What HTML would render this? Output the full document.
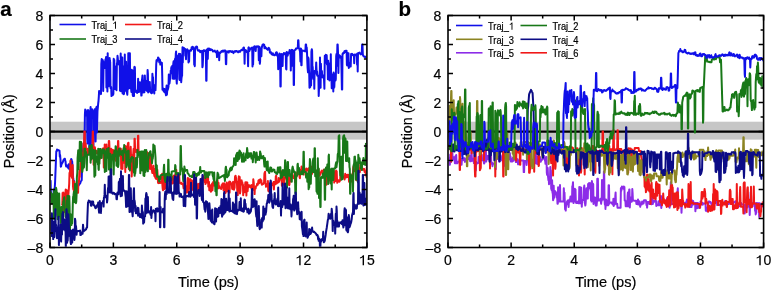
<!DOCTYPE html>
<html><head><meta charset="utf-8"><style>
html,body{margin:0;padding:0;background:#fff;width:771px;height:290px;overflow:hidden}
svg{display:block;filter:blur(0.35px)}
text{font-family:"Liberation Sans",sans-serif;fill:#000;stroke:#000;stroke-width:0.2px}
.tl{font-size:14px}
.at{font-size:14.3px}
.at2{font-size:14.6px}
.pl{font-size:20.5px;font-weight:bold}
.lg{font-size:10px}
</style></head><body>
<svg width="771" height="290" viewBox="0 0 771 290">
<clipPath id="ca"><rect x="50.75" y="16.25" width="315.4" height="230.5"/></clipPath>
<rect x="50" y="121.7" width="316.9" height="17.9" fill="#c6c6c6"/>
<line x1="50" y1="131.6" x2="366.9" y2="131.6" stroke="#000" stroke-width="2.4"/>
<path clip-path="url(#ca)" d="M50.0 196.8L50.3 196.3L50.6 180.8L51.0 197.4L51.3 196.9L51.6 196.4L51.9 195.9L52.2 195.4L52.5 194.9L52.9 194.5L53.2 194.0L53.5 193.5L53.8 189.6L54.1 190.4L54.4 189.9L54.8 187.0L55.1 181.7L55.4 174.0L55.7 166.4L56.0 158.8L56.3 151.2L56.7 151.4L57.0 149.6L57.3 149.7L57.6 149.8L57.9 150.0L58.2 150.1L58.6 150.3L58.9 150.4L59.2 150.6L59.5 150.7L59.8 156.8L60.1 155.0L60.5 159.8L60.8 166.7L61.1 166.3L61.4 164.6L61.7 164.1L62.0 163.3L62.4 162.9L62.7 162.2L63.0 161.7L63.3 160.6L63.6 159.8L63.9 159.4L64.3 159.0L64.6 158.8L64.9 158.7L65.2 160.7L65.5 161.2L65.8 164.5L66.2 166.6L66.5 165.0L66.8 165.6L67.1 166.1L67.4 166.6L67.7 167.1L68.1 167.7L68.4 168.2L68.7 164.3L69.0 164.8L69.3 168.9L69.6 169.5L70.0 165.9L70.3 164.7L70.6 162.5L70.9 160.3L71.2 159.0L71.5 159.4L71.9 161.3L72.2 161.7L72.5 167.0L72.8 172.2L73.1 177.4L73.5 179.7L73.8 180.6L74.1 181.5L74.4 183.9L74.7 184.8L75.0 185.7L75.4 186.5L75.7 186.1L76.0 185.7L76.3 185.2L76.6 184.8L76.9 187.7L77.3 187.3L77.6 186.8L77.9 186.4L78.2 186.0L78.5 185.5L78.8 185.1L79.2 184.6L79.5 184.2L79.8 183.3L80.1 183.3L80.4 182.9L80.7 181.5L81.1 181.0L81.4 180.6L81.7 180.2L82.0 170.2L82.3 160.9L82.6 159.7L83.0 151.4L83.3 147.5L83.6 143.2L83.9 149.4L84.2 145.9L84.5 143.6L84.9 114.5L85.2 109.6L85.5 109.7L85.8 110.8L86.1 111.4L86.4 115.4L86.8 113.3L87.1 113.7L87.4 143.6L87.7 115.5L88.0 110.0L88.3 112.0L88.7 114.2L89.0 111.3L89.3 153.6L89.6 151.4L89.9 149.3L90.2 113.4L90.6 107.0L90.9 145.2L91.2 111.3L91.5 109.8L91.8 112.8L92.1 109.2L92.5 110.3L92.8 111.8L93.1 112.3L93.4 148.9L93.7 111.5L94.0 113.6L94.4 112.8L94.7 109.3L95.0 111.5L95.3 112.5L95.6 141.4L96.0 109.0L96.3 107.7L96.6 106.8L96.9 132.5L97.2 121.3L97.5 110.8L97.9 106.8L98.2 103.3L98.5 101.0L98.8 96.9L99.1 91.1L99.4 91.8L99.8 91.4L100.1 92.5L100.4 92.4L100.7 93.2L101.0 94.1L101.3 64.2L101.7 59.0L102.0 60.6L102.3 60.4L102.6 59.9L102.9 60.6L103.2 90.9L103.6 62.1L103.9 64.0L104.2 63.9L104.5 67.9L104.8 62.9L105.1 61.8L105.5 59.2L105.8 59.8L106.1 56.9L106.4 87.6L106.7 61.2L107.0 60.8L107.4 91.4L107.7 53.2L108.0 86.1L108.3 60.0L108.6 86.3L108.9 85.0L109.3 85.2L109.6 58.0L109.9 61.0L110.2 62.2L110.5 88.0L110.8 86.7L111.2 87.2L111.5 96.1L111.8 94.7L112.1 95.0L112.4 94.3L112.7 95.2L113.1 94.7L113.4 93.7L113.7 58.8L114.0 62.6L114.3 60.1L114.6 88.7L115.0 89.1L115.3 89.0L115.6 69.1L115.9 66.8L116.2 66.3L116.5 90.3L116.9 63.3L117.2 63.3L117.5 55.8L117.8 58.2L118.1 62.2L118.5 64.4L118.8 64.2L119.1 62.4L119.4 64.7L119.7 60.9L120.0 90.8L120.4 89.7L120.7 53.4L121.0 91.2L121.3 77.1L121.6 91.3L121.9 57.6L122.3 57.6L122.6 93.4L122.9 93.0L123.2 92.9L123.5 66.7L123.8 94.2L124.2 92.8L124.5 89.2L124.8 54.6L125.1 88.1L125.4 89.6L125.7 90.8L126.1 61.7L126.4 74.9L126.7 72.2L127.0 93.0L127.3 94.7L127.6 88.6L128.0 89.0L128.3 53.2L128.6 53.2L128.9 59.3L129.2 88.2L129.5 53.2L129.9 53.2L130.2 86.8L130.5 86.1L130.8 87.3L131.1 88.9L131.4 91.9L131.8 69.7L132.1 91.0L132.4 79.0L132.7 94.8L133.0 96.0L133.3 70.6L133.7 70.6L134.0 95.9L134.3 67.1L134.6 66.9L134.9 67.6L135.2 90.7L135.6 90.8L135.9 92.0L136.2 90.7L136.5 90.9L136.8 91.1L137.1 92.9L137.5 92.2L137.8 91.4L138.1 78.7L138.4 89.2L138.7 90.6L139.0 92.0L139.4 90.9L139.7 82.2L140.0 82.2L140.3 86.2L140.6 91.1L141.0 90.4L141.3 95.6L141.6 95.6L141.9 80.4L142.2 78.3L142.5 75.4L142.9 92.6L143.2 91.8L143.5 80.6L143.8 91.0L144.1 91.7L144.4 92.3L144.8 75.4L145.1 80.9L145.4 83.7L145.7 89.4L146.0 80.8L146.3 90.2L146.7 90.3L147.0 90.9L147.3 91.1L147.6 69.9L147.9 74.1L148.2 92.5L148.6 91.9L148.9 91.7L149.2 90.7L149.5 87.1L149.8 82.1L150.1 90.8L150.5 91.2L150.8 92.2L151.1 93.0L151.4 93.2L151.7 92.3L152.0 93.0L152.4 73.7L152.7 79.3L153.0 77.2L153.3 90.0L153.6 91.3L153.9 91.5L154.3 93.5L154.6 85.2L154.9 89.0L155.2 87.7L155.5 90.1L155.8 82.1L156.2 64.7L156.5 60.2L156.8 61.7L157.1 60.2L157.4 59.8L157.7 59.6L158.1 57.4L158.4 58.1L158.7 58.2L159.0 60.3L159.3 62.3L159.6 61.9L160.0 59.8L160.3 64.6L160.6 63.9L160.9 62.3L161.2 64.4L161.5 63.6L161.9 62.8L162.2 74.5L162.5 89.7L162.8 89.1L163.1 88.5L163.5 90.6L163.8 91.4L164.1 90.1L164.4 89.0L164.7 92.3L165.0 91.1L165.4 91.0L165.7 93.4L166.0 95.3L166.3 88.9L166.6 85.5L166.9 94.7L167.3 89.8L167.6 90.1L167.9 89.1L168.2 88.1L168.5 86.5L168.8 74.5L169.2 83.9L169.5 83.3L169.8 80.8L170.1 77.9L170.4 78.9L170.7 70.8L171.1 69.4L171.4 67.0L171.7 73.2L172.0 69.9L172.3 65.7L172.6 65.9L173.0 78.8L173.3 63.4L173.6 61.4L173.9 61.2L174.2 76.0L174.5 78.8L174.9 59.9L175.2 58.4L175.5 62.6L175.8 53.6L176.1 51.4L176.4 78.6L176.8 83.6L177.1 72.9L177.4 56.9L177.7 56.8L178.0 56.0L178.3 55.2L178.7 65.8L179.0 53.7L179.3 79.0L179.6 80.0L179.9 66.9L180.2 53.9L180.6 57.4L180.9 75.6L181.2 82.2L181.5 78.1L181.8 76.3L182.1 75.8L182.5 47.2L182.8 62.4L183.1 48.5L183.4 48.3L183.7 47.8L184.0 48.0L184.4 48.6L184.7 48.7L185.0 48.7L185.3 55.8L185.6 51.7L186.0 59.3L186.3 49.9L186.6 49.6L186.9 49.6L187.2 49.3L187.5 50.9L187.9 50.1L188.2 50.8L188.5 62.5L188.8 59.2L189.1 61.5L189.4 50.7L189.8 50.9L190.1 50.5L190.4 50.1L190.7 50.6L191.0 50.7L191.3 49.8L191.7 47.2L192.0 47.6L192.3 47.2L192.6 46.8L192.9 46.9L193.2 49.0L193.6 48.6L193.9 48.7L194.2 64.8L194.5 62.5L194.8 66.2L195.1 48.0L195.5 47.2L195.8 46.8L196.1 46.8L196.4 46.5L196.7 47.9L197.0 46.8L197.4 49.0L197.7 50.1L198.0 50.3L198.3 50.8L198.6 50.6L198.9 50.7L199.3 50.3L199.6 50.8L199.9 51.0L200.2 52.2L200.5 50.9L200.8 51.2L201.2 51.3L201.5 51.6L201.8 51.5L202.1 50.8L202.4 67.3L202.7 65.8L203.1 57.0L203.4 51.3L203.7 50.3L204.0 50.9L204.3 51.0L204.6 50.4L205.0 50.9L205.3 50.6L205.6 50.7L205.9 50.5L206.2 80.8L206.5 80.8L206.9 49.6L207.2 49.8L207.5 58.0L207.8 58.9L208.1 48.4L208.4 49.2L208.8 50.3L209.1 49.8L209.4 48.6L209.7 49.4L210.0 49.0L210.4 50.1L210.7 49.9L211.0 49.4L211.3 49.6L211.6 49.8L211.9 49.8L212.3 50.2L212.6 50.4L212.9 51.4L213.2 51.1L213.5 51.0L213.8 51.4L214.2 51.2L214.5 51.0L214.8 50.6L215.1 51.2L215.4 51.7L215.7 52.2L216.1 52.3L216.4 52.8L216.7 52.1L217.0 57.1L217.3 50.7L217.6 51.9L218.0 52.3L218.3 52.3L218.6 52.9L218.9 52.7L219.2 60.2L219.5 52.8L219.9 52.5L220.2 53.1L220.5 52.2L220.8 52.2L221.1 51.6L221.4 51.3L221.8 51.6L222.1 51.1L222.4 50.7L222.7 51.5L223.0 51.8L223.3 50.6L223.7 50.8L224.0 51.1L224.3 50.6L224.6 50.5L224.9 50.4L225.2 50.6L225.6 53.7L225.9 64.1L226.2 64.2L226.5 53.4L226.8 51.6L227.1 51.3L227.5 51.8L227.8 51.7L228.1 52.1L228.4 51.8L228.7 52.5L229.0 50.9L229.4 51.4L229.7 51.5L230.0 51.5L230.3 51.1L230.6 51.5L230.9 51.5L231.3 51.9L231.6 51.4L231.9 51.7L232.2 51.9L232.5 51.2L232.9 51.6L233.2 52.3L233.5 53.1L233.8 51.9L234.1 51.9L234.4 51.4L234.8 51.2L235.1 51.8L235.4 51.6L235.7 51.1L236.0 51.2L236.3 50.9L236.7 50.9L237.0 51.6L237.3 51.7L237.6 51.6L237.9 51.6L238.2 52.3L238.6 52.1L238.9 51.2L239.2 51.1L239.5 51.2L239.8 51.4L240.1 51.7L240.5 50.7L240.8 50.7L241.1 50.3L241.4 49.7L241.7 49.8L242.0 50.1L242.4 50.2L242.7 49.7L243.0 49.1L243.3 48.0L243.6 47.5L243.9 47.5L244.3 50.4L244.6 63.7L244.9 50.7L245.2 51.0L245.5 51.0L245.8 50.1L246.2 50.6L246.5 51.5L246.8 52.1L247.1 51.9L247.4 51.8L247.7 51.8L248.1 66.3L248.4 48.0L248.7 47.3L249.0 47.9L249.3 51.0L249.6 50.3L250.0 49.4L250.3 49.0L250.6 48.7L250.9 48.2L251.2 48.1L251.5 48.0L251.9 47.6L252.2 47.6L252.5 66.5L252.8 63.5L253.1 64.5L253.4 51.9L253.8 47.6L254.1 46.7L254.4 46.3L254.7 46.4L255.0 46.4L255.4 46.6L255.7 51.0L256.0 46.9L256.3 47.2L256.6 46.8L256.9 46.3L257.3 46.7L257.6 46.8L257.9 46.3L258.2 46.4L258.5 46.6L258.8 60.2L259.2 46.7L259.5 47.5L259.8 63.8L260.1 61.8L260.4 48.6L260.7 49.0L261.1 48.9L261.4 56.2L261.7 46.7L262.0 47.2L262.3 45.5L262.6 44.7L263.0 44.6L263.3 44.2L263.6 44.8L263.9 44.6L264.2 44.8L264.5 48.3L264.9 46.6L265.2 46.8L265.5 47.6L265.8 48.1L266.1 48.1L266.4 48.7L266.8 49.0L267.1 48.8L267.4 49.1L267.7 49.8L268.0 49.4L268.3 48.5L268.7 47.8L269.0 48.2L269.3 48.8L269.6 49.1L269.9 52.6L270.2 52.2L270.6 52.0L270.9 52.2L271.2 53.4L271.5 54.1L271.8 54.2L272.1 53.8L272.5 54.8L272.8 53.2L273.1 54.0L273.4 54.1L273.7 54.5L274.0 55.2L274.4 55.2L274.7 55.3L275.0 55.0L275.3 54.9L275.6 54.8L275.9 52.8L276.3 52.2L276.6 52.2L276.9 52.6L277.2 55.7L277.5 55.7L277.9 55.1L278.2 69.2L278.5 55.4L278.8 66.2L279.1 55.0L279.4 53.4L279.8 54.3L280.1 54.0L280.4 86.5L280.7 86.5L281.0 55.7L281.3 63.0L281.7 54.1L282.0 54.3L282.3 54.3L282.6 66.1L282.9 53.9L283.2 54.0L283.6 54.5L283.9 53.0L284.2 53.2L284.5 53.3L284.8 54.3L285.1 53.8L285.5 53.3L285.8 54.6L286.1 69.0L286.4 69.4L286.7 52.1L287.0 55.6L287.4 55.7L287.7 55.6L288.0 52.4L288.3 52.6L288.6 53.5L288.9 53.2L289.3 53.3L289.6 50.0L289.9 50.6L290.2 51.3L290.5 51.2L290.8 70.4L291.2 50.6L291.5 50.3L291.8 49.9L292.1 50.3L292.4 65.7L292.7 50.2L293.1 51.9L293.4 51.1L293.7 85.1L294.0 85.1L294.3 50.6L294.6 50.3L295.0 50.0L295.3 49.8L295.6 49.8L295.9 48.6L296.2 48.4L296.5 48.4L296.9 48.5L297.2 48.4L297.5 47.8L297.8 48.0L298.1 40.2L298.4 40.2L298.8 48.2L299.1 48.6L299.4 48.7L299.7 50.7L300.0 50.8L300.4 61.4L300.7 48.4L301.0 48.7L301.3 65.2L301.6 65.2L301.9 50.0L302.3 50.5L302.6 50.6L302.9 50.7L303.2 50.8L303.5 50.9L303.8 50.8L304.2 50.9L304.5 50.7L304.8 51.2L305.1 51.1L305.4 51.4L305.7 44.5L306.1 44.5L306.4 49.5L306.7 47.4L307.0 52.4L307.3 61.1L307.6 68.0L308.0 72.3L308.3 57.6L308.6 59.0L308.9 69.3L309.2 73.0L309.5 87.7L309.9 85.1L310.2 87.2L310.5 85.5L310.8 83.9L311.1 85.3L311.4 51.6L311.8 49.2L312.1 50.7L312.4 66.1L312.7 66.8L313.0 75.7L313.3 78.8L313.7 71.8L314.0 72.1L314.3 88.7L314.6 71.1L314.9 71.6L315.2 72.9L315.6 70.8L315.9 70.0L316.2 62.4L316.5 69.0L316.8 74.6L317.1 71.5L317.5 75.8L317.8 75.6L318.1 75.9L318.4 75.7L318.7 96.0L319.0 88.4L319.4 82.8L319.7 80.8L320.0 57.4L320.3 87.6L320.6 87.7L320.9 63.7L321.3 77.0L321.6 77.2L321.9 71.0L322.2 77.1L322.5 77.2L322.9 75.6L323.2 77.6L323.5 76.3L323.8 75.2L324.1 81.4L324.4 88.8L324.8 55.8L325.1 60.6L325.4 59.6L325.7 54.8L326.0 62.8L326.3 61.9L326.7 55.2L327.0 64.5L327.3 62.8L327.6 64.0L327.9 79.3L328.2 60.8L328.6 79.1L328.9 63.3L329.2 67.5L329.5 80.4L329.8 79.7L330.1 77.6L330.5 78.7L330.8 54.3L331.1 77.2L331.4 75.7L331.7 88.2L332.0 74.2L332.4 75.8L332.7 75.0L333.0 76.4L333.3 91.5L333.6 72.4L333.9 77.6L334.3 87.4L334.6 79.8L334.9 74.4L335.2 74.0L335.5 80.6L335.8 79.1L336.2 56.1L336.5 53.9L336.8 65.7L337.1 56.8L337.4 44.5L337.7 44.5L338.1 54.8L338.4 73.0L338.7 55.1L339.0 55.1L339.3 55.3L339.6 55.4L340.0 55.9L340.3 57.6L340.6 57.7L340.9 57.2L341.2 56.8L341.5 68.8L341.9 89.5L342.2 89.5L342.5 54.1L342.8 53.4L343.1 53.7L343.4 53.2L343.8 52.6L344.1 53.0L344.4 51.3L344.7 51.1L345.0 51.8L345.4 51.9L345.7 50.7L346.0 50.8L346.3 51.0L346.6 50.9L346.9 65.1L347.3 65.5L347.6 64.4L347.9 53.0L348.2 65.7L348.5 53.3L348.8 68.0L349.2 66.6L349.5 66.9L349.8 65.5L350.1 65.5L350.4 62.8L350.7 66.4L351.1 54.0L351.4 54.2L351.7 54.4L352.0 53.8L352.3 54.1L352.6 54.9L353.0 55.2L353.3 55.4L353.6 55.3L353.9 54.8L354.2 63.3L354.5 54.6L354.9 54.5L355.2 54.5L355.5 54.7L355.8 54.9L356.1 55.3L356.4 54.6L356.8 54.0L357.1 64.7L357.4 53.4L357.7 71.6L358.0 53.3L358.3 53.0L358.7 53.2L359.0 52.7L359.3 52.7L359.6 52.5L359.9 53.5L360.2 53.5L360.6 54.2L360.9 54.4L361.2 54.3L361.5 53.8L361.8 53.5L362.1 44.5L362.5 44.5L362.8 54.1L363.1 55.5L363.4 55.9L363.7 56.4L364.0 56.5L364.4 56.5L364.7 56.8L365.0 57.2L365.3 56.7L365.6 56.7L365.9 57.4L366.3 57.0L366.6 56.7L366.9 56.7" fill="none" stroke="#1010e8" stroke-width="2.0" stroke-linejoin="round"/>
<path clip-path="url(#ca)" d="M61.6 204.0L61.9 204.3L62.3 204.6L62.6 192.9L62.9 214.1L63.2 192.5L63.5 193.0L63.8 212.3L64.2 211.0L64.5 212.1L64.8 212.1L65.1 195.7L65.4 193.4L65.7 189.6L66.1 192.1L66.4 190.9L66.7 190.2L67.0 211.2L67.3 196.1L67.6 205.5L68.0 191.9L68.3 195.7L68.6 191.6L68.9 188.1L69.2 183.6L69.5 173.0L69.9 172.1L70.2 169.5L70.5 160.5L70.8 174.6L71.1 174.3L71.4 176.2L71.8 177.0L72.1 177.9L72.4 167.9L72.7 165.1L73.0 186.1L73.3 189.4L73.7 189.5L74.0 192.7L74.3 181.7L74.6 195.7L74.9 194.3L75.2 194.7L75.6 196.7L75.9 187.3L76.2 186.9L76.5 186.1L76.8 191.1L77.1 192.7L77.5 188.4L77.8 190.1L78.1 192.8L78.4 181.1L78.7 181.7L79.0 182.3L79.4 171.4L79.7 177.0L80.0 170.5L80.3 168.2L80.6 164.6L81.0 160.0L81.3 164.1L81.6 165.7L81.9 152.5L82.2 159.3L82.5 158.7L82.9 158.3L83.2 157.7L83.5 143.6L83.8 143.4L84.1 143.0L84.4 131.5L84.8 131.5L85.1 156.6L85.4 143.4L85.7 143.6L86.0 149.0L86.3 149.1L86.7 149.2L87.0 149.2L87.3 148.9L87.6 154.8L87.9 148.7L88.2 152.4L88.6 152.0L88.9 153.1L89.2 153.4L89.5 152.6L89.8 153.7L90.1 152.1L90.5 152.9L90.8 153.3L91.1 153.2L91.4 152.8L91.7 149.8L92.0 151.6L92.4 151.7L92.7 131.5L93.0 131.5L93.3 147.8L93.6 164.8L93.9 156.8L94.3 157.5L94.6 165.0L94.9 147.2L95.2 151.6L95.5 153.1L95.8 152.7L96.2 153.0L96.5 151.6L96.8 150.8L97.1 153.2L97.4 152.3L97.7 152.5L98.1 153.0L98.4 153.3L98.7 153.4L99.0 156.5L99.3 156.3L99.6 154.6L100.0 153.8L100.3 158.4L100.6 157.6L100.9 154.7L101.2 151.8L101.5 152.2L101.9 151.4L102.2 149.7L102.5 149.5L102.8 148.7L103.1 148.3L103.5 148.9L103.8 167.6L104.1 163.3L104.4 161.2L104.7 144.4L105.0 157.3L105.4 158.6L105.7 161.8L106.0 158.3L106.3 144.4L106.6 155.1L106.9 151.3L107.3 153.0L107.6 153.3L107.9 157.3L108.2 147.5L108.5 148.5L108.8 140.9L109.2 140.9L109.5 148.3L109.8 165.9L110.1 150.2L110.4 149.7L110.7 150.0L111.1 148.8L111.4 149.4L111.7 152.0L112.0 153.6L112.3 156.5L112.6 151.1L113.0 149.9L113.3 152.2L113.6 152.2L113.9 151.7L114.2 152.4L114.5 155.7L114.9 152.6L115.2 150.2L115.5 150.0L115.8 160.7L116.1 153.9L116.4 157.8L116.8 157.3L117.1 158.9L117.4 150.7L117.7 153.4L118.0 140.9L118.3 140.9L118.7 154.4L119.0 152.4L119.3 149.0L119.6 155.7L119.9 154.9L120.2 151.2L120.6 148.6L120.9 148.8L121.2 168.8L121.5 166.4L121.8 166.6L122.1 168.1L122.5 168.9L122.8 152.1L123.1 152.0L123.4 152.7L123.7 151.8L124.0 162.8L124.4 160.6L124.7 146.9L125.0 146.4L125.3 172.0L125.6 146.1L126.0 146.6L126.3 165.6L126.6 162.9L126.9 149.0L127.2 148.4L127.5 148.6L127.9 143.5L128.2 142.8L128.5 142.8L128.8 169.1L129.1 153.1L129.4 165.8L129.8 153.9L130.1 153.0L130.4 153.6L130.7 146.8L131.0 155.5L131.3 156.0L131.7 176.4L132.0 171.3L132.3 167.8L132.6 155.3L132.9 154.8L133.2 154.4L133.6 148.9L133.9 148.8L134.2 167.2L134.5 138.8L134.8 138.8L135.1 150.2L135.5 150.6L135.8 151.9L136.1 149.8L136.4 150.3L136.7 150.9L137.0 152.0L137.4 153.0L137.7 152.1L138.0 135.8L138.3 135.8L138.6 152.8L138.9 151.5L139.3 151.7L139.6 152.5L139.9 153.0L140.2 152.7L140.5 159.5L140.8 167.3L141.2 170.3L141.5 154.3L141.8 154.9L142.1 156.4L142.4 157.4L142.7 162.5L143.1 162.0L143.4 157.4L143.7 162.9L144.0 155.8L144.3 156.6L144.6 161.8L145.0 155.6L145.3 155.9L145.6 153.3L145.9 152.4L146.2 152.1L146.5 153.0L146.9 152.2L147.2 152.3L147.5 157.0L147.8 153.7L148.1 153.9L148.5 166.7L148.8 153.2L149.1 156.8L149.4 157.0L149.7 167.7L150.0 169.1L150.4 160.3L150.7 153.9L151.0 154.8L151.3 165.8L151.6 167.8L151.9 170.2L152.3 172.9L152.6 169.9L152.9 171.1L153.2 173.0L153.5 165.8L153.8 172.1L154.2 175.0L154.5 176.4L154.8 168.9L155.1 176.5L155.4 177.8L155.7 178.4L156.1 179.0L156.4 172.5L156.7 172.5L157.0 174.6L157.3 169.8L157.6 174.5L158.0 182.3L158.3 183.1L158.6 182.5L158.9 182.2L159.2 182.8L159.5 183.0L159.9 182.4L160.2 182.9L160.5 182.5L160.8 181.9L161.1 182.6L161.4 180.5L161.8 180.8L162.1 173.7L162.4 185.0L162.7 188.6L163.0 190.2L163.3 176.5L163.7 176.0L164.0 183.0L164.3 189.1L164.6 180.3L164.9 180.4L165.2 179.1L165.6 175.7L165.9 184.2L166.2 188.7L166.5 185.4L166.8 183.3L167.1 183.6L167.5 183.6L167.8 176.2L168.1 179.0L168.4 175.3L168.7 175.9L169.0 173.4L169.4 179.3L169.7 178.7L170.0 178.1L170.3 183.3L170.6 181.8L171.0 180.0L171.3 179.7L171.6 176.5L171.9 183.6L172.2 183.6L172.5 182.7L172.9 180.3L173.2 183.0L173.5 176.0L173.8 175.6L174.1 175.6L174.4 175.9L174.8 175.3L175.1 174.8L175.4 175.6L175.7 171.8L176.0 171.1L176.3 169.9L176.7 177.1L177.0 181.8L177.3 181.9L177.6 176.3L177.9 174.8L178.2 177.4L178.6 177.8L178.9 177.8L179.2 174.8L179.5 182.8L179.8 182.4L180.1 183.1L180.5 183.1L180.8 183.2L181.1 183.7L181.4 182.8L181.7 183.9L182.0 183.4L182.4 183.8L182.7 184.2L183.0 184.0L183.3 186.3L183.6 188.3L183.9 188.2L184.3 181.6L184.6 181.6L184.9 186.6L185.2 185.7L185.5 192.9L185.8 191.9L186.2 191.5L186.5 190.8L186.8 185.9L187.1 192.4L187.4 183.6L187.7 178.0L188.1 178.5L188.4 178.3L188.7 192.8L189.0 187.6L189.3 179.4L189.6 188.1L190.0 179.6L190.3 179.1L190.6 180.0L190.9 179.9L191.2 186.0L191.5 180.4L191.9 180.9L192.2 188.7L192.5 188.7L192.8 188.0L193.1 190.1L193.5 187.2L193.8 178.8L194.1 178.8L194.4 176.5L194.7 193.8L195.0 185.0L195.4 184.4L195.7 185.3L196.0 184.9L196.3 183.2L196.6 196.3L196.9 196.3L197.3 186.4L197.6 185.7L197.9 185.3L198.2 184.1L198.5 186.3L198.8 188.9L199.2 184.5L199.5 183.4L199.8 184.0L200.1 184.6L200.4 190.2L200.7 189.8L201.1 185.7L201.4 181.8L201.7 178.6L202.0 187.3L202.3 184.3L202.6 179.4L203.0 179.9L203.3 180.2L203.6 176.3L203.9 178.0L204.2 178.4L204.5 177.9L204.9 182.2L205.2 180.2L205.5 184.1L205.8 183.0L206.1 181.9L206.4 182.6L206.8 174.0L207.1 176.8L207.4 178.5L207.7 177.8L208.0 174.0L208.3 186.5L208.7 183.0L209.0 181.9L209.3 190.3L209.6 189.7L209.9 190.0L210.2 185.2L210.6 190.5L210.9 191.8L211.2 191.3L211.5 189.9L211.8 186.2L212.1 183.6L212.5 190.2L212.8 185.8L213.1 182.4L213.4 181.7L213.7 183.3L214.0 180.3L214.4 185.5L214.7 181.5L215.0 182.7L215.3 182.5L215.6 186.2L215.9 186.2L216.3 185.0L216.6 185.9L216.9 186.3L217.2 181.1L217.5 180.2L217.9 188.4L218.2 182.8L218.5 182.7L218.8 187.9L219.1 186.0L219.4 187.4L219.8 187.5L220.1 187.3L220.4 188.6L220.7 188.2L221.0 187.8L221.3 189.0L221.7 184.9L222.0 185.1L222.3 185.0L222.6 183.6L222.9 184.0L223.2 183.9L223.6 190.4L223.9 187.4L224.2 183.3L224.5 187.9L224.8 187.1L225.1 188.2L225.5 193.0L225.8 184.4L226.1 184.3L226.4 183.6L226.7 182.5L227.0 191.4L227.4 184.3L227.7 183.5L228.0 188.5L228.3 187.7L228.6 191.3L228.9 182.8L229.3 181.6L229.6 192.6L229.9 181.9L230.2 181.8L230.5 182.6L230.8 183.4L231.2 184.3L231.5 183.7L231.8 183.5L232.1 188.4L232.4 189.1L232.7 182.9L233.1 181.9L233.4 188.4L233.7 187.1L234.0 189.7L234.3 188.1L234.6 187.9L235.0 176.9L235.3 176.1L235.6 175.7L235.9 177.6L236.2 178.1L236.5 182.2L236.9 181.5L237.2 190.3L237.5 191.2L237.8 195.1L238.1 186.7L238.4 189.3L238.8 176.3L239.1 178.7L239.4 178.6L239.7 176.9L240.0 193.6L240.4 191.1L240.7 183.7L241.0 181.2L241.3 180.5L241.6 180.4L241.9 182.8L242.3 182.3L242.6 184.8L242.9 184.5L243.2 195.3L243.5 186.2L243.8 186.0L244.2 187.9L244.5 192.2L244.8 186.3L245.1 185.2L245.4 182.3L245.7 183.8L246.1 186.2L246.4 195.6L246.7 182.2L247.0 182.6L247.3 182.5L247.6 191.2L248.0 186.9L248.3 185.6L248.6 185.2L248.9 186.7L249.2 185.3L249.5 185.5L249.9 186.2L250.2 186.8L250.5 187.4L250.8 187.0L251.1 185.4L251.4 185.0L251.8 189.4L252.1 188.6L252.4 190.3L252.7 188.8L253.0 188.6L253.3 179.3L253.7 182.3L254.0 187.7L254.3 187.7L254.6 194.1L254.9 187.5L255.2 187.8L255.6 188.5L255.9 186.6L256.2 186.0L256.5 186.0L256.8 185.6L257.1 183.8L257.5 184.4L257.8 184.6L258.1 183.5L258.4 180.5L258.7 183.4L259.0 180.1L259.4 183.0L259.7 181.1L260.0 181.1L260.3 179.2L260.6 180.0L260.9 180.2L261.3 180.2L261.6 183.8L261.9 184.7L262.2 184.2L262.5 184.3L262.9 184.1L263.2 183.6L263.5 183.9L263.8 182.9L264.1 182.4L264.4 173.7L264.8 172.2L265.1 171.7L265.4 182.4L265.7 183.5L266.0 186.8L266.3 185.4L266.7 186.1L267.0 185.7L267.3 185.2L267.6 185.3L267.9 180.9L268.2 190.2L268.6 191.3L268.9 186.5L269.2 186.7L269.5 185.3L269.8 190.5L270.1 184.0L270.5 190.8L270.8 188.0L271.1 189.8L271.4 183.8L271.7 184.6L272.0 184.2L272.4 183.6L272.7 183.4L273.0 185.2L273.3 185.0L273.6 181.9L273.9 189.5L274.3 181.9L274.6 182.3L274.9 182.8L275.2 183.2L275.5 184.2L275.8 176.4L276.2 175.6L276.5 183.6L276.8 182.8L277.1 182.8L277.4 181.4L277.7 182.7L278.1 182.4L278.4 182.1L278.7 177.9L279.0 181.8L279.3 181.0L279.6 180.0L280.0 179.0L280.3 179.2L280.6 178.3L280.9 178.5L281.2 171.3L281.5 174.0L281.9 185.7L282.2 182.4L282.5 182.5L282.8 184.4L283.1 183.3L283.4 176.8L283.8 183.4L284.1 184.6L284.4 180.4L284.7 178.0L285.0 177.4L285.4 178.5L285.7 175.3L286.0 177.4L286.3 177.1L286.6 168.6L286.9 168.8L287.3 168.3L287.6 169.3L287.9 177.8L288.2 180.5L288.5 179.4L288.8 184.6L289.2 185.1L289.5 184.3L289.8 177.3L290.1 181.6L290.4 177.0L290.7 176.9L291.1 177.1L291.4 175.6L291.7 174.9L292.0 175.9L292.3 175.8L292.6 176.4L293.0 176.6L293.3 178.0L293.6 177.4L293.9 177.4L294.2 177.0L294.5 173.6L294.9 179.4L295.2 182.1L295.5 173.7L295.8 176.8L296.1 176.9L296.4 176.9L296.8 174.6L297.1 172.6L297.4 174.7L297.7 174.1L298.0 173.6L298.3 172.1L298.7 172.3L299.0 170.8L299.3 170.1L299.6 177.2L299.9 178.2L300.2 170.1L300.6 170.6L300.9 170.8L301.2 171.2L301.5 166.5L301.8 168.8L302.1 170.1L302.5 170.0L302.8 169.7L303.1 170.6L303.4 167.4L303.7 174.6L304.0 168.5L304.4 169.3L304.7 169.7L305.0 169.3L305.3 169.7L305.6 171.0L305.9 171.4L306.3 168.4L306.6 170.7L306.9 170.0L307.2 170.1L307.5 170.5L307.9 169.6L308.2 169.0L308.5 168.4L308.8 172.4L309.1 173.5L309.4 169.5L309.8 168.7L310.1 169.3L310.4 166.3L310.7 169.5L311.0 174.1L311.3 169.9L311.7 174.2L312.0 173.6L312.3 166.7L312.6 166.1L312.9 166.6L313.2 168.4L313.6 162.6L313.9 165.7L314.2 168.8L314.5 170.1L314.8 169.9L315.1 169.8L315.5 170.2L315.8 170.7L316.1 170.9L316.4 171.0L316.7 170.8L317.0 171.2L317.4 172.1L317.7 172.8L318.0 173.0L318.3 171.6L318.6 169.3L318.9 175.9L319.3 175.7L319.6 175.6L319.9 174.3L320.2 174.7L320.5 173.6L320.8 172.1L321.2 172.0L321.5 171.0L321.8 170.6L322.1 171.7L322.4 172.1L322.7 173.2L323.1 173.5L323.4 172.5L323.7 170.0L324.0 169.5L324.3 170.6L324.6 171.0L325.0 175.0L325.3 174.4L325.6 171.9L325.9 172.3L326.2 168.4L326.5 184.7L326.9 170.3L327.2 169.9L327.5 169.9L327.8 176.1L328.1 177.5L328.4 176.7L328.8 176.7L329.1 177.0L329.4 176.7L329.7 176.4L330.0 180.4L330.4 181.1L330.7 182.3L331.0 175.0L331.3 176.5L331.6 176.6L331.9 173.8L332.3 173.9L332.6 173.8L332.9 173.3L333.2 175.9L333.5 176.1L333.8 171.0L334.2 182.6L334.5 172.9L334.8 173.5L335.1 172.8L335.4 181.0L335.7 180.3L336.1 170.4L336.4 171.5L336.7 171.4L337.0 179.5L337.3 182.8L337.6 181.9L338.0 181.3L338.3 181.6L338.6 180.3L338.9 180.7L339.2 181.1L339.5 181.6L339.9 180.8L340.2 179.6L340.5 173.8L340.8 174.4L341.1 173.9L341.4 174.8L341.8 175.1L342.1 175.1L342.4 173.5L342.7 177.3L343.0 176.2L343.3 177.2L343.7 177.6L344.0 178.0L344.3 176.5L344.6 179.5L344.9 176.5L345.2 173.8L345.6 175.0L345.9 174.9L346.2 177.4L346.5 175.1L346.8 176.4L347.1 175.6L347.5 177.1L347.8 174.8L348.1 174.7L348.4 175.1L348.7 175.4L349.0 181.3L349.4 182.2L349.7 181.6L350.0 181.2L350.3 180.8L350.6 181.6L350.9 181.4L351.3 181.0L351.6 180.6L351.9 181.5L352.2 179.4L352.5 174.1L352.9 173.1L353.2 168.2L353.5 166.4L353.8 170.6L354.1 170.5L354.4 171.2L354.8 170.6L355.1 170.8L355.4 170.6L355.7 169.5L356.0 165.6L356.3 180.2L356.7 179.6L357.0 170.4L357.3 172.4L357.6 172.9L357.9 173.2L358.2 169.4L358.6 163.1L358.9 168.6L359.2 171.4L359.5 171.8L359.8 172.2L360.1 168.6L360.5 168.5L360.8 168.3L361.1 168.2L361.4 168.6L361.7 166.1L362.0 169.3L362.4 169.5L362.7 169.7L363.0 169.8L363.3 169.5L363.6 168.8L363.9 169.0L364.3 168.9L364.6 172.0L364.9 172.2L365.2 172.2L365.5 171.1L365.8 173.6L366.2 174.1L366.5 176.8L366.8 166.7" fill="none" stroke="#f01818" stroke-width="2.0" stroke-linejoin="round"/>
<path clip-path="url(#ca)" d="M50.0 204.0L50.3 204.1L50.6 198.8L51.0 192.3L51.3 197.8L51.6 203.2L51.9 202.1L52.2 196.3L52.5 194.2L52.9 194.3L53.2 194.3L53.5 194.4L53.8 218.8L54.1 190.9L54.4 218.9L54.8 214.5L55.1 213.1L55.4 215.9L55.7 192.1L56.0 187.7L56.3 188.9L56.7 192.6L57.0 193.3L57.3 192.9L57.6 219.2L57.9 219.3L58.2 219.3L58.6 210.3L58.9 210.7L59.2 193.6L59.5 210.9L59.8 210.9L60.1 216.0L60.5 217.0L60.8 222.9L61.1 221.1L61.4 206.9L61.7 207.0L62.0 221.6L62.4 207.1L62.7 207.2L63.0 205.2L63.3 201.4L63.6 201.5L63.9 199.0L64.3 197.2L64.6 211.3L64.9 211.4L65.2 211.4L65.5 216.8L65.8 217.1L66.2 217.8L66.5 214.4L66.8 200.4L67.1 219.2L67.4 195.8L67.7 215.5L68.1 211.8L68.4 213.5L68.7 196.0L69.0 196.1L69.3 196.2L69.6 206.3L70.0 230.8L70.3 214.1L70.6 214.2L70.9 221.4L71.2 222.0L71.5 225.0L71.9 219.6L72.2 223.1L72.5 217.5L72.8 204.0L73.1 196.9L73.5 195.2L73.8 192.7L74.1 191.4L74.4 199.5L74.7 202.2L75.0 184.1L75.4 187.2L75.7 193.9L76.0 203.2L76.3 201.3L76.6 194.1L76.9 177.1L77.3 172.6L77.6 157.8L77.9 154.7L78.2 150.3L78.5 169.4L78.8 153.4L79.2 161.3L79.5 160.1L79.8 141.8L80.1 141.8L80.4 153.5L80.7 161.2L81.1 141.9L81.4 151.1L81.7 157.7L82.0 170.4L82.3 172.0L82.6 169.6L83.0 168.2L83.3 157.6L83.6 165.8L83.9 167.6L84.2 163.7L84.5 148.8L84.9 148.8L85.2 148.8L85.5 151.6L85.8 154.7L86.1 151.9L86.4 157.3L86.8 170.3L87.1 154.7L87.4 154.7L87.7 154.7L88.0 154.7L88.3 154.7L88.7 154.7L89.0 154.7L89.3 154.7L89.6 145.9L89.9 153.6L90.2 148.9L90.6 162.8L90.9 148.9L91.2 159.8L91.5 145.0L91.8 145.0L92.1 153.3L92.5 158.4L92.8 156.1L93.1 157.3L93.4 153.6L93.7 149.9L94.0 152.9L94.4 176.7L94.7 173.7L95.0 174.7L95.3 175.4L95.6 150.6L96.0 158.7L96.3 158.7L96.6 161.8L96.9 157.0L97.2 158.7L97.5 158.7L97.9 164.4L98.2 148.7L98.5 168.9L98.8 169.9L99.1 155.2L99.4 163.8L99.8 149.0L100.1 150.2L100.4 149.1L100.7 149.1L101.0 154.7L101.3 156.9L101.7 158.0L102.0 153.0L102.3 150.9L102.6 150.9L102.9 149.5L103.2 152.9L103.6 149.5L103.9 149.5L104.2 152.7L104.5 155.7L104.8 172.0L105.1 168.2L105.5 151.2L105.8 151.2L106.1 159.6L106.4 171.1L106.7 148.9L107.0 148.9L107.4 157.7L107.7 149.3L108.0 149.9L108.3 154.6L108.6 148.1L108.9 169.6L109.3 167.7L109.6 153.5L109.9 153.8L110.2 153.8L110.5 173.1L110.8 174.6L111.2 157.8L111.5 157.8L111.8 159.6L112.1 156.8L112.4 154.7L112.7 155.6L113.1 156.3L113.4 167.5L113.7 174.4L114.0 158.8L114.3 151.1L114.6 156.2L115.0 156.2L115.3 156.2L115.6 146.3L115.9 146.4L116.2 151.3L116.5 165.8L116.9 151.3L117.2 151.3L117.5 154.6L117.8 161.6L118.1 167.1L118.5 164.4L118.8 149.7L119.1 148.8L119.4 151.2L119.7 148.6L120.0 154.5L120.4 154.1L120.7 151.6L121.0 151.6L121.3 151.6L121.6 151.9L121.9 155.0L122.3 150.8L122.6 154.4L122.9 151.9L123.2 160.4L123.5 148.2L123.8 152.3L124.2 144.9L124.5 152.5L124.8 150.0L125.1 149.3L125.4 148.7L125.7 152.2L126.1 152.2L126.4 167.2L126.7 165.5L127.0 164.0L127.3 162.8L127.6 151.3L128.0 150.7L128.3 150.7L128.6 150.7L128.9 166.9L129.2 166.9L129.5 167.9L129.9 170.5L130.2 163.1L130.5 159.7L130.8 161.8L131.1 158.1L131.4 158.1L131.8 157.0L132.1 157.2L132.4 158.0L132.7 158.0L133.0 157.7L133.3 157.7L133.7 170.6L134.0 172.5L134.3 169.1L134.6 175.8L134.9 171.9L135.2 173.7L135.6 169.6L135.9 157.9L136.2 157.9L136.5 164.1L136.8 167.4L137.1 163.1L137.5 149.9L137.8 157.1L138.1 152.8L138.4 152.8L138.7 152.8L139.0 152.8L139.4 155.0L139.7 152.2L140.0 152.0L140.3 173.2L140.6 155.0L141.0 151.6L141.3 151.6L141.6 151.6L141.9 168.2L142.2 170.4L142.5 151.6L142.9 151.6L143.2 151.6L143.5 175.5L143.8 175.0L144.1 175.1L144.4 176.1L144.8 150.0L145.1 150.1L145.4 172.1L145.7 171.0L146.0 159.0L146.3 150.1L146.7 158.4L147.0 169.0L147.3 168.7L147.6 169.0L147.9 171.3L148.2 158.3L148.6 158.3L148.9 153.2L149.2 153.2L149.5 153.2L149.8 153.2L150.1 151.4L150.5 151.3L150.8 155.6L151.1 155.3L151.4 155.1L151.7 158.9L152.0 163.2L152.4 158.3L152.7 159.0L153.0 156.5L153.3 144.5L153.6 146.4L153.9 146.2L154.3 146.0L154.6 145.8L154.9 149.7L155.2 153.6L155.5 157.5L155.8 166.4L156.2 169.6L156.5 173.0L156.8 165.4L157.1 176.8L157.4 176.4L157.7 176.7L158.1 176.7L158.4 176.6L158.7 176.6L159.0 180.2L159.3 181.5L159.6 179.5L160.0 179.2L160.3 179.1L160.6 175.3L160.9 175.2L161.2 175.1L161.5 175.0L161.9 175.0L162.2 174.9L162.5 174.9L162.8 174.8L163.1 174.8L163.5 174.7L163.8 167.6L164.1 164.7L164.4 174.6L164.7 179.0L165.0 179.8L165.4 182.0L165.7 182.0L166.0 175.9L166.3 173.8L166.6 173.8L166.9 173.7L167.3 180.9L167.6 180.9L167.9 180.9L168.2 159.8L168.5 159.8L168.8 176.7L169.2 173.5L169.5 175.3L169.8 175.4L170.1 175.4L170.4 175.3L170.7 179.1L171.1 177.8L171.4 179.9L171.7 171.5L172.0 171.5L172.3 171.4L172.6 171.4L173.0 171.3L173.3 171.3L173.6 171.2L173.9 171.2L174.2 171.1L174.5 171.1L174.9 171.1L175.2 165.1L175.5 165.8L175.8 174.1L176.1 174.3L176.4 174.3L176.8 174.2L177.1 173.2L177.4 173.1L177.7 173.1L178.0 173.0L178.3 173.0L178.7 174.6L179.0 174.6L179.3 174.5L179.6 174.5L179.9 174.4L180.2 174.4L180.6 146.0L180.9 146.0L181.2 161.4L181.5 168.3L181.8 168.3L182.1 168.2L182.5 171.4L182.8 170.9L183.1 179.3L183.4 181.3L183.7 175.4L184.0 175.3L184.4 166.5L184.7 169.0L185.0 171.1L185.3 170.2L185.6 170.2L186.0 170.1L186.3 170.1L186.6 170.0L186.9 170.0L187.2 170.0L187.5 172.8L187.9 173.3L188.2 173.7L188.5 174.1L188.8 174.6L189.1 175.0L189.4 175.4L189.8 176.2L190.1 176.2L190.4 176.2L190.7 176.2L191.0 176.2L191.3 176.2L191.7 176.9L192.0 176.9L192.3 175.3L192.6 176.9L192.9 176.9L193.2 172.1L193.6 172.1L193.9 172.1L194.2 172.1L194.5 172.1L194.8 173.8L195.1 173.8L195.5 173.8L195.8 173.8L196.1 175.5L196.4 177.0L196.7 173.9L197.0 175.4L197.4 175.4L197.7 174.4L198.0 174.4L198.3 172.8L198.6 172.8L198.9 174.7L199.3 173.3L199.6 171.5L199.9 170.9L200.2 166.9L200.5 172.6L200.8 172.6L201.2 172.6L201.5 170.9L201.8 170.9L202.1 170.9L202.4 170.9L202.7 170.9L203.1 170.9L203.4 170.9L203.7 170.9L204.0 170.9L204.3 170.9L204.6 174.6L205.0 174.6L205.3 178.2L205.6 177.2L205.9 177.2L206.2 172.3L206.5 172.7L206.9 172.7L207.2 172.7L207.5 172.7L207.8 172.7L208.1 177.2L208.4 172.3L208.8 174.3L209.1 174.3L209.4 174.8L209.7 172.3L210.0 172.2L210.4 172.2L210.7 172.2L211.0 172.2L211.3 172.2L211.6 172.2L211.9 172.2L212.3 172.2L212.6 175.3L212.9 176.2L213.2 176.7L213.5 178.8L213.8 180.1L214.2 172.6L214.5 182.7L214.8 184.0L215.1 182.4L215.4 191.2L215.7 187.5L216.1 187.4L216.4 195.3L216.7 195.3L217.0 180.6L217.3 177.1L217.6 172.8L218.0 175.6L218.3 174.3L218.6 178.3L218.9 178.1L219.2 177.9L219.5 177.7L219.9 177.6L220.2 177.4L220.5 177.2L220.8 177.0L221.1 176.9L221.4 176.5L221.8 176.4L222.1 176.2L222.4 176.0L222.7 175.8L223.0 175.7L223.3 175.5L223.7 175.3L224.0 175.1L224.3 177.6L224.6 176.2L224.9 181.0L225.2 176.7L225.6 168.1L225.9 166.7L226.2 169.9L226.5 169.5L226.8 175.1L227.1 177.2L227.5 176.8L227.8 176.3L228.1 175.9L228.4 175.5L228.7 175.3L229.0 171.9L229.4 170.9L229.7 171.5L230.0 168.8L230.3 168.4L230.6 167.9L230.9 167.5L231.3 170.2L231.6 169.8L231.9 169.4L232.2 167.3L232.5 166.9L232.9 166.5L233.2 166.0L233.5 165.6L233.8 165.2L234.1 158.3L234.4 163.2L234.8 162.2L235.1 161.2L235.4 160.3L235.7 164.9L236.0 155.9L236.3 154.9L236.7 153.9L237.0 153.0L237.3 159.2L237.6 161.0L237.9 158.9L238.2 152.6L238.6 154.6L238.9 159.2L239.2 156.6L239.5 150.6L239.8 151.5L240.1 151.4L240.5 152.5L240.8 153.6L241.1 152.9L241.4 158.3L241.7 154.7L242.0 161.8L242.4 157.0L242.7 156.2L243.0 157.0L243.3 159.1L243.6 153.2L243.9 161.7L244.3 159.8L244.6 158.4L244.9 159.8L245.2 157.5L245.5 160.3L245.8 156.4L246.2 153.2L246.5 153.2L246.8 153.2L247.1 148.1L247.4 150.4L247.7 158.0L248.1 157.2L248.4 153.2L248.7 153.2L249.0 153.2L249.3 156.2L249.6 156.7L250.0 154.8L250.3 153.2L250.6 153.2L250.9 153.2L251.2 153.2L251.5 158.6L251.9 158.2L252.2 157.2L252.5 155.7L252.8 162.2L253.1 158.6L253.4 157.5L253.8 152.1L254.1 153.1L254.4 152.1L254.7 155.3L255.0 156.2L255.4 157.9L255.7 162.4L256.0 157.7L256.3 158.4L256.6 152.6L256.9 155.6L257.3 157.9L257.6 159.9L257.9 156.7L258.2 158.6L258.5 158.6L258.8 158.6L259.2 160.0L259.5 159.0L259.8 156.7L260.1 151.4L260.4 153.0L260.7 153.5L261.1 158.0L261.4 158.2L261.7 156.5L262.0 158.0L262.3 157.0L262.6 156.9L263.0 158.6L263.3 155.9L263.6 158.9L263.9 159.5L264.2 164.4L264.5 166.6L264.9 158.0L265.2 161.0L265.5 161.6L265.8 162.3L266.1 161.9L266.4 167.1L266.8 170.2L267.1 168.4L267.4 169.0L267.7 161.5L268.0 170.4L268.3 171.0L268.7 171.7L269.0 172.3L269.3 173.0L269.6 170.4L269.9 170.7L270.2 167.5L270.6 167.6L270.9 167.6L271.2 167.7L271.5 171.4L271.8 171.3L272.1 171.4L272.5 170.3L272.8 170.4L273.1 169.5L273.4 169.5L273.7 169.6L274.0 169.7L274.4 169.7L274.7 172.2L275.0 172.3L275.3 172.3L275.6 172.4L275.9 172.5L276.3 173.7L276.6 173.8L276.9 173.9L277.2 173.9L277.5 171.4L277.9 167.4L278.2 167.5L278.5 172.2L278.8 172.3L279.1 172.4L279.4 172.4L279.8 167.2L280.1 167.2L280.4 167.3L280.7 178.2L281.0 177.7L281.3 177.4L281.7 177.5L282.0 177.5L282.3 173.9L282.6 172.3L282.9 170.1L283.2 174.1L283.6 175.1L283.9 175.2L284.2 175.3L284.5 175.3L284.8 169.9L285.1 160.2L285.5 162.5L285.8 176.9L286.1 177.0L286.4 173.7L286.7 173.7L287.0 187.6L287.4 173.9L287.7 161.9L288.0 161.9L288.3 174.1L288.6 174.1L288.9 174.2L289.3 175.9L289.6 170.1L289.9 174.4L290.2 174.2L290.5 174.3L290.8 176.9L291.2 176.9L291.5 181.8L291.8 181.8L292.1 169.8L292.4 167.7L292.7 166.6L293.1 169.1L293.4 170.3L293.7 170.3L294.0 172.1L294.3 172.1L294.6 172.1L295.0 172.1L295.3 192.7L295.6 194.3L295.9 194.4L296.2 176.6L296.5 176.6L296.9 175.4L297.2 175.4L297.5 164.5L297.8 163.7L298.1 168.1L298.4 168.1L298.8 168.1L299.1 168.1L299.4 174.2L299.7 174.2L300.0 174.2L300.4 174.2L300.7 174.2L301.0 174.2L301.3 174.2L301.6 171.2L301.9 173.6L302.3 172.5L302.6 174.2L302.9 174.2L303.2 167.6L303.5 151.8L303.8 151.8L304.2 172.0L304.5 172.0L304.8 172.0L305.1 171.9L305.4 171.9L305.7 171.9L306.1 177.6L306.4 173.4L306.7 173.3L307.0 173.3L307.3 181.7L307.6 176.1L308.0 176.1L308.3 176.0L308.6 189.3L308.9 171.3L309.2 187.7L309.5 172.0L309.9 159.0L310.2 161.4L310.5 171.9L310.8 183.7L311.1 171.9L311.4 171.8L311.8 171.8L312.1 169.0L312.4 171.7L312.7 163.0L313.0 159.9L313.3 158.6L313.7 172.3L314.0 172.3L314.3 171.4L314.6 148.2L314.9 148.2L315.2 176.3L315.6 170.5L315.9 170.4L316.2 170.4L316.5 191.1L316.8 192.0L317.1 189.3L317.5 193.8L317.8 158.3L318.1 172.4L318.4 172.3L318.7 168.4L319.0 198.1L319.4 193.1L319.7 195.4L320.0 194.4L320.3 206.9L320.6 206.9L320.9 177.2L321.3 177.1L321.6 177.1L321.9 177.0L322.2 177.9L322.5 177.8L322.9 173.4L323.2 177.8L323.5 177.7L323.8 177.7L324.1 177.7L324.4 169.6L324.8 199.7L325.1 199.7L325.4 172.5L325.7 175.0L326.0 167.6L326.3 175.0L326.7 174.9L327.0 176.4L327.3 164.5L327.6 164.7L327.9 173.5L328.2 184.1L328.6 155.9L328.9 154.6L329.2 169.0L329.5 169.0L329.8 169.0L330.1 169.0L330.5 183.5L330.8 181.8L331.1 179.6L331.4 172.9L331.7 189.5L332.0 168.6L332.4 174.1L332.7 174.1L333.0 174.1L333.3 179.9L333.6 174.0L333.9 168.4L334.3 168.4L334.6 168.3L334.9 168.3L335.2 168.3L335.5 165.7L335.8 163.9L336.2 162.2L336.5 167.2L336.8 164.6L337.1 162.6L337.4 161.6L337.7 154.6L338.1 152.9L338.4 151.1L338.7 136.1L339.0 156.1L339.3 135.2L339.6 156.1L340.0 171.8L340.3 175.5L340.6 171.9L340.9 170.8L341.2 156.8L341.5 179.7L341.9 156.8L342.2 156.8L342.5 179.0L342.8 177.1L343.1 138.6L343.4 136.0L343.8 140.2L344.1 135.2L344.4 138.4L344.7 152.8L345.0 152.8L345.4 138.5L345.7 140.5L346.0 160.9L346.3 146.4L346.6 160.9L346.9 160.9L347.3 141.6L347.6 158.7L347.9 158.7L348.2 158.7L348.5 160.5L348.8 162.2L349.2 158.3L349.5 167.2L349.8 168.9L350.1 193.8L350.4 193.8L350.7 174.2L351.1 175.9L351.4 176.3L351.7 176.0L352.0 177.7L352.3 177.1L352.6 175.4L353.0 191.5L353.3 171.9L353.6 165.1L353.9 164.7L354.2 163.0L354.5 156.7L354.9 156.6L355.2 161.5L355.5 160.5L355.8 179.6L356.1 172.5L356.4 173.7L356.8 175.1L357.1 175.8L357.4 162.2L357.7 181.5L358.0 182.3L358.3 154.8L358.7 158.7L359.0 162.8L359.3 162.9L359.6 158.3L359.9 161.8L360.2 162.0L360.6 162.1L360.9 168.3L361.2 163.2L361.5 162.4L361.8 170.0L362.1 162.7L362.5 163.6L362.8 163.7L363.1 161.3L363.4 158.1L363.7 160.7L364.0 164.3L364.4 164.4L364.7 164.5L365.0 164.6L365.3 164.8L365.6 164.9L365.9 143.8L366.3 163.7L366.6 163.8L366.9 163.9" fill="none" stroke="#187818" stroke-width="2.0" stroke-linejoin="round"/>
<path clip-path="url(#ca)" d="M50.0 227.2L50.3 222.8L50.6 215.7L51.0 229.7L51.3 219.3L51.6 236.0L51.9 213.3L52.2 225.2L52.5 228.2L52.9 228.1L53.2 239.1L53.5 231.9L53.8 221.6L54.1 236.2L54.4 237.1L54.8 229.3L55.1 231.0L55.4 209.2L55.7 229.2L56.0 224.6L56.3 226.2L56.7 227.8L57.0 238.2L57.3 232.8L57.6 227.5L57.9 236.1L58.2 236.0L58.6 216.8L58.9 245.1L59.2 236.4L59.5 229.7L59.8 236.7L60.1 228.9L60.5 236.9L60.8 224.6L61.1 241.6L61.4 232.0L61.7 230.2L62.0 234.5L62.4 213.8L62.7 213.0L63.0 212.1L63.3 222.4L63.6 229.6L63.9 225.6L64.3 219.4L64.6 223.0L64.9 223.8L65.2 230.9L65.5 226.1L65.8 247.5L66.2 226.4L66.5 209.3L66.8 211.8L67.1 242.7L67.4 224.5L67.7 240.7L68.1 231.5L68.4 214.3L68.7 219.5L69.0 227.9L69.3 233.5L69.6 235.9L70.0 229.9L70.3 236.8L70.6 242.1L70.9 244.1L71.2 234.4L71.5 237.9L71.9 230.5L72.2 242.6L72.5 231.0L72.8 233.6L73.1 229.6L73.5 234.8L73.8 232.3L74.1 234.3L74.4 240.0L74.7 237.0L75.0 218.7L75.4 221.0L75.7 231.0L76.0 226.1L76.3 229.5L76.6 234.7L76.9 230.6L77.3 231.0L77.6 231.3L77.9 231.2L78.2 231.1L78.5 231.0L78.8 230.9L79.2 230.9L79.5 230.8L79.8 230.7L80.1 230.6L80.4 235.1L80.7 235.1L81.1 234.5L81.4 234.4L81.7 232.5L82.0 232.3L82.3 232.0L82.6 233.8L83.0 224.7L83.3 227.9L83.6 231.3L83.9 231.1L84.2 230.8L84.5 230.5L84.9 230.3L85.2 230.0L85.5 229.8L85.8 229.5L86.1 229.2L86.4 228.1L86.8 227.8L87.1 227.2L87.4 217.2L87.7 209.8L88.0 202.4L88.3 202.4L88.7 200.6L89.0 202.0L89.3 202.1L89.6 201.3L89.9 201.3L90.2 201.4L90.6 201.5L90.9 205.6L91.2 205.7L91.5 205.8L91.8 201.4L92.1 201.5L92.5 201.5L92.8 201.6L93.1 201.6L93.4 203.9L93.7 205.2L94.0 205.1L94.4 205.3L94.7 206.2L95.0 207.0L95.3 208.0L95.6 208.2L96.0 207.8L96.3 207.4L96.6 207.2L96.9 205.5L97.2 205.0L97.5 205.0L97.9 204.9L98.2 202.4L98.5 204.5L98.8 210.0L99.1 212.7L99.4 206.7L99.8 201.1L100.1 207.9L100.4 203.8L100.7 209.5L101.0 212.9L101.3 203.6L101.7 203.1L102.0 202.9L102.3 202.6L102.6 202.6L102.9 201.9L103.2 200.7L103.6 206.6L103.9 198.0L104.2 196.7L104.5 194.9L104.8 184.8L105.1 197.3L105.5 197.3L105.8 196.9L106.1 197.2L106.4 196.8L106.7 195.7L107.0 202.5L107.4 199.7L107.7 193.0L108.0 188.0L108.3 192.3L108.6 176.4L108.9 178.8L109.3 192.3L109.6 179.9L109.9 176.1L110.2 192.4L110.5 192.2L110.8 169.2L111.2 169.2L111.5 192.5L111.8 192.2L112.1 193.0L112.4 193.5L112.7 193.7L113.1 193.1L113.4 192.8L113.7 192.8L114.0 193.0L114.3 193.3L114.6 194.2L115.0 194.0L115.3 194.0L115.6 194.1L115.9 194.1L116.2 194.2L116.5 199.1L116.9 199.3L117.2 194.5L117.5 192.5L117.8 193.8L118.1 193.7L118.5 194.2L118.8 182.0L119.1 183.1L119.4 181.3L119.7 182.4L120.0 178.7L120.4 190.3L120.7 196.3L121.0 171.2L121.3 194.7L121.6 193.9L121.9 195.8L122.3 187.4L122.6 182.7L122.9 175.9L123.2 190.6L123.5 190.8L123.8 190.4L124.2 190.5L124.5 190.9L124.8 190.7L125.1 192.1L125.4 194.8L125.7 197.2L126.1 207.0L126.4 194.3L126.7 191.2L127.0 204.3L127.3 206.4L127.6 206.3L128.0 206.0L128.3 205.5L128.6 199.9L128.9 175.0L129.2 175.0L129.5 212.1L129.9 204.6L130.2 188.3L130.5 191.5L130.8 188.3L131.1 203.0L131.4 211.8L131.8 200.8L132.1 201.1L132.4 213.6L132.7 216.3L133.0 208.8L133.3 205.8L133.7 190.6L134.0 188.2L134.3 203.7L134.6 200.5L134.9 203.0L135.2 211.2L135.6 205.9L135.9 213.3L136.2 212.8L136.5 213.3L136.8 212.1L137.1 212.5L137.5 212.6L137.8 207.7L138.1 215.7L138.4 208.0L138.7 212.8L139.0 213.4L139.4 213.9L139.7 213.7L140.0 217.1L140.3 216.9L140.6 216.6L141.0 216.6L141.3 217.2L141.6 217.6L141.9 205.6L142.2 210.7L142.5 211.2L142.9 212.6L143.2 223.6L143.5 217.4L143.8 216.6L144.1 222.4L144.4 216.7L144.8 216.5L145.1 216.4L145.4 198.4L145.7 213.8L146.0 195.2L146.3 193.1L146.7 194.5L147.0 212.7L147.3 212.5L147.6 211.8L147.9 197.1L148.2 211.6L148.6 211.0L148.9 212.6L149.2 211.2L149.5 211.5L149.8 211.7L150.1 212.3L150.5 214.6L150.8 214.8L151.1 207.0L151.4 218.0L151.7 214.1L152.0 213.2L152.4 212.7L152.7 211.5L153.0 211.3L153.3 210.3L153.6 210.6L153.9 210.6L154.3 211.1L154.6 211.3L154.9 213.0L155.2 212.8L155.5 221.2L155.8 209.0L156.2 208.8L156.5 208.6L156.8 208.5L157.1 208.7L157.4 208.4L157.7 211.6L158.1 209.0L158.4 211.2L158.7 211.0L159.0 211.0L159.3 210.9L159.6 191.9L160.0 227.2L160.3 227.2L160.6 207.1L160.9 211.7L161.2 212.3L161.5 212.3L161.9 212.0L162.2 211.8L162.5 211.6L162.8 212.4L163.1 208.7L163.5 209.1L163.8 210.9L164.1 227.2L164.4 227.2L164.7 199.9L165.0 193.8L165.4 191.5L165.7 199.3L166.0 192.3L166.3 192.2L166.6 194.2L166.9 182.5L167.3 179.1L167.6 177.0L167.9 191.7L168.2 191.8L168.5 192.6L168.8 191.2L169.2 191.4L169.5 191.9L169.8 192.6L170.1 177.0L170.4 192.6L170.7 178.0L171.1 193.0L171.4 192.7L171.7 193.0L172.0 193.0L172.3 195.8L172.6 198.8L173.0 192.5L173.3 200.0L173.6 191.9L173.9 191.9L174.2 193.8L174.5 178.8L174.9 176.3L175.2 179.2L175.5 176.5L175.8 181.6L176.1 193.9L176.4 193.7L176.8 193.7L177.1 193.8L177.4 179.6L177.7 176.6L178.0 193.1L178.3 174.2L178.7 190.6L179.0 193.1L179.3 192.7L179.6 196.6L179.9 194.0L180.2 194.9L180.6 194.6L180.9 194.0L181.2 195.8L181.5 197.1L181.8 196.7L182.1 196.6L182.5 196.9L182.8 197.1L183.1 196.8L183.4 196.5L183.7 206.0L184.0 198.5L184.4 197.0L184.7 175.0L185.0 175.0L185.3 206.2L185.6 195.4L186.0 195.6L186.3 195.7L186.6 196.1L186.9 196.4L187.2 196.1L187.5 195.8L187.9 196.0L188.2 195.9L188.5 195.9L188.8 196.4L189.1 191.9L189.4 196.1L189.8 196.3L190.1 196.2L190.4 196.7L190.7 195.0L191.0 182.7L191.3 194.9L191.7 194.9L192.0 195.4L192.3 194.8L192.6 194.7L192.9 194.6L193.2 194.4L193.6 194.3L193.9 197.0L194.2 174.5L194.5 194.4L194.8 194.5L195.1 204.7L195.5 194.5L195.8 193.6L196.1 177.8L196.4 191.8L196.7 218.5L197.0 218.5L197.4 192.3L197.7 192.6L198.0 193.0L198.3 191.8L198.6 190.1L198.9 192.2L199.3 192.5L199.6 196.0L199.9 190.4L200.2 190.8L200.5 179.1L200.8 181.4L201.2 191.8L201.5 192.1L201.8 199.0L202.1 200.3L202.4 175.0L202.7 175.0L203.1 202.0L203.4 202.2L203.7 202.3L204.0 202.8L204.3 206.2L204.6 209.5L205.0 209.3L205.3 211.7L205.6 208.8L205.9 201.3L206.2 201.4L206.5 201.6L206.9 201.8L207.2 202.4L207.5 204.4L207.8 208.9L208.1 213.7L208.4 218.9L208.8 218.2L209.1 218.7L209.4 203.2L209.7 207.8L210.0 216.9L210.4 210.5L210.7 220.6L211.0 220.6L211.3 221.3L211.6 221.7L211.9 222.4L212.3 209.6L212.6 221.8L212.9 221.7L213.2 222.1L213.5 223.5L213.8 223.7L214.2 223.9L214.5 224.1L214.8 221.4L215.1 208.3L215.4 219.6L215.7 218.6L216.1 221.6L216.4 209.5L216.7 208.9L217.0 216.7L217.3 216.9L217.6 216.6L218.0 216.3L218.3 216.5L218.6 212.7L218.9 207.7L219.2 212.5L219.5 212.7L219.9 212.9L220.2 212.4L220.5 205.9L220.8 212.3L221.1 211.5L221.4 199.0L221.8 214.5L222.1 216.7L222.4 214.4L222.7 213.5L223.0 199.5L223.3 214.5L223.7 214.1L224.0 193.5L224.3 192.0L224.6 212.9L224.9 212.6L225.2 212.4L225.6 211.4L225.9 200.3L226.2 198.8L226.5 202.2L226.8 209.9L227.1 207.3L227.5 210.1L227.8 209.1L228.1 207.7L228.4 207.4L228.7 190.7L229.0 204.9L229.4 211.5L229.7 198.4L230.0 208.8L230.3 210.9L230.6 211.1L230.9 210.9L231.3 211.1L231.6 211.0L231.9 210.7L232.2 211.3L232.5 211.6L232.9 202.5L233.2 211.9L233.5 204.0L233.8 212.3L234.1 204.2L234.4 213.2L234.8 213.0L235.1 212.8L235.4 213.3L235.7 213.6L236.0 192.4L236.3 192.4L236.7 213.8L237.0 214.1L237.3 210.2L237.6 209.9L237.9 210.2L238.2 210.1L238.6 210.4L238.9 209.8L239.2 209.7L239.5 202.1L239.8 204.9L240.1 209.0L240.5 210.1L240.8 198.2L241.1 210.5L241.4 210.3L241.7 209.7L242.0 210.9L242.4 210.3L242.7 208.5L243.0 211.5L243.3 211.5L243.6 211.7L243.9 211.3L244.3 200.6L244.6 199.6L244.9 200.1L245.2 208.8L245.5 203.7L245.8 207.4L246.2 208.0L246.5 209.7L246.8 209.7L247.1 209.3L247.4 212.3L247.7 209.4L248.1 209.3L248.4 208.7L248.7 212.5L249.0 213.7L249.3 211.0L249.6 210.3L250.0 212.9L250.3 211.6L250.6 211.9L250.9 211.2L251.2 208.2L251.5 207.8L251.9 189.7L252.2 189.0L252.5 206.9L252.8 206.3L253.1 206.8L253.4 206.4L253.8 203.9L254.1 199.5L254.4 204.9L254.7 199.3L255.0 201.4L255.4 207.4L255.7 210.0L256.0 214.1L256.3 216.6L256.6 201.2L256.9 219.7L257.3 225.9L257.6 220.3L257.9 220.1L258.2 220.4L258.5 220.1L258.8 206.1L259.2 219.9L259.5 228.0L259.8 229.2L260.1 227.1L260.4 228.1L260.7 225.3L261.1 227.3L261.4 219.6L261.7 227.6L262.0 218.7L262.3 217.9L262.6 221.5L263.0 219.7L263.3 206.5L263.6 219.6L263.9 218.6L264.2 211.7L264.5 211.4L264.9 208.8L265.2 214.5L265.5 214.6L265.8 212.8L266.1 212.0L266.4 207.4L266.8 203.4L267.1 203.5L267.4 200.9L267.7 199.7L268.0 200.3L268.3 194.9L268.7 201.1L269.0 202.1L269.3 202.6L269.6 201.2L269.9 183.2L270.2 183.9L270.6 180.4L270.9 181.4L271.2 199.5L271.5 194.1L271.8 201.7L272.1 202.0L272.5 206.8L272.8 206.8L273.1 208.0L273.4 203.0L273.7 200.6L274.0 201.3L274.4 197.9L274.7 193.1L275.0 201.6L275.3 203.8L275.6 204.0L275.9 204.5L276.3 200.8L276.6 204.1L276.9 204.1L277.2 199.4L277.5 198.6L277.9 206.0L278.2 187.5L278.5 206.2L278.8 206.0L279.1 206.1L279.4 205.6L279.8 205.8L280.1 205.7L280.4 204.1L280.7 200.9L281.0 215.6L281.3 204.6L281.7 204.6L282.0 206.5L282.3 206.9L282.6 183.6L282.9 201.6L283.2 201.0L283.6 203.5L283.9 204.5L284.2 201.7L284.5 204.2L284.8 185.4L285.1 183.5L285.5 208.2L285.8 206.6L286.1 206.0L286.4 187.2L286.7 206.8L287.0 207.5L287.4 208.0L287.7 197.8L288.0 199.2L288.3 208.4L288.6 208.0L288.9 208.0L289.3 188.2L289.6 207.8L289.9 208.0L290.2 209.2L290.5 206.7L290.8 204.5L291.2 208.7L291.5 216.4L291.8 209.1L292.1 208.8L292.4 208.5L292.7 209.4L293.1 198.9L293.4 198.6L293.7 195.7L294.0 206.8L294.3 210.6L294.6 208.5L295.0 208.7L295.3 207.9L295.6 192.5L295.9 193.9L296.2 208.3L296.5 203.3L296.9 210.7L297.2 214.2L297.5 211.6L297.8 211.8L298.1 202.2L298.4 208.7L298.8 213.4L299.1 213.8L299.4 212.1L299.7 219.2L300.0 213.0L300.4 214.1L300.7 216.1L301.0 218.1L301.3 220.0L301.6 211.7L301.9 226.4L302.3 228.9L302.6 231.2L302.9 234.1L303.2 232.7L303.5 236.1L303.8 221.7L304.2 219.9L304.5 219.6L304.8 235.8L305.1 229.8L305.4 236.1L305.7 236.4L306.1 236.1L306.4 235.7L306.7 222.4L307.0 235.7L307.3 234.9L307.6 237.8L308.0 236.4L308.3 234.4L308.6 235.1L308.9 235.2L309.2 229.0L309.5 233.5L309.9 233.2L310.2 233.9L310.5 233.9L310.8 229.5L311.1 233.1L311.4 231.4L311.8 231.3L312.1 227.6L312.4 231.2L312.7 231.6L313.0 231.5L313.3 231.2L313.7 231.9L314.0 231.5L314.3 232.0L314.6 232.5L314.9 232.5L315.2 232.8L315.6 233.2L315.9 233.7L316.2 233.9L316.5 234.9L316.8 235.2L317.1 234.8L317.5 235.1L317.8 235.7L318.1 239.1L318.4 237.1L318.7 240.8L319.0 239.3L319.4 238.9L319.7 239.3L320.0 249.8L320.3 248.7L320.6 240.9L320.9 242.0L321.3 240.7L321.6 239.5L321.9 239.1L322.2 239.5L322.5 240.0L322.9 239.9L323.2 231.8L323.5 240.7L323.8 242.3L324.1 241.9L324.4 241.6L324.8 240.7L325.1 238.3L325.4 236.6L325.7 234.7L326.0 232.2L326.3 230.4L326.7 228.0L327.0 225.9L327.3 223.8L327.6 221.6L327.9 219.7L328.2 219.4L328.6 213.8L328.9 218.5L329.2 217.8L329.5 217.5L329.8 216.3L330.1 217.9L330.5 218.6L330.8 214.1L331.1 215.4L331.4 217.1L331.7 208.8L332.0 211.9L332.4 218.0L332.7 231.1L333.0 220.6L333.3 220.8L333.6 223.5L333.9 223.9L334.3 224.4L334.6 225.2L334.9 222.4L335.2 233.6L335.5 222.4L335.8 213.7L336.2 222.7L336.5 206.5L336.8 211.2L337.1 226.6L337.4 221.0L337.7 226.6L338.1 226.5L338.4 225.8L338.7 225.6L339.0 226.5L339.3 222.5L339.6 222.6L340.0 223.3L340.3 222.7L340.6 222.3L340.9 222.3L341.2 222.1L341.5 222.2L341.9 224.1L342.2 224.2L342.5 220.3L342.8 222.6L343.1 225.5L343.4 227.5L343.8 223.8L344.1 224.9L344.4 210.8L344.7 208.2L345.0 224.5L345.4 225.3L345.7 209.5L346.0 210.4L346.3 229.7L346.6 230.6L346.9 230.9L347.3 217.4L347.6 231.7L347.9 232.3L348.2 230.9L348.5 224.6L348.8 215.1L349.2 218.3L349.5 227.3L349.8 226.4L350.1 225.6L350.4 224.2L350.7 223.6L351.1 222.5L351.4 220.9L351.7 219.1L352.0 215.8L352.3 214.5L352.6 213.3L353.0 212.0L353.3 194.7L353.6 193.1L353.9 214.0L354.2 206.7L354.5 205.9L354.9 204.9L355.2 208.5L355.5 208.4L355.8 208.3L356.1 208.7L356.4 208.4L356.8 208.3L357.1 204.8L357.4 204.4L357.7 203.9L358.0 203.6L358.3 170.7L358.7 170.7L359.0 203.7L359.3 203.6L359.6 192.5L359.9 203.3L360.2 203.0L360.6 203.1L360.9 202.6L361.2 194.4L361.5 203.8L361.8 203.6L362.1 203.3L362.5 196.7L362.8 175.0L363.1 175.0L363.4 205.6L363.7 204.7L364.0 204.9L364.4 183.0L364.7 205.1L365.0 204.6L365.3 204.0L365.6 199.0L365.9 199.2L366.3 204.9L366.6 198.2L366.9 198.5" fill="none" stroke="#0c0c86" stroke-width="2.0" stroke-linejoin="round"/>

<path d="M50,247.50h5M366.9,247.50h-5M50,233.00h3M366.9,233.00h-3M50,218.50h5M366.9,218.50h-5M50,204.00h3M366.9,204.00h-3M50,189.50h5M366.9,189.50h-5M50,175.00h3M366.9,175.00h-3M50,160.50h5M366.9,160.50h-5M50,146.00h3M366.9,146.00h-3M50,131.50h5M366.9,131.50h-5M50,117.00h3M366.9,117.00h-3M50,102.50h5M366.9,102.50h-5M50,88.00h3M366.9,88.00h-3M50,73.50h5M366.9,73.50h-5M50,59.00h3M366.9,59.00h-3M50,44.50h5M366.9,44.50h-5M50,30.00h3M366.9,30.00h-3M50,15.50h5M366.9,15.50h-5M50.00,247.5v-5M50.00,15.5v5M81.69,247.5v-3M81.69,15.5v3M113.38,247.5v-5M113.38,15.5v5M145.07,247.5v-3M145.07,15.5v3M176.76,247.5v-5M176.76,15.5v5M208.45,247.5v-3M208.45,15.5v3M240.14,247.5v-5M240.14,15.5v5M271.83,247.5v-3M271.83,15.5v3M303.52,247.5v-5M303.52,15.5v5M335.21,247.5v-3M335.21,15.5v3M366.90,247.5v-5M366.90,15.5v5" stroke="#000" stroke-width="1.5" fill="none"/>
<rect x="50" y="15.5" width="316.9" height="232.0" fill="none" stroke="#000" stroke-width="1.6"/>
<text x="43.20" y="252.50" class="tl" text-anchor="end">–8</text>
<text x="43.20" y="223.50" class="tl" text-anchor="end">–6</text>
<text x="43.20" y="194.50" class="tl" text-anchor="end">–4</text>
<text x="43.20" y="165.50" class="tl" text-anchor="end">–2</text>
<text x="43.20" y="136.50" class="tl" text-anchor="end">0</text>
<text x="43.20" y="107.50" class="tl" text-anchor="end">2</text>
<text x="43.20" y="78.50" class="tl" text-anchor="end">4</text>
<text x="43.20" y="49.50" class="tl" text-anchor="end">6</text>
<text x="43.20" y="20.50" class="tl" text-anchor="end">8</text>
<text x="50.00" y="265.20" class="tl" text-anchor="middle">0</text>
<text x="113.38" y="265.20" class="tl" text-anchor="middle">3</text>
<text x="176.76" y="265.20" class="tl" text-anchor="middle">6</text>
<text x="240.14" y="265.20" class="tl" text-anchor="middle">9</text>
<path d="M299.24,265.20L300.64,265.20L300.64,255.18L299.59,255.18Q298.54,256.80 296.58,257.50L296.58,258.62Q298.26,258.20 299.24,257.29Z" fill="#000"/><text x="303.52" y="265.20" class="tl">2</text>
<path d="M362.62,265.20L364.02,265.20L364.02,255.18L362.97,255.18Q361.92,256.80 359.96,257.50L359.96,258.62Q361.64,258.20 362.62,257.29Z" fill="#000"/><text x="366.90" y="265.20" class="tl">5</text>
<text x="208.45" y="286.8" class="at2" text-anchor="middle">Time (ps)</text>
<text transform="translate(14.200000000000003,131.2) rotate(-90)" class="at" text-anchor="middle">Position (Å)</text>
<text x="0.2" y="15.7" class="pl">a</text>
<line x1="59.5" y1="24.5" x2="86.0" y2="24.5" stroke="#1010e8" stroke-width="1.6"/>
<g transform="translate(91.5,28.7) scale(0.93,1)"><text class="lg">Traj_</text><path d="M25.28,0.00L26.28,0.00L26.28,-7.16L25.53,-7.16Q24.78,-6.00 23.38,-5.50L23.38,-4.70Q24.58,-5.00 25.28,-5.65Z" fill="#000"/></g>
<line x1="125" y1="24.5" x2="151.5" y2="24.5" stroke="#f01818" stroke-width="1.6"/>
<text transform="translate(157.0,28.7) scale(0.93,1)" class="lg">Traj_2</text>
<line x1="59.5" y1="39.0" x2="86.0" y2="39.0" stroke="#187818" stroke-width="1.6"/>
<text transform="translate(91.5,43.2) scale(0.93,1)" class="lg">Traj_3</text>
<line x1="125" y1="39.0" x2="151.5" y2="39.0" stroke="#0c0c86" stroke-width="1.6"/>
<text transform="translate(157.0,43.2) scale(0.93,1)" class="lg">Traj_4</text>
<clipPath id="cb"><rect x="448.75" y="16.25" width="314.1" height="230.5"/></clipPath>
<rect x="448" y="121.7" width="315.6" height="17.9" fill="#c6c6c6"/>
<line x1="448" y1="131.6" x2="763.6" y2="131.6" stroke="#000" stroke-width="2.4"/>
<path clip-path="url(#cb)" d="M448.0 159.1L448.3 159.1L448.6 158.5L448.9 162.3L449.3 162.3L449.6 164.8L449.9 164.8L450.2 154.8L450.5 154.3L450.8 162.3L451.2 153.6L451.5 153.6L451.8 150.4L452.1 149.2L452.4 153.6L452.7 159.9L453.0 157.2L453.4 157.2L453.7 157.2L454.0 157.2L454.3 157.2L454.6 159.6L454.9 163.2L455.3 163.2L455.6 155.9L455.9 160.4L456.2 155.1L456.5 163.2L456.8 163.2L457.2 163.2L457.5 163.2L457.8 161.8L458.1 161.8L458.4 161.8L458.7 161.8L459.0 161.8L459.4 161.8L459.7 159.0L460.0 159.0L460.3 159.0L460.6 159.0L460.9 159.0L461.3 159.0L461.6 164.8L461.9 159.0L462.2 159.0L462.5 159.0L462.8 159.0L463.1 160.2L463.5 158.2L463.8 158.2L464.1 158.2L464.4 158.2L464.7 158.2L465.0 161.9L465.4 159.3L465.7 159.3L466.0 159.3L466.3 159.3L466.6 159.3L466.9 159.3L467.3 150.3L467.6 159.3L467.9 159.3L468.2 159.3L468.5 159.3L468.8 155.7L469.1 155.7L469.5 155.7L469.8 156.0L470.1 161.3L470.4 161.3L470.7 161.3L471.0 161.3L471.4 151.0L471.7 155.2L472.0 160.7L472.3 160.7L472.6 158.7L472.9 158.7L473.2 158.7L473.6 158.7L473.9 163.1L474.2 158.3L474.5 154.7L474.8 158.3L475.1 158.4L475.5 165.2L475.8 170.5L476.1 161.8L476.4 164.7L476.7 163.0L477.0 163.0L477.4 163.0L477.7 163.0L478.0 163.0L478.3 163.0L478.6 156.9L478.9 156.9L479.2 156.9L479.6 160.1L479.9 160.1L480.2 160.1L480.5 160.1L480.8 157.7L481.1 156.7L481.5 154.7L481.8 154.7L482.1 160.1L482.4 160.1L482.7 160.1L483.0 160.1L483.3 161.0L483.7 161.0L484.0 163.4L484.3 163.4L484.6 161.0L484.9 161.6L485.2 161.6L485.6 161.6L485.9 151.7L486.2 161.6L486.5 155.7L486.8 155.7L487.1 159.4L487.4 156.2L487.8 158.9L488.1 155.7L488.4 155.7L488.7 155.7L489.0 159.3L489.3 159.3L489.7 161.6L490.0 160.4L490.3 163.7L490.6 163.7L490.9 150.3L491.2 163.7L491.6 163.7L491.9 163.7L492.2 162.6L492.5 166.2L492.8 163.7L493.1 163.7L493.4 163.7L493.8 163.7L494.1 163.7L494.4 163.7L494.7 163.7L495.0 153.9L495.3 165.4L495.7 169.2L496.0 158.8L496.3 158.8L496.6 158.8L496.9 158.8L497.2 150.4L497.5 158.8L497.9 158.8L498.2 158.8L498.5 158.8L498.8 159.2L499.1 161.5L499.4 156.3L499.8 159.4L500.1 159.0L500.4 155.2L500.7 155.2L501.0 157.1L501.3 157.1L501.7 157.6L502.0 160.3L502.3 158.6L502.6 160.6L502.9 158.0L503.2 159.0L503.5 160.6L503.9 162.6L504.2 165.8L504.5 160.6L504.8 160.6L505.1 160.4L505.4 160.4L505.8 166.7L506.1 159.6L506.4 159.6L506.7 160.3L507.0 159.1L507.3 159.1L507.6 159.1L508.0 159.1L508.3 159.1L508.6 159.1L508.9 155.6L509.2 151.9L509.5 155.0L509.9 153.2L510.2 159.9L510.5 156.4L510.8 161.5L511.1 161.5L511.4 161.5L511.8 161.5L512.1 161.5L512.4 161.5L512.7 157.9L513.0 157.9L513.3 158.0L513.6 160.7L514.0 157.2L514.3 157.9L514.6 157.9L514.9 157.9L515.2 157.9L515.5 157.9L515.9 162.1L516.2 158.1L516.5 162.1L516.8 162.1L517.1 162.1L517.4 159.2L517.7 159.2L518.1 164.3L518.4 164.3L518.7 161.8L519.0 161.8L519.3 160.6L519.6 160.6L520.0 160.6L520.3 160.6L520.6 160.6L520.9 160.6L521.2 160.6L521.5 160.6L521.9 160.6L522.2 160.6L522.5 160.6L522.8 160.6L523.1 160.6L523.4 160.6L523.7 172.1L524.1 172.1L524.4 161.1L524.7 161.1L525.0 161.1L525.3 161.1L525.6 161.1L526.0 161.1L526.3 161.1L526.6 165.0L526.9 161.9L527.2 154.2L527.5 160.2L527.8 160.2L528.2 160.2L528.5 160.2L528.8 160.2L529.1 160.2L529.4 160.2L529.7 160.2L530.1 160.2L530.4 158.7L530.7 157.1L531.0 159.8L531.3 159.8L531.6 159.8L531.9 159.8L532.3 159.8L532.6 159.8L532.9 162.2L533.2 162.2L533.5 162.2L533.8 162.2L534.2 162.2L534.5 162.2L534.8 159.9L535.1 159.9L535.4 163.2L535.7 150.8L536.1 158.5L536.4 159.5L536.7 159.5L537.0 163.7L537.3 164.1L537.6 164.1L537.9 156.3L538.3 156.3L538.6 156.3L538.9 156.4L539.2 156.4L539.5 156.4L539.8 157.2L540.2 157.2L540.5 161.7L540.8 161.7L541.1 160.2L541.4 160.2L541.7 160.2L542.0 159.2L542.4 159.2L542.7 159.2L543.0 155.9L543.3 155.9L543.6 155.9L543.9 157.9L544.3 156.1L544.6 157.1L544.9 160.2L545.2 161.2L545.5 163.8L545.8 163.7L546.2 158.1L546.5 157.0L546.8 172.6L547.1 174.8L547.4 168.9L547.7 168.0L548.0 176.2L548.4 180.2L548.7 177.2L549.0 184.2L549.3 181.0L549.6 183.1L549.9 182.8L550.3 167.0L550.6 171.6L550.9 170.4L551.2 188.4L551.5 189.5L551.8 190.6L552.1 180.2L552.5 192.7L552.8 193.7L553.1 200.2L553.4 199.3L553.7 185.8L554.0 198.0L554.4 192.9L554.7 191.3L555.0 191.1L555.3 192.5L555.6 192.8L555.9 192.2L556.3 194.9L556.6 197.5L556.9 197.5L557.2 197.5L557.5 203.7L557.8 203.7L558.1 187.3L558.5 187.6L558.8 201.4L559.1 201.4L559.4 196.8L559.7 201.4L560.0 185.0L560.4 201.4L560.7 201.4L561.0 201.4L561.3 201.4L561.6 201.4L561.9 201.4L562.2 201.4L562.6 201.4L562.9 201.4L563.2 201.4L563.5 201.4L563.8 188.3L564.1 194.0L564.5 192.6L564.8 201.4L565.1 209.2L565.4 206.8L565.7 210.6L566.0 205.7L566.4 204.4L566.7 204.4L567.0 201.7L567.3 201.7L567.6 200.5L567.9 200.5L568.2 200.5L568.6 207.0L568.9 202.1L569.2 202.1L569.5 199.5L569.8 199.5L570.1 199.5L570.5 196.4L570.8 200.6L571.1 201.6L571.4 201.4L571.7 201.4L572.0 201.4L572.3 186.2L572.7 185.6L573.0 182.2L573.3 197.9L573.6 203.1L573.9 201.6L574.2 198.8L574.6 201.0L574.9 188.8L575.2 190.0L575.5 189.5L575.8 201.0L576.1 202.9L576.4 202.9L576.8 202.9L577.1 202.9L577.4 202.9L577.7 201.6L578.0 201.6L578.3 203.2L578.7 203.2L579.0 203.2L579.3 187.1L579.6 203.2L579.9 199.5L580.2 203.2L580.6 187.3L580.9 188.8L581.2 187.6L581.5 200.6L581.8 206.7L582.1 200.6L582.4 199.9L582.8 199.9L583.1 199.9L583.4 199.9L583.7 199.9L584.0 187.9L584.3 185.5L584.7 202.8L585.0 203.3L585.3 205.5L585.6 203.9L585.9 198.5L586.2 194.5L586.5 188.3L586.9 198.5L587.2 198.5L587.5 198.5L587.8 198.5L588.1 183.9L588.4 189.9L588.8 186.4L589.1 183.1L589.4 186.2L589.7 188.1L590.0 187.2L590.3 183.2L590.7 183.3L591.0 200.5L591.3 197.9L591.6 201.6L591.9 181.1L592.2 183.4L592.5 185.1L592.9 183.7L593.2 184.2L593.5 203.9L593.8 197.1L594.1 202.6L594.4 197.6L594.8 197.6L595.1 197.6L595.4 197.7L595.7 205.4L596.0 205.4L596.3 202.5L596.6 205.4L597.0 201.1L597.3 178.7L597.6 180.7L597.9 178.7L598.2 200.5L598.5 200.5L598.9 200.5L599.2 200.5L599.5 200.5L599.8 200.5L600.1 200.5L600.4 198.7L600.8 198.7L601.1 203.8L601.4 201.0L601.7 201.0L602.0 180.1L602.3 182.3L602.6 189.1L603.0 195.1L603.3 199.4L603.6 199.4L603.9 171.5L604.2 171.9L604.5 199.4L604.9 204.8L605.2 199.4L605.5 208.9L605.8 199.4L606.1 199.4L606.4 200.5L606.7 205.2L607.1 205.2L607.4 205.2L607.7 205.2L608.0 205.2L608.3 205.2L608.6 185.2L609.0 185.2L609.3 203.8L609.6 202.4L609.9 202.4L610.2 202.5L610.5 202.5L610.8 202.5L611.2 202.5L611.5 202.5L611.8 202.5L612.1 203.9L612.4 203.9L612.7 203.9L613.1 204.7L613.4 198.8L613.7 206.0L614.0 204.4L614.3 204.4L614.6 204.4L615.0 203.7L615.3 196.3L615.6 192.5L615.9 203.7L616.2 203.7L616.5 203.8L616.8 203.8L617.2 203.8L617.5 207.8L617.8 207.8L618.1 207.8L618.4 207.8L618.7 207.8L619.1 207.8L619.4 207.8L619.7 207.8L620.0 207.8L620.3 207.8L620.6 207.8L620.9 188.1L621.3 191.0L621.6 188.5L621.9 186.6L622.2 188.2L622.5 187.3L622.8 187.8L623.2 188.0L623.5 188.8L623.8 186.5L624.1 188.5L624.4 187.1L624.7 200.5L625.1 200.5L625.4 200.5L625.7 206.3L626.0 206.3L626.3 206.3L626.6 206.3L626.9 206.3L627.3 206.3L627.6 196.2L627.9 192.6L628.2 206.3L628.5 203.2L628.8 200.1L629.2 189.5L629.5 189.5L629.8 207.5L630.1 201.8L630.4 201.8L630.7 201.8L631.0 201.8L631.4 197.3L631.7 201.8L632.0 200.6L632.3 189.0L632.6 193.1L632.9 200.6L633.3 200.6L633.6 200.6L633.9 200.6L634.2 200.7L634.5 200.7L634.8 200.7L635.2 200.7L635.5 200.7L635.8 200.7L636.1 200.7L636.4 204.0L636.7 203.6L637.0 203.6L637.4 203.6L637.7 204.2L638.0 199.6L638.3 203.6L638.6 204.5L638.9 201.0L639.3 201.6L639.6 201.6L639.9 202.7L640.2 206.8L640.5 204.4L640.8 204.4L641.1 204.4L641.5 204.4L641.8 204.4L642.1 201.5L642.4 203.6L642.7 203.6L643.0 203.6L643.4 203.6L643.7 202.8L644.0 200.3L644.3 200.3L644.6 200.3L644.9 200.3L645.2 200.3L645.6 200.3L645.9 200.3L646.2 202.4L646.5 205.2L646.8 202.4L647.1 207.6L647.5 202.0L647.8 202.0L648.1 202.0L648.4 202.0L648.7 202.0L649.0 202.0L649.4 204.1L649.7 201.4L650.0 202.5L650.3 204.0L650.6 200.5L650.9 204.1L651.2 200.0L651.6 204.3L651.9 198.1L652.2 198.1L652.5 202.3L652.8 204.1L653.1 202.3L653.5 202.3L653.8 202.3L654.1 200.8L654.4 200.8L654.7 200.8L655.0 200.8L655.3 200.8L655.7 200.8L656.0 200.8L656.3 206.0L656.6 205.2L656.9 205.2L657.2 205.2L657.6 205.2L657.9 205.2L658.2 205.2L658.5 201.2L658.8 205.2L659.1 205.2L659.5 205.2L659.8 205.2L660.1 205.2L660.4 203.0L660.7 203.0L661.0 195.9L661.3 208.0L661.7 203.1L662.0 203.1L662.3 202.0L662.6 202.0L662.9 202.0L663.2 202.0L663.6 202.0L663.9 201.8L664.2 201.8L664.5 200.9L664.8 200.9L665.1 200.9L665.4 200.9L665.8 200.9L666.1 200.9L666.4 200.9L666.7 200.6L667.0 198.3L667.3 198.7L667.7 200.4L668.0 202.9L668.3 202.9L668.6 202.9L668.9 202.9L669.2 202.9L669.6 207.7L669.9 204.4L670.2 204.9L670.5 204.1L670.8 182.2L671.1 182.2L671.4 204.0L671.8 204.0L672.1 204.0L672.4 204.0L672.7 204.0L673.0 204.0L673.3 204.0L673.7 204.0L674.0 204.0L674.3 204.0L674.6 204.3L674.9 198.4L675.2 204.3L675.5 204.3L675.9 204.3L676.2 204.3L676.5 204.3L676.8 204.3L677.1 193.1L677.4 192.8L677.8 188.3L678.1 204.3L678.4 204.3L678.7 204.3L679.0 204.3L679.3 205.1L679.7 205.1L680.0 204.0L680.3 204.0L680.6 206.3L680.9 205.0L681.2 202.3L681.5 212.8L681.9 202.3L682.2 203.1L682.5 203.1L682.8 203.1L683.1 203.1L683.4 203.1L683.8 203.2L684.1 203.2L684.4 203.2L684.7 203.2L685.0 202.7L685.3 202.7L685.6 202.7L686.0 202.7L686.3 202.7L686.6 201.1L686.9 199.6L687.2 201.9L687.5 201.9L687.9 201.9L688.2 199.9L688.5 203.1L688.8 203.1L689.1 203.1L689.4 207.0L689.7 207.0L690.1 207.0L690.4 207.0L690.7 207.0L691.0 207.0L691.3 207.0L691.6 207.0L692.0 200.4L692.3 200.4L692.6 204.7L692.9 204.7L693.2 201.1L693.5 202.9L693.9 202.9L694.2 202.9L694.5 202.9L694.8 202.9L695.1 202.9L695.4 211.3L695.7 202.9L696.1 206.1L696.4 203.0L696.7 205.3L697.0 208.2L697.3 203.0L697.6 203.0L698.0 203.0L698.3 207.7L698.6 207.7L698.9 207.7L699.2 207.7L699.5 207.7L699.8 207.7L700.2 207.4L700.5 201.6L700.8 201.6L701.1 202.7L701.4 202.7L701.7 202.7L702.1 202.7L702.4 202.7L702.7 204.7L703.0 203.4L703.3 203.4L703.6 203.4L704.0 203.4L704.3 203.4L704.6 203.4L704.9 203.4L705.2 203.4L705.5 203.4L705.8 210.8L706.2 209.7L706.5 208.9L706.8 209.7L707.1 207.6L707.4 211.3L707.7 209.2L708.1 210.8L708.4 204.3L708.7 201.6L709.0 201.6L709.3 201.6L709.6 201.6L709.9 202.1L710.3 202.1L710.6 202.1L710.9 202.9L711.2 203.2L711.5 204.6L711.8 204.6L712.2 204.6L712.5 204.6L712.8 204.6L713.1 201.0L713.4 202.9L713.7 202.9L714.1 202.9L714.4 202.9L714.7 202.9L715.0 201.7L715.3 201.7L715.6 201.7L715.9 201.7L716.3 201.7L716.6 201.7L716.9 201.7L717.2 205.1L717.5 205.1L717.8 205.1L718.2 205.1L718.5 205.1L718.8 205.1L719.1 205.1L719.4 205.1L719.7 205.1L720.0 205.1L720.4 205.1L720.7 205.1L721.0 205.1L721.3 205.1L721.6 204.4L721.9 204.4L722.3 204.1L722.6 204.1L722.9 204.1L723.2 203.3L723.5 203.3L723.8 203.3L724.1 203.3L724.5 203.3L724.8 203.3L725.1 201.1L725.4 201.1L725.7 204.3L726.0 204.4L726.4 204.4L726.7 202.9L727.0 202.9L727.3 202.9L727.6 202.9L727.9 203.0L728.3 204.0L728.6 204.0L728.9 204.0L729.2 203.6L729.5 203.6L729.8 203.6L730.1 203.6L730.5 203.6L730.8 203.4L731.1 203.6L731.4 203.6L731.7 203.6L732.0 203.6L732.4 203.6L732.7 203.6L733.0 203.7L733.3 202.2L733.6 202.2L733.9 202.2L734.2 202.2L734.6 202.2L734.9 202.2L735.2 201.2L735.5 201.2L735.8 201.9L736.1 207.0L736.5 201.9L736.8 201.9L737.1 201.9L737.4 206.3L737.7 206.3L738.0 206.3L738.4 206.3L738.7 206.3L739.0 206.3L739.3 206.3L739.6 206.3L739.9 206.3L740.2 206.3L740.6 203.1L740.9 203.1L741.2 203.1L741.5 204.5L741.8 204.5L742.1 204.5L742.5 204.5L742.8 204.5L743.1 204.5L743.4 204.5L743.7 205.1L744.0 205.1L744.3 205.1L744.7 213.4L745.0 210.7L745.3 206.5L745.6 204.8L745.9 204.8L746.2 203.8L746.6 203.8L746.9 207.4L747.2 207.4L747.5 202.5L747.8 206.5L748.1 206.5L748.5 206.5L748.8 206.5L749.1 204.7L749.4 204.7L749.7 214.9L750.0 207.3L750.3 207.2L750.7 192.2L751.0 193.1L751.3 204.7L751.6 204.7L751.9 204.7L752.2 204.7L752.6 206.3L752.9 203.1L753.2 203.1L753.5 203.1L753.8 203.1L754.1 203.1L754.4 203.1L754.8 203.1L755.1 210.9L755.4 208.7L755.7 214.4L756.0 212.3L756.3 212.8L756.7 203.1L757.0 203.1L757.3 203.1L757.6 203.2L757.9 203.2L758.2 203.2L758.6 203.2L758.9 203.2L759.2 217.0L759.5 203.2L759.8 203.2L760.1 205.4L760.4 205.4L760.8 205.4L761.1 205.4L761.4 205.4L761.7 205.4L762.0 205.4L762.3 203.9L762.7 203.9L763.0 206.7L763.3 206.7L763.6 206.7" fill="none" stroke="#8c2ce8" stroke-width="2.0" stroke-linejoin="round"/>
<path clip-path="url(#cb)" d="M448.0 148.9L448.3 148.9L448.6 148.9L448.9 148.9L449.3 148.9L449.6 148.9L449.9 148.9L450.2 146.8L450.5 149.6L450.8 149.6L451.2 161.6L451.5 149.6L451.8 149.6L452.1 150.1L452.4 150.5L452.7 150.5L453.0 150.5L453.4 150.5L453.7 149.0L454.0 149.0L454.3 149.0L454.6 149.0L454.9 149.0L455.3 149.0L455.6 149.0L455.9 149.0L456.2 149.1L456.5 149.8L456.8 149.8L457.2 149.8L457.5 149.8L457.8 147.6L458.1 149.2L458.4 149.2L458.7 149.2L459.0 149.2L459.4 149.2L459.7 169.9L460.0 169.9L460.3 147.3L460.6 147.3L460.9 147.3L461.3 147.3L461.6 149.6L461.9 149.6L462.2 149.6L462.5 149.6L462.8 149.1L463.1 153.0L463.5 153.0L463.8 153.0L464.1 153.1L464.4 153.1L464.7 153.1L465.0 153.1L465.4 153.1L465.7 153.1L466.0 148.2L466.3 148.2L466.6 148.2L466.9 148.2L467.3 147.7L467.6 147.7L467.9 147.7L468.2 148.1L468.5 148.1L468.8 150.1L469.1 150.1L469.5 150.1L469.8 146.3L470.1 146.3L470.4 146.3L470.7 149.6L471.0 148.0L471.4 148.0L471.7 153.3L472.0 150.9L472.3 149.2L472.6 149.2L472.9 149.2L473.2 144.5L473.6 144.5L473.9 144.5L474.2 148.4L474.5 149.6L474.8 168.3L475.1 176.4L475.5 176.4L475.8 151.7L476.1 151.7L476.4 151.7L476.7 151.7L477.0 148.4L477.4 148.4L477.7 148.4L478.0 151.1L478.3 151.1L478.6 151.1L478.9 149.0L479.2 149.0L479.6 149.0L479.9 170.3L480.2 168.9L480.5 169.0L480.8 167.3L481.1 149.0L481.5 149.1L481.8 148.3L482.1 148.3L482.4 147.7L482.7 147.3L483.0 147.3L483.3 147.3L483.7 147.3L484.0 160.2L484.3 150.0L484.6 150.0L484.9 142.5L485.2 142.5L485.6 150.5L485.9 150.5L486.2 150.5L486.5 146.9L486.8 146.9L487.1 149.6L487.4 149.6L487.8 149.6L488.1 149.6L488.4 148.2L488.7 148.2L489.0 148.2L489.3 147.2L489.7 147.2L490.0 168.4L490.3 149.4L490.6 149.4L490.9 150.1L491.2 150.1L491.6 150.1L491.9 150.1L492.2 150.1L492.5 150.1L492.8 148.2L493.1 148.2L493.4 149.9L493.8 147.9L494.1 147.9L494.4 148.1L494.7 148.1L495.0 148.1L495.3 176.4L495.7 148.1L496.0 148.1L496.3 148.1L496.6 148.1L496.9 148.9L497.2 149.5L497.5 150.2L497.9 150.2L498.2 150.2L498.5 149.4L498.8 149.4L499.1 149.4L499.4 149.4L499.8 149.4L500.1 150.9L500.4 150.9L500.7 150.0L501.0 149.4L501.3 149.4L501.7 149.4L502.0 147.5L502.3 147.5L502.6 147.5L502.9 147.5L503.2 176.4L503.5 176.4L503.9 150.4L504.2 150.5L504.5 150.5L504.8 150.5L505.1 148.2L505.4 148.2L505.8 159.5L506.1 148.2L506.4 149.8L506.7 149.8L507.0 149.8L507.3 149.8L507.6 149.9L508.0 148.8L508.3 148.8L508.6 148.8L508.9 148.8L509.2 148.8L509.5 148.8L509.9 148.8L510.2 148.8L510.5 148.8L510.8 150.1L511.1 150.1L511.4 150.1L511.8 150.1L512.1 150.1L512.4 150.1L512.7 150.1L513.0 150.1L513.3 150.1L513.6 150.1L514.0 150.1L514.3 150.1L514.6 150.1L514.9 150.1L515.2 150.1L515.5 158.8L515.9 159.8L516.2 160.8L516.5 150.2L516.8 150.2L517.1 150.2L517.4 150.3L517.7 152.2L518.1 152.2L518.4 152.6L518.7 150.2L519.0 150.2L519.3 150.2L519.6 150.2L520.0 164.8L520.3 164.8L520.6 148.0L520.9 148.1L521.2 150.8L521.5 150.8L521.9 150.8L522.2 150.8L522.5 150.8L522.8 150.8L523.1 150.8L523.4 149.4L523.7 149.4L524.1 149.4L524.4 149.4L524.7 149.4L525.0 149.8L525.3 149.8L525.6 149.8L526.0 149.8L526.3 149.8L526.6 149.8L526.9 149.8L527.2 149.5L527.5 145.6L527.8 145.6L528.2 145.6L528.5 145.6L528.8 145.6L529.1 172.8L529.4 169.1L529.7 172.7L530.1 168.0L530.4 169.1L530.7 148.1L531.0 148.1L531.3 148.1L531.6 149.1L531.9 149.1L532.3 149.1L532.6 149.1L532.9 149.1L533.2 149.1L533.5 149.1L533.8 149.1L534.2 171.8L534.5 149.1L534.8 149.1L535.1 149.7L535.4 152.8L535.7 152.8L536.1 152.8L536.4 152.8L536.7 152.8L537.0 150.5L537.3 150.5L537.6 150.5L537.9 150.0L538.3 150.0L538.6 166.1L538.9 165.8L539.2 150.0L539.5 150.0L539.8 150.0L540.2 150.0L540.5 150.0L540.8 150.0L541.1 150.0L541.4 150.0L541.7 150.0L542.0 150.0L542.4 150.0L542.7 149.6L543.0 150.8L543.3 150.8L543.6 150.8L543.9 150.8L544.3 150.9L544.6 147.0L544.9 147.0L545.2 147.1L545.5 147.1L545.8 147.1L546.2 147.1L546.5 147.1L546.8 152.2L547.1 149.0L547.4 149.0L547.7 149.0L548.0 149.0L548.4 149.0L548.7 149.0L549.0 149.0L549.3 149.0L549.6 149.0L549.9 149.0L550.3 149.0L550.6 149.0L550.9 158.9L551.2 163.1L551.5 149.6L551.8 149.6L552.1 149.6L552.5 149.6L552.8 169.6L553.1 175.6L553.4 149.6L553.7 151.6L554.0 151.6L554.4 151.6L554.7 151.6L555.0 151.6L555.3 168.8L555.6 166.2L555.9 148.5L556.3 148.5L556.6 148.6L556.9 148.6L557.2 150.2L557.5 150.2L557.8 150.2L558.1 150.2L558.5 147.7L558.8 147.7L559.1 148.2L559.4 149.9L559.7 149.9L560.0 149.9L560.4 149.9L560.7 149.9L561.0 149.9L561.3 149.9L561.6 149.9L561.9 149.9L562.2 149.9L562.6 149.9L562.9 149.9L563.2 149.9L563.5 149.9L563.8 149.9L564.1 149.9L564.5 149.9L564.8 149.9L565.1 147.6L565.4 147.6L565.7 147.6L566.0 147.6L566.4 165.0L566.7 164.9L567.0 169.3L567.3 147.6L567.6 147.6L567.9 147.6L568.2 151.5L568.6 147.7L568.9 147.7L569.2 147.7L569.5 147.7L569.8 147.3L570.1 147.3L570.5 147.3L570.8 147.3L571.1 147.3L571.4 147.3L571.7 147.3L572.0 147.3L572.3 150.5L572.7 150.5L573.0 148.0L573.3 151.4L573.6 151.4L573.9 151.4L574.2 151.4L574.6 151.4L574.9 150.0L575.2 150.0L575.5 150.0L575.8 150.0L576.1 150.3L576.4 150.3L576.8 148.3L577.1 148.3L577.4 148.3L577.7 150.8L578.0 150.8L578.3 150.8L578.7 150.8L579.0 175.6L579.3 150.8L579.6 150.9L579.9 150.9L580.2 172.2L580.6 172.3L580.9 172.7L581.2 171.3L581.5 147.9L581.8 147.9L582.1 151.2L582.4 150.8L582.8 150.3L583.1 150.0L583.4 150.0L583.7 150.0L584.0 150.0L584.3 150.0L584.7 174.4L585.0 150.0L585.3 151.6L585.6 151.6L585.9 151.6L586.2 151.6L586.5 151.6L586.9 151.6L587.2 151.6L587.5 151.6L587.8 151.6L588.1 151.6L588.4 151.6L588.8 147.6L589.1 146.8L589.4 146.8L589.7 148.8L590.0 148.8L590.3 148.8L590.7 148.8L591.0 150.7L591.3 150.7L591.6 148.4L591.9 148.4L592.2 148.4L592.5 146.1L592.9 146.1L593.2 146.1L593.5 147.8L593.8 147.8L594.1 147.8L594.4 170.8L594.8 169.3L595.1 169.1L595.4 172.7L595.7 149.6L596.0 149.6L596.3 151.0L596.6 151.0L597.0 151.0L597.3 151.0L597.6 151.0L597.9 151.0L598.2 151.0L598.5 151.0L598.9 151.1L599.2 165.8L599.5 151.1L599.8 151.1L600.1 151.1L600.4 151.1L600.8 151.1L601.1 151.1L601.4 152.6L601.7 150.0L602.0 150.0L602.3 151.4L602.6 131.5L603.0 131.5L603.3 151.4L603.6 151.4L603.9 147.6L604.2 153.8L604.5 153.8L604.9 153.9L605.2 151.4L605.5 151.4L605.8 151.4L606.1 151.4L606.4 151.4L606.7 151.4L607.1 151.4L607.4 151.4L607.7 151.4L608.0 165.5L608.3 151.4L608.6 146.1L609.0 146.1L609.3 146.1L609.6 169.8L609.9 170.7L610.2 149.3L610.5 149.3L610.8 149.3L611.2 149.3L611.5 149.3L611.8 149.3L612.1 149.3L612.4 174.2L612.7 149.3L613.1 150.3L613.4 130.3L613.7 130.3L614.0 150.3L614.3 150.3L614.6 150.3L615.0 150.3L615.3 150.3L615.6 150.3L615.9 150.3L616.2 149.0L616.5 149.0L616.8 149.0L617.2 149.0L617.5 130.3L617.8 130.3L618.1 149.0L618.4 149.0L618.7 149.0L619.1 149.0L619.4 165.9L619.7 149.0L620.0 149.0L620.3 149.0L620.6 149.0L620.9 149.0L621.3 149.0L621.6 151.4L621.9 151.5L622.2 152.0L622.5 152.0L622.8 152.0L623.2 152.0L623.5 150.4L623.8 153.3L624.1 153.3L624.4 153.3L624.7 152.5L625.1 152.5L625.4 152.5L625.7 153.9L626.0 153.9L626.3 153.9L626.6 153.9L626.9 153.9L627.3 153.9L627.6 149.2L627.9 172.2L628.2 172.5L628.5 148.3L628.8 148.3L629.2 148.4L629.5 148.4L629.8 148.4L630.1 148.4L630.4 148.4L630.7 148.4L631.0 162.9L631.4 160.7L631.7 165.4L632.0 149.6L632.3 152.8L632.6 152.8L632.9 152.8L633.3 152.8L633.6 152.8L633.9 150.3L634.2 150.3L634.5 150.3L634.8 148.0L635.2 148.0L635.5 148.0L635.8 148.0L636.1 148.0L636.4 148.0L636.7 148.0L637.0 148.0L637.4 148.0L637.7 148.0L638.0 148.0L638.3 148.0L638.6 148.0L638.9 150.9L639.3 150.9L639.6 150.9L639.9 150.9L640.2 150.9L640.5 150.9L640.8 153.4L641.1 155.9L641.5 158.4L641.8 160.9L642.1 164.2L642.4 166.7L642.7 169.3L643.0 171.8L643.4 172.2L643.7 159.4L644.0 163.3L644.3 165.3L644.6 186.6L644.9 178.1L645.2 187.8L645.6 183.8L645.9 192.2L646.2 191.4L646.5 181.6L646.8 182.4L647.1 174.5L647.5 176.6L647.8 174.7L648.1 189.2L648.4 190.1L648.7 179.4L649.0 183.8L649.4 191.4L649.7 189.8L650.0 190.7L650.3 189.2L650.6 204.1L650.9 186.2L651.2 184.4L651.6 182.8L651.9 194.3L652.2 194.5L652.5 196.0L652.8 197.4L653.1 189.6L653.5 198.6L653.8 197.1L654.1 197.4L654.4 193.9L654.7 198.5L655.0 198.7L655.3 198.9L655.7 199.2L656.0 183.8L656.3 181.9L656.6 184.5L656.9 195.7L657.2 195.7L657.6 183.8L657.9 184.2L658.2 185.1L658.5 193.0L658.8 193.0L659.1 193.1L659.5 184.7L659.8 197.9L660.1 201.9L660.4 202.0L660.7 201.8L661.0 201.9L661.3 202.0L661.7 204.1L662.0 205.2L662.3 200.1L662.6 200.2L662.9 200.3L663.2 193.5L663.6 201.0L663.9 198.9L664.2 203.3L664.5 203.4L664.8 203.5L665.1 203.6L665.4 202.6L665.8 200.3L666.1 205.4L666.4 204.3L666.7 206.9L667.0 205.6L667.3 203.5L667.7 197.0L668.0 197.0L668.3 206.5L668.6 197.9L668.9 200.3L669.2 190.3L669.6 199.3L669.9 201.1L670.2 201.2L670.5 205.4L670.8 187.4L671.1 185.0L671.4 188.8L671.8 190.6L672.1 185.1L672.4 191.0L672.7 187.4L673.0 200.4L673.3 204.5L673.7 200.5L674.0 207.5L674.3 200.7L674.6 193.4L674.9 200.9L675.2 207.0L675.5 203.5L675.9 201.2L676.2 194.7L676.5 192.4L676.8 193.3L677.1 201.7L677.4 209.9L677.8 192.3L678.1 195.9L678.4 208.5L678.7 206.9L679.0 203.3L679.3 203.3L679.7 203.3L680.0 200.0L680.3 200.0L680.6 200.0L680.9 205.9L681.2 205.9L681.5 205.9L681.9 205.9L682.2 189.5L682.5 195.0L682.8 200.7L683.1 200.7L683.4 204.2L683.8 204.2L684.1 204.2L684.4 204.2L684.7 204.2L685.0 205.9L685.3 207.6L685.6 203.9L686.0 204.3L686.3 204.3L686.6 204.3L686.9 204.3L687.2 204.3L687.5 206.8L687.9 206.8L688.2 206.8L688.5 184.0L688.8 187.8L689.1 206.8L689.4 205.6L689.7 205.6L690.1 204.7L690.4 193.9L690.7 182.1L691.0 201.0L691.3 203.3L691.6 202.4L692.0 202.4L692.3 202.4L692.6 202.4L692.9 202.4L693.2 203.7L693.5 203.7L693.9 203.7L694.2 203.7L694.5 203.7L694.8 203.8L695.1 203.8L695.4 203.8L695.7 203.8L696.1 203.8L696.4 203.8L696.7 203.8L697.0 203.8L697.3 203.8L697.6 203.9L698.0 203.9L698.3 203.9L698.6 203.9L698.9 203.9L699.2 203.9L699.5 204.0L699.8 207.8L700.2 204.1L700.5 204.1L700.8 204.1L701.1 204.7L701.4 198.6L701.7 192.1L702.1 192.9L702.4 198.6L702.7 191.9L703.0 195.4L703.3 192.4L703.6 196.6L704.0 193.8L704.3 192.0L704.6 188.9L704.9 191.5L705.2 193.1L705.5 203.8L705.8 198.8L706.2 198.8L706.5 201.7L706.8 202.5L707.1 202.5L707.4 202.6L707.7 202.6L708.1 211.7L708.4 206.2L708.7 209.3L709.0 207.7L709.3 206.0L709.6 210.0L709.9 210.6L710.3 206.2L710.6 211.0L710.9 209.5L711.2 208.4L711.5 207.5L711.8 205.5L712.2 210.5L712.5 209.4L712.8 209.4L713.1 193.9L713.4 209.4L713.7 184.0L714.1 209.4L714.4 209.5L714.7 203.7L715.0 203.7L715.3 189.5L715.6 200.0L715.9 200.0L716.3 200.0L716.6 195.4L716.9 191.0L717.2 192.7L717.5 192.0L717.8 202.6L718.2 205.1L718.5 200.9L718.8 200.9L719.1 200.9L719.4 200.9L719.7 200.9L720.0 200.9L720.4 201.0L720.7 201.0L721.0 214.0L721.3 213.1L721.6 201.0L721.9 203.0L722.3 199.8L722.6 205.6L722.9 202.4L723.2 202.4L723.5 202.4L723.8 202.4L724.1 202.4L724.5 202.5L724.8 204.5L725.1 204.5L725.4 204.5L725.7 204.6L726.0 201.1L726.4 201.1L726.7 207.0L727.0 207.0L727.3 201.8L727.6 201.8L727.9 202.1L728.3 202.1L728.6 202.1L728.9 202.1L729.2 202.1L729.5 201.7L729.8 190.5L730.1 189.7L730.5 191.0L730.8 204.1L731.1 204.1L731.4 204.1L731.7 199.6L732.0 199.1L732.4 202.0L732.7 198.9L733.0 209.2L733.3 209.2L733.6 209.2L733.9 209.3L734.2 205.5L734.6 205.5L734.9 205.5L735.2 206.8L735.5 204.3L735.8 208.2L736.1 208.3L736.5 207.5L736.8 184.0L737.1 205.6L737.4 205.6L737.7 208.0L738.0 207.5L738.4 203.8L738.7 203.8L739.0 203.9L739.3 202.2L739.6 203.9L739.9 193.1L740.2 187.0L740.6 203.9L740.9 206.6L741.2 206.6L741.5 206.7L741.8 206.7L742.1 206.7L742.5 206.7L742.8 206.7L743.1 206.7L743.4 213.5L743.7 183.3L744.0 182.5L744.3 187.5L744.7 182.4L745.0 202.6L745.3 202.6L745.6 202.6L745.9 202.6L746.2 202.6L746.6 212.2L746.9 202.6L747.2 190.0L747.5 187.5L747.8 187.4L748.1 199.8L748.5 202.9L748.8 204.3L749.1 202.9L749.4 199.8L749.7 203.3L750.0 202.7L750.3 207.2L750.7 207.2L751.0 186.8L751.3 207.2L751.6 207.2L751.9 207.2L752.2 204.1L752.6 204.1L752.9 204.1L753.2 203.6L753.5 203.6L753.8 186.4L754.1 203.6L754.4 203.6L754.8 203.6L755.1 203.6L755.4 203.6L755.7 203.7L756.0 203.7L756.3 203.7L756.7 208.5L757.0 208.5L757.3 208.5L757.6 208.5L757.9 204.2L758.2 204.0L758.6 204.0L758.9 204.1L759.2 211.9L759.5 211.9L759.8 211.9L760.1 211.9L760.4 216.3L760.8 211.9L761.1 211.9L761.4 205.0L761.7 205.1L762.0 206.2L762.3 204.0L762.7 202.3L763.0 202.4L763.3 205.1L763.6 205.1" fill="none" stroke="#f01818" stroke-width="2.0" stroke-linejoin="round"/>
<path clip-path="url(#cb)" d="M448.0 125.3L448.3 118.7L448.6 105.6L448.9 105.7L449.3 105.8L449.6 122.0L449.9 118.5L450.2 106.1L450.5 106.2L450.8 106.3L451.2 90.9L451.5 90.9L451.8 113.7L452.1 113.7L452.4 116.1L452.7 120.5L453.0 113.8L453.4 113.8L453.7 100.2L454.0 114.6L454.3 114.6L454.6 114.6L454.9 114.6L455.3 114.6L455.6 114.6L455.9 113.8L456.2 112.1L456.5 107.6L456.8 108.8L457.2 112.1L457.5 110.4L457.8 106.8L458.1 106.9L458.4 107.0L458.7 107.1L459.0 111.6L459.4 111.7L459.7 111.7L460.0 97.0L460.3 100.7L460.6 111.9L460.9 111.9L461.3 111.5L461.6 111.6L461.9 111.6L462.2 109.5L462.5 103.7L462.8 114.4L463.1 118.3L463.5 122.3L463.8 121.6L464.1 124.0L464.4 126.5L464.7 141.0L465.0 139.1L465.4 148.5L465.7 132.5L466.0 134.9L466.3 137.3L466.6 143.5L466.9 166.3L467.3 166.3L467.6 142.9L467.9 143.0L468.2 143.0L468.5 156.3L468.8 144.7L469.1 132.7L469.5 135.9L469.8 145.5L470.1 144.1L470.4 144.1L470.7 132.3L471.0 148.3L471.4 148.3L471.7 148.3L472.0 144.9L472.3 144.9L472.6 144.9L472.9 144.9L473.2 150.7L473.6 150.3L473.9 153.0L474.2 146.4L474.5 146.4L474.8 147.1L475.1 147.1L475.5 147.1L475.8 144.3L476.1 144.3L476.4 141.6L476.7 146.8L477.0 101.0L477.4 101.0L477.7 146.3L478.0 139.8L478.3 146.3L478.6 144.9L478.9 144.9L479.2 150.2L479.6 150.2L479.9 145.5L480.2 154.5L480.5 145.5L480.8 145.6L481.1 145.6L481.5 146.4L481.8 137.8L482.1 142.2L482.4 146.4L482.7 146.4L483.0 147.9L483.3 147.9L483.7 147.9L484.0 147.9L484.3 147.9L484.6 147.9L484.9 147.9L485.2 148.2L485.6 147.9L485.9 148.7L486.2 148.7L486.5 148.7L486.8 140.7L487.1 140.9L487.4 144.5L487.8 138.2L488.1 142.3L488.4 149.8L488.7 149.8L489.0 149.8L489.3 142.5L489.7 149.9L490.0 149.7L490.3 149.7L490.6 149.7L490.9 149.7L491.2 144.6L491.6 149.4L491.9 145.8L492.2 145.8L492.5 145.8L492.8 148.2L493.1 146.9L493.4 149.6L493.8 145.8L494.1 145.8L494.4 145.8L494.7 145.8L495.0 167.2L495.3 145.9L495.7 145.9L496.0 145.9L496.3 146.0L496.6 146.0L496.9 149.4L497.2 158.8L497.5 145.9L497.9 146.8L498.2 148.5L498.5 148.5L498.8 137.8L499.1 142.9L499.4 141.3L499.8 139.0L500.1 148.5L500.4 148.5L500.7 148.6L501.0 148.6L501.3 149.5L501.7 149.5L502.0 148.9L502.3 148.9L502.6 146.4L502.9 147.9L503.2 144.3L503.5 144.3L503.9 144.4L504.2 144.4L504.5 144.4L504.8 144.4L505.1 144.4L505.4 144.4L505.8 175.0L506.1 175.0L506.4 144.4L506.7 144.4L507.0 146.8L507.3 133.6L507.6 146.8L508.0 169.2L508.3 169.2L508.6 146.8L508.9 152.2L509.2 146.8L509.5 148.7L509.9 148.7L510.2 148.7L510.5 148.7L510.8 148.7L511.1 148.7L511.4 147.4L511.8 145.9L512.1 150.0L512.4 144.4L512.7 153.7L513.0 153.7L513.3 146.4L513.6 157.3L514.0 158.9L514.3 146.3L514.6 145.8L514.9 147.4L515.2 148.4L515.5 142.6L515.9 147.9L516.2 147.6L516.5 147.6L516.8 147.6L517.1 147.6L517.4 147.6L517.7 147.5L518.1 147.5L518.4 147.6L518.7 147.6L519.0 147.6L519.3 147.6L519.6 147.6L520.0 147.6L520.3 147.6L520.6 142.2L520.9 142.2L521.2 144.9L521.5 144.9L521.9 144.9L522.2 144.9L522.5 145.0L522.8 148.5L523.1 154.7L523.4 142.0L523.7 142.0L524.1 142.0L524.4 142.0L524.7 142.0L525.0 142.0L525.3 142.0L525.6 142.0L526.0 142.0L526.3 142.0L526.6 142.0L526.9 159.4L527.2 142.0L527.5 142.1L527.8 142.1L528.2 142.1L528.5 146.9L528.8 142.9L529.1 143.0L529.4 143.0L529.7 143.0L530.1 143.0L530.4 143.0L530.7 143.0L531.0 143.0L531.3 162.2L531.6 165.9L531.9 161.6L532.3 168.2L532.6 161.9L532.9 164.3L533.2 167.0L533.5 151.0L533.8 148.2L534.2 144.4L534.5 144.4L534.8 149.6L535.1 149.6L535.4 149.6L535.7 149.6L536.1 149.6L536.4 147.8L536.7 147.8L537.0 142.4L537.3 142.4L537.6 147.0L537.9 148.5L538.3 148.5L538.6 144.3L538.9 144.3L539.2 144.3L539.5 144.3L539.8 144.3L540.2 149.2L540.5 149.2L540.8 145.6L541.1 150.3L541.4 150.3L541.7 150.3L542.0 153.9L542.4 157.3L542.7 148.8L543.0 148.8L543.3 152.5L543.6 148.2L543.9 151.3L544.3 150.8L544.6 148.4L544.9 148.4L545.2 148.4L545.5 148.4L545.8 148.5L546.2 148.5L546.5 148.5L546.8 148.6L547.1 140.6L547.4 141.0L547.7 142.1L548.0 150.2L548.4 150.2L548.7 163.9L549.0 159.0L549.3 150.3L549.6 150.3L549.9 150.3L550.3 150.4L550.6 150.4L550.9 150.4L551.2 153.9L551.5 152.0L551.8 152.0L552.1 150.5L552.5 149.5L552.8 149.6L553.1 150.2L553.4 150.2L553.7 140.6L554.0 140.7L554.4 147.9L554.7 147.9L555.0 147.7L555.3 147.8L555.6 146.7L555.9 148.7L556.3 151.0L556.6 150.9L556.9 149.4L557.2 149.4L557.5 149.4L557.8 146.1L558.1 146.1L558.5 146.1L558.8 146.1L559.1 146.2L559.4 146.2L559.7 146.2L560.0 146.3L560.4 146.3L560.7 146.3L561.0 150.4L561.3 152.9L561.6 152.9L561.9 153.0L562.2 153.0L562.6 153.0L562.9 153.1L563.2 153.1L563.5 165.4L563.8 141.9L564.1 142.0L564.5 143.2L564.8 151.6L565.1 149.5L565.4 146.2L565.7 153.3L566.0 153.3L566.4 153.4L566.7 150.1L567.0 155.2L567.3 156.8L567.6 147.2L567.9 147.2L568.2 147.2L568.6 149.1L568.9 148.3L569.2 148.4L569.5 168.3L569.8 166.6L570.1 150.3L570.5 155.0L570.8 155.0L571.1 149.6L571.4 149.6L571.7 149.7L572.0 149.7L572.3 149.7L572.7 150.8L573.0 150.0L573.3 150.0L573.6 150.1L573.9 150.1L574.2 152.0L574.6 152.0L574.9 152.0L575.2 152.1L575.5 152.1L575.8 152.1L576.1 152.2L576.4 165.4L576.8 152.2L577.1 152.2L577.4 166.1L577.7 152.3L578.0 152.3L578.3 152.4L578.7 152.4L579.0 157.5L579.3 157.7L579.6 156.3L579.9 158.0L580.2 149.7L580.6 149.7L580.9 150.1L581.2 150.1L581.5 151.2L581.8 151.2L582.1 151.3L582.4 149.4L582.8 149.4L583.1 149.5L583.4 149.5L583.7 148.7L584.0 149.6L584.3 143.3L584.7 149.3L585.0 149.7L585.3 158.2L585.6 154.5L585.9 158.0L586.2 149.8L586.5 149.9L586.9 149.9L587.2 149.9L587.5 150.0L587.8 167.2L588.1 163.8L588.4 158.3L588.8 161.4L589.1 149.3L589.4 149.4L589.7 150.7L590.0 150.7L590.3 150.8L590.7 170.5L591.0 150.8L591.3 150.2L591.6 150.2L591.9 150.3L592.2 150.3L592.5 150.3L592.9 150.4L593.2 150.4L593.5 150.4L593.8 153.6L594.1 167.2L594.4 163.6L594.8 153.7L595.1 153.7L595.4 153.8L595.7 153.8L596.0 153.8L596.3 153.8L596.6 153.4L597.0 153.4L597.3 153.6L597.6 154.7L597.9 154.6L598.2 153.3L598.5 153.9L598.9 161.3L599.2 153.6L599.5 153.7L599.8 153.7L600.1 153.7L600.4 153.7L600.8 153.8L601.1 153.8L601.4 155.8L601.7 155.8L602.0 155.8L602.3 154.4L602.6 154.5L603.0 154.5L603.3 154.5L603.6 154.5L603.9 154.6L604.2 167.8L604.5 172.7L604.9 170.1L605.2 168.9L605.5 154.7L605.8 154.7L606.1 154.8L606.4 153.4L606.7 163.0L607.1 163.5L607.4 153.5L607.7 155.2L608.0 148.3L608.3 151.6L608.6 155.3L609.0 174.5L609.3 174.7L609.6 160.0L609.9 153.6L610.2 153.3L610.5 172.5L610.8 170.0L611.2 155.7L611.5 163.5L611.8 152.5L612.1 152.5L612.4 161.0L612.7 152.6L613.1 152.7L613.4 152.7L613.7 152.7L614.0 158.6L614.3 152.8L614.6 152.9L615.0 152.9L615.3 158.7L615.6 158.7L615.9 158.7L616.2 158.8L616.5 155.0L616.8 155.1L617.2 156.5L617.5 156.5L617.8 168.1L618.1 158.4L618.4 158.4L618.7 158.5L619.1 173.9L619.4 158.5L619.7 156.1L620.0 156.1L620.3 158.0L620.6 169.5L620.9 165.8L621.3 163.8L621.6 154.5L621.9 162.9L622.2 167.8L622.5 169.6L622.8 170.4L623.2 154.7L623.5 155.7L623.8 154.8L624.1 167.7L624.4 166.4L624.7 166.8L625.1 166.3L625.4 164.8L625.7 162.4L626.0 168.2L626.3 158.5L626.6 158.5L626.9 156.5L627.3 174.3L627.6 171.8L627.9 174.4L628.2 156.7L628.5 153.2L628.8 154.4L629.2 155.6L629.5 153.8L629.8 160.7L630.1 162.1L630.4 169.9L630.7 162.5L631.0 164.2L631.4 157.0L631.7 157.0L632.0 169.2L632.3 170.6L632.6 166.7L632.9 171.6L633.3 158.7L633.6 151.9L633.9 151.9L634.2 164.7L634.5 164.3L634.8 163.4L635.2 164.0L635.5 153.8L635.8 153.9L636.1 153.9L636.4 151.7L636.7 154.0L637.0 154.0L637.4 154.1L637.7 153.8L638.0 171.1L638.3 154.2L638.6 159.7L638.9 154.3L639.3 170.4L639.6 174.6L639.9 160.2L640.2 160.2L640.5 175.2L640.8 174.4L641.1 160.3L641.5 161.7L641.8 160.8L642.1 163.4L642.4 166.4L642.7 168.1L643.0 169.9L643.4 173.2L643.7 174.9L644.0 174.9L644.3 177.5L644.6 177.5L644.9 177.5L645.2 177.5L645.6 177.5L645.9 180.6L646.2 177.6L646.5 177.5L646.8 177.5L647.1 177.5L647.5 177.5L647.8 177.0L648.1 177.0L648.4 177.0L648.7 177.0L649.0 177.0L649.4 174.4L649.7 174.4L650.0 174.4L650.3 179.1L650.6 174.5L650.9 180.9L651.2 181.2L651.6 175.6L651.9 175.6L652.2 175.6L652.5 178.5L652.8 178.5L653.1 178.5L653.5 178.5L653.8 178.5L654.1 173.5L654.4 173.5L654.7 173.5L655.0 173.5L655.3 173.5L655.7 173.5L656.0 173.5L656.3 173.5L656.6 176.2L656.9 176.2L657.2 176.2L657.6 176.2L657.9 176.2L658.2 176.2L658.5 176.2L658.8 176.2L659.1 180.4L659.5 181.0L659.8 177.1L660.1 178.3L660.4 180.8L660.7 176.9L661.0 174.9L661.3 170.2L661.7 177.7L662.0 177.7L662.3 177.7L662.6 177.7L662.9 175.0L663.2 175.0L663.6 175.0L663.9 174.6L664.2 174.6L664.5 173.8L664.8 175.1L665.1 175.1L665.4 175.1L665.8 175.1L666.1 173.9L666.4 173.1L666.7 184.4L667.0 173.1L667.3 170.4L667.7 169.8L668.0 175.2L668.3 171.3L668.6 171.3L668.9 178.6L669.2 178.6L669.6 178.6L669.9 178.6L670.2 172.8L670.5 176.5L670.8 176.5L671.1 176.5L671.4 183.5L671.8 174.4L672.1 174.4L672.4 170.6L672.7 170.6L673.0 170.6L673.3 170.6L673.7 170.6L674.0 170.6L674.3 170.6L674.6 170.6L674.9 180.0L675.2 180.0L675.5 182.2L675.9 182.0L676.2 173.4L676.5 175.0L676.8 169.8L677.1 167.8L677.4 158.3L677.8 156.3L678.1 154.2L678.4 156.4L678.7 153.5L679.0 157.3L679.3 161.9L679.7 155.7L680.0 155.7L680.3 155.7L680.6 153.4L680.9 155.6L681.2 156.2L681.5 156.9L681.9 156.9L682.2 156.9L682.5 152.5L682.8 156.9L683.1 154.4L683.4 154.4L683.8 154.4L684.1 154.4L684.4 154.4L684.7 154.4L685.0 153.3L685.3 156.6L685.6 156.6L686.0 156.6L686.3 155.4L686.6 151.1L686.9 157.6L687.2 158.8L687.5 152.3L687.9 152.3L688.2 152.3L688.5 147.7L688.8 152.3L689.1 152.3L689.4 152.3L689.7 152.3L690.1 158.3L690.4 158.3L690.7 158.3L691.0 158.3L691.3 158.3L691.6 158.3L692.0 152.4L692.3 156.5L692.6 156.5L692.9 151.8L693.2 151.8L693.5 151.8L693.9 159.5L694.2 159.3L694.5 157.6L694.8 157.6L695.1 153.2L695.4 154.8L695.7 158.5L696.1 156.7L696.4 156.3L696.7 156.3L697.0 156.3L697.3 156.3L697.6 156.3L698.0 156.3L698.3 156.3L698.6 156.3L698.9 156.3L699.2 156.3L699.5 153.5L699.8 149.8L700.2 149.8L700.5 149.8L700.8 149.8L701.1 149.8L701.4 149.8L701.7 149.8L702.1 149.8L702.4 149.8L702.7 153.8L703.0 151.9L703.3 149.8L703.6 156.2L704.0 156.2L704.3 156.2L704.6 151.4L704.9 155.0L705.2 157.6L705.5 160.1L705.8 155.7L706.2 156.1L706.5 156.1L706.8 156.1L707.1 156.1L707.4 151.0L707.7 153.6L708.1 147.6L708.4 152.3L708.7 152.3L709.0 154.9L709.3 154.9L709.6 154.9L709.9 154.9L710.3 157.6L710.6 159.8L710.9 157.6L711.2 157.6L711.5 157.6L711.8 157.6L712.2 153.7L712.5 153.7L712.8 153.7L713.1 152.9L713.4 154.4L713.7 153.2L714.1 153.2L714.4 155.2L714.7 155.2L715.0 155.2L715.3 155.2L715.6 152.1L715.9 152.3L716.3 150.2L716.6 151.8L716.9 152.3L717.2 152.3L717.5 152.3L717.8 153.9L718.2 153.9L718.5 150.4L718.8 150.4L719.1 150.4L719.4 150.4L719.7 150.4L720.0 150.4L720.4 150.4L720.7 150.4L721.0 150.4L721.3 157.1L721.6 152.3L721.9 150.6L722.3 152.3L722.6 152.3L722.9 152.3L723.2 158.4L723.5 158.4L723.8 158.4L724.1 158.4L724.5 158.4L724.8 158.4L725.1 158.3L725.4 158.3L725.7 158.3L726.0 158.3L726.4 155.4L726.7 155.4L727.0 155.4L727.3 155.4L727.6 155.3L727.9 155.3L728.3 154.6L728.6 159.7L728.9 155.3L729.2 154.3L729.5 158.5L729.8 155.7L730.1 155.7L730.5 155.7L730.8 155.7L731.1 155.7L731.4 155.7L731.7 155.7L732.0 155.7L732.4 155.7L732.7 155.7L733.0 155.7L733.3 155.5L733.6 155.5L733.9 152.1L734.2 153.0L734.6 153.0L734.9 151.3L735.2 149.6L735.5 161.8L735.8 160.9L736.1 162.4L736.5 162.3L736.8 160.4L737.1 157.6L737.4 157.6L737.7 157.6L738.0 157.6L738.4 157.6L738.7 158.4L739.0 148.3L739.3 155.0L739.6 160.7L739.9 158.4L740.2 158.4L740.6 158.4L740.9 158.4L741.2 158.4L741.5 158.4L741.8 158.4L742.1 157.3L742.5 157.3L742.8 157.3L743.1 150.6L743.4 137.3L743.7 137.3L744.0 157.3L744.3 157.3L744.7 161.2L745.0 161.2L745.3 161.2L745.6 161.2L745.9 161.2L746.2 161.2L746.6 161.2L746.9 151.2L747.2 151.2L747.5 154.9L747.8 153.5L748.1 153.5L748.5 161.2L748.8 164.2L749.1 153.5L749.4 152.9L749.7 152.7L750.0 155.9L750.3 166.4L750.7 149.2L751.0 151.4L751.3 149.9L751.6 149.9L751.9 154.4L752.2 154.4L752.6 154.4L752.9 154.4L753.2 156.4L753.5 156.4L753.8 156.4L754.1 156.4L754.4 156.4L754.8 149.8L755.1 149.8L755.4 149.8L755.7 149.8L756.0 159.6L756.3 167.8L756.7 149.8L757.0 149.9L757.3 149.9L757.6 149.9L757.9 149.9L758.2 149.9L758.6 156.9L758.9 156.9L759.2 156.9L759.5 153.3L759.8 153.3L760.1 153.3L760.4 153.3L760.8 153.3L761.1 153.3L761.4 155.2L761.7 155.2L762.0 155.2L762.3 151.5L762.7 155.2L763.0 155.2L763.3 155.0L763.6 153.9" fill="none" stroke="#8c8422" stroke-width="2.0" stroke-linejoin="round"/>
<path clip-path="url(#cb)" d="M448.0 148.9L448.3 148.7L448.6 148.6L448.9 148.6L449.3 148.6L449.6 148.6L449.9 148.6L450.2 148.6L450.5 144.2L450.8 148.0L451.2 148.0L451.5 148.0L451.8 150.9L452.1 150.9L452.4 150.9L452.7 150.9L453.0 144.5L453.4 144.5L453.7 144.5L454.0 151.5L454.3 151.5L454.6 151.5L454.9 147.9L455.3 147.9L455.6 147.9L455.9 147.9L456.2 147.9L456.5 147.9L456.8 150.3L457.2 150.3L457.5 150.3L457.8 150.3L458.1 150.3L458.4 150.3L458.7 151.1L459.0 151.1L459.4 151.1L459.7 151.1L460.0 151.1L460.3 151.1L460.6 151.1L460.9 151.1L461.3 151.1L461.6 151.1L461.9 145.1L462.2 149.2L462.5 144.5L462.8 144.0L463.1 145.5L463.5 153.9L463.8 153.9L464.1 153.9L464.4 153.9L464.7 145.7L465.0 151.5L465.4 151.5L465.7 151.5L466.0 152.8L466.3 154.7L466.6 150.5L466.9 149.0L467.3 147.0L467.6 153.3L467.9 153.3L468.2 153.3L468.5 147.6L468.8 147.6L469.1 149.1L469.5 148.8L469.8 148.6L470.1 144.9L470.4 148.2L470.7 146.0L471.0 144.2L471.4 148.1L471.7 145.9L472.0 148.1L472.3 148.8L472.6 148.8L472.9 148.8L473.2 148.8L473.6 146.8L473.9 150.5L474.2 150.5L474.5 150.5L474.8 156.2L475.1 150.5L475.5 150.5L475.8 150.5L476.1 145.8L476.4 144.4L476.7 141.8L477.0 150.3L477.4 150.3L477.7 150.3L478.0 150.3L478.3 150.3L478.6 149.1L478.9 149.1L479.2 147.7L479.6 148.0L479.9 149.1L480.2 149.0L480.5 146.4L480.8 147.2L481.1 149.1L481.5 149.1L481.8 149.1L482.1 149.1L482.4 149.1L482.7 146.4L483.0 151.3L483.3 149.0L483.7 147.2L484.0 147.2L484.3 147.2L484.6 147.2L484.9 149.7L485.2 146.9L485.6 145.1L485.9 141.7L486.2 140.4L486.5 150.0L486.8 150.0L487.1 139.5L487.4 141.4L487.8 142.0L488.1 144.4L488.4 150.0L488.7 150.0L489.0 150.0L489.3 152.7L489.7 161.7L490.0 152.7L490.3 148.8L490.6 149.4L490.9 155.2L491.2 148.0L491.6 147.6L491.9 147.6L492.2 151.2L492.5 151.2L492.8 140.1L493.1 151.2L493.4 151.2L493.8 151.2L494.1 151.2L494.4 160.2L494.7 154.6L495.0 145.9L495.3 147.8L495.7 147.8L496.0 147.8L496.3 147.7L496.6 147.7L496.9 147.7L497.2 147.7L497.5 149.9L497.9 148.2L498.2 151.0L498.5 145.8L498.8 147.5L499.1 147.5L499.4 160.7L499.8 161.4L500.1 147.5L500.4 151.6L500.7 151.6L501.0 151.6L501.3 151.6L501.7 151.6L502.0 147.0L502.3 147.0L502.6 147.0L502.9 147.0L503.2 145.1L503.5 145.1L503.9 145.1L504.2 145.1L504.5 145.1L504.8 145.1L505.1 152.3L505.4 146.5L505.8 146.5L506.1 146.5L506.4 149.4L506.7 151.2L507.0 146.2L507.3 146.2L507.6 152.1L508.0 152.1L508.3 152.1L508.6 152.1L508.9 146.0L509.2 146.0L509.5 146.0L509.9 149.5L510.2 149.5L510.5 149.5L510.8 149.5L511.1 149.5L511.4 149.5L511.8 149.5L512.1 149.5L512.4 146.9L512.7 146.9L513.0 146.9L513.3 146.9L513.6 146.9L514.0 146.9L514.3 146.9L514.6 146.9L514.9 146.9L515.2 146.9L515.5 146.9L515.9 146.9L516.2 148.9L516.5 146.4L516.8 144.5L517.1 146.9L517.4 149.4L517.7 149.4L518.1 150.2L518.4 148.0L518.7 148.0L519.0 146.4L519.3 146.4L519.6 146.4L520.0 149.2L520.3 149.2L520.6 149.2L520.9 150.9L521.2 150.9L521.5 150.7L521.9 150.7L522.2 150.7L522.5 148.8L522.8 148.8L523.1 147.0L523.4 147.0L523.7 151.5L524.1 151.5L524.4 151.5L524.7 152.1L525.0 152.6L525.3 151.5L525.6 151.1L526.0 152.6L526.3 149.5L526.6 149.3L526.9 148.6L527.2 135.6L527.5 122.5L527.8 109.5L528.2 106.2L528.5 102.2L528.8 98.2L529.1 94.3L529.4 93.5L529.7 92.8L530.1 92.1L530.4 91.3L530.7 90.6L531.0 89.9L531.3 90.8L531.6 90.7L531.9 91.6L532.3 92.4L532.6 93.3L532.9 98.6L533.2 104.0L533.5 109.3L533.8 122.3L534.2 135.4L534.5 148.4L534.8 148.4L535.1 149.1L535.4 148.5L535.7 148.0L536.1 147.7L536.4 147.5L536.7 149.7L537.0 148.6L537.3 153.9L537.6 153.9L537.9 153.9L538.3 153.9L538.6 153.9L538.9 154.6L539.2 147.7L539.5 149.6L539.8 149.6L540.2 149.2L540.5 149.2L540.8 149.2L541.1 149.2L541.4 149.2L541.7 149.2L542.0 149.2L542.4 151.9L542.7 155.4L543.0 157.6L543.3 146.7L543.6 146.7L543.9 146.7L544.3 147.6L544.6 147.6L544.9 147.6L545.2 147.6L545.5 149.9L545.8 149.9L546.2 149.9L546.5 149.9L546.8 149.9L547.1 149.9L547.4 149.9L547.7 146.9L548.0 146.9L548.4 146.9L548.7 140.6L549.0 146.9L549.3 146.9L549.6 146.9L549.9 146.9L550.3 146.9L550.6 146.9L550.9 153.6L551.2 153.6L551.5 153.6L551.8 144.3L552.1 146.4L552.5 146.5L552.8 152.0L553.1 149.7L553.4 149.7L553.7 150.4L554.0 154.0L554.4 149.8L554.7 151.1L555.0 149.5L555.3 151.3L555.6 151.3L555.9 155.5L556.3 159.8L556.6 150.7L556.9 150.7L557.2 154.9L557.5 161.4L557.8 154.9L558.1 154.9L558.5 154.9L558.8 149.8L559.1 149.8L559.4 149.8L559.7 152.6L560.0 152.6L560.4 150.6L560.7 152.7L561.0 152.7L561.3 152.7L561.6 152.7L561.9 153.6L562.2 153.2L562.6 153.2L562.9 150.9L563.2 150.9L563.5 150.9L563.8 151.0L564.1 157.9L564.5 151.0L564.8 169.3L565.1 168.7L565.4 168.4L565.7 167.7L566.0 171.4L566.4 164.6L566.7 166.8L567.0 167.1L567.3 166.3L567.6 165.5L567.9 170.3L568.2 171.6L568.6 165.8L568.9 169.6L569.2 151.3L569.5 150.5L569.8 150.5L570.1 150.5L570.5 152.3L570.8 152.3L571.1 152.3L571.4 152.3L571.7 152.3L572.0 152.3L572.3 152.3L572.7 152.3L573.0 152.3L573.3 152.3L573.6 152.3L573.9 150.1L574.2 151.1L574.6 151.8L574.9 151.8L575.2 151.8L575.5 151.8L575.8 151.3L576.1 152.5L576.4 171.6L576.8 169.1L577.1 173.8L577.4 172.9L577.7 165.8L578.0 172.1L578.3 173.1L578.7 172.8L579.0 170.2L579.3 171.6L579.6 167.5L579.9 168.9L580.2 169.6L580.6 152.3L580.9 152.3L581.2 158.9L581.5 157.2L581.8 152.3L582.1 152.7L582.4 152.7L582.8 152.7L583.1 152.7L583.4 152.7L583.7 164.9L584.0 163.9L584.3 168.2L584.7 153.9L585.0 153.9L585.3 153.9L585.6 154.0L585.9 165.7L586.2 164.9L586.5 167.7L586.9 164.7L587.2 150.9L587.5 150.9L587.8 150.9L588.1 151.7L588.4 151.7L588.8 151.7L589.1 151.7L589.4 151.7L589.7 151.7L590.0 151.2L590.3 153.3L590.7 153.3L591.0 151.2L591.3 151.2L591.6 151.2L591.9 150.5L592.2 150.5L592.5 161.6L592.9 150.5L593.2 175.0L593.5 175.0L593.8 152.9L594.1 152.9L594.4 152.9L594.8 153.8L595.1 153.8L595.4 150.2L595.7 150.2L596.0 150.2L596.3 152.3L596.6 151.4L597.0 151.4L597.3 161.1L597.6 151.9L597.9 151.9L598.2 151.7L598.5 151.7L598.9 151.7L599.2 151.7L599.5 173.0L599.8 150.6L600.1 150.6L600.4 152.1L600.8 152.1L601.1 150.7L601.4 150.7L601.7 150.7L602.0 150.7L602.3 151.6L602.6 152.3L603.0 152.3L603.3 152.3L603.6 153.1L603.9 153.1L604.2 153.1L604.5 153.1L604.9 153.1L605.2 153.1L605.5 152.5L605.8 152.5L606.1 152.5L606.4 152.1L606.7 152.1L607.1 161.1L607.4 164.4L607.7 163.0L608.0 152.1L608.3 152.2L608.6 152.8L609.0 152.6L609.3 152.6L609.6 152.6L609.9 152.2L610.2 152.2L610.5 152.2L610.8 152.2L611.2 152.3L611.5 164.9L611.8 165.9L612.1 164.8L612.4 160.9L612.7 160.0L613.1 152.7L613.4 152.7L613.7 152.7L614.0 153.4L614.3 153.4L614.6 153.4L615.0 153.4L615.3 153.4L615.6 153.4L615.9 153.0L616.2 153.0L616.5 153.0L616.8 153.0L617.2 153.0L617.5 153.0L617.8 150.6L618.1 153.4L618.4 169.7L618.7 175.2L619.1 150.9L619.4 150.9L619.7 150.9L620.0 151.7L620.3 151.7L620.6 151.7L620.9 153.0L621.3 153.0L621.6 153.0L621.9 153.0L622.2 151.7L622.5 151.7L622.8 151.7L623.2 151.0L623.5 151.0L623.8 151.0L624.1 151.0L624.4 151.1L624.7 150.0L625.1 160.5L625.4 159.6L625.7 163.7L626.0 127.2L626.3 127.2L626.6 153.0L626.9 153.0L627.3 153.0L627.6 150.1L627.9 152.2L628.2 152.8L628.5 152.8L628.8 152.8L629.2 152.8L629.5 153.2L629.8 151.0L630.1 151.6L630.4 151.0L630.7 151.0L631.0 152.2L631.4 152.2L631.7 152.2L632.0 152.2L632.3 151.0L632.6 151.0L632.9 152.6L633.3 150.9L633.6 150.9L633.9 153.6L634.2 152.8L634.5 152.8L634.8 152.8L635.2 151.9L635.5 151.9L635.8 151.9L636.1 151.9L636.4 151.9L636.7 151.9L637.0 151.9L637.4 163.8L637.7 153.9L638.0 153.9L638.3 154.0L638.6 154.0L638.9 154.0L639.3 154.0L639.6 154.0L639.9 154.0L640.2 154.3L640.5 154.3L640.8 154.2L641.1 154.2L641.5 154.2L641.8 151.5L642.1 152.0L642.4 151.9L642.7 151.9L643.0 151.9L643.4 151.9L643.7 175.0L644.0 175.0L644.3 151.5L644.6 153.7L644.9 153.7L645.2 153.7L645.6 165.4L645.9 163.9L646.2 164.6L646.5 167.4L646.8 172.1L647.1 172.1L647.5 150.8L647.8 150.9L648.1 150.9L648.4 150.9L648.7 151.2L649.0 153.3L649.4 153.3L649.7 153.3L650.0 164.1L650.3 167.3L650.6 162.4L650.9 162.1L651.2 151.5L651.6 152.3L651.9 152.3L652.2 152.3L652.5 152.3L652.8 152.3L653.1 152.3L653.5 170.4L653.8 154.4L654.1 154.4L654.4 152.3L654.7 152.3L655.0 171.1L655.3 158.8L655.7 157.1L656.0 154.5L656.3 154.5L656.6 163.8L656.9 168.5L657.2 154.5L657.6 158.2L657.9 154.5L658.2 154.5L658.5 154.5L658.8 154.5L659.1 154.5L659.5 154.5L659.8 169.5L660.1 154.5L660.4 154.5L660.7 154.5L661.0 151.7L661.3 151.7L661.7 172.9L662.0 171.2L662.3 172.2L662.6 171.7L662.9 172.5L663.2 175.1L663.6 170.0L663.9 174.4L664.2 172.7L664.5 172.2L664.8 175.0L665.1 169.0L665.4 171.5L665.8 152.2L666.1 158.6L666.4 158.9L666.7 152.2L667.0 153.6L667.3 153.6L667.7 153.6L668.0 168.0L668.3 170.9L668.6 169.5L668.9 173.5L669.2 152.9L669.6 152.9L669.9 152.9L670.2 153.0L670.5 169.7L670.8 163.5L671.1 165.0L671.4 165.5L671.8 161.8L672.1 172.6L672.4 166.5L672.7 168.7L673.0 168.1L673.3 153.2L673.7 153.2L674.0 153.2L674.3 153.2L674.6 153.2L674.9 152.7L675.2 152.7L675.5 152.7L675.9 152.7L676.2 152.7L676.5 152.7L676.8 152.7L677.1 152.8L677.4 153.1L677.8 153.1L678.1 151.2L678.4 152.3L678.7 152.3L679.0 152.3L679.3 152.3L679.7 152.3L680.0 153.5L680.3 153.5L680.6 153.0L680.9 161.6L681.2 166.3L681.5 162.2L681.9 167.8L682.2 172.1L682.5 171.2L682.8 175.4L683.1 173.1L683.4 174.4L683.8 176.8L684.1 166.3L684.4 171.6L684.7 167.6L685.0 173.9L685.3 170.3L685.6 151.4L686.0 151.4L686.3 154.0L686.6 154.0L686.9 172.2L687.2 174.9L687.5 171.1L687.9 133.8L688.2 133.8L688.5 154.0L688.8 150.8L689.1 150.8L689.4 153.1L689.7 153.1L690.1 153.1L690.4 153.1L690.7 155.9L691.0 159.4L691.3 155.5L691.6 153.1L692.0 153.1L692.3 151.4L692.6 153.0L692.9 152.4L693.2 152.4L693.5 152.4L693.9 152.4L694.2 152.4L694.5 152.2L694.8 152.2L695.1 152.2L695.4 152.2L695.7 152.2L696.1 152.2L696.4 152.2L696.7 152.2L697.0 152.2L697.3 152.2L697.6 152.2L698.0 152.2L698.3 152.3L698.6 154.5L698.9 154.5L699.2 154.5L699.5 152.1L699.8 170.8L700.2 175.0L700.5 171.5L700.8 169.7L701.1 173.9L701.4 172.4L701.7 171.4L702.1 169.1L702.4 152.1L702.7 155.9L703.0 155.9L703.3 155.9L703.6 155.9L704.0 155.9L704.3 155.9L704.6 153.9L704.9 153.2L705.2 153.2L705.5 153.2L705.8 153.2L706.2 153.2L706.5 153.2L706.8 153.2L707.1 153.2L707.4 152.5L707.7 152.5L708.1 152.2L708.4 152.2L708.7 152.2L709.0 152.2L709.3 152.2L709.6 152.2L709.9 152.3L710.3 152.3L710.6 152.3L710.9 154.3L711.2 154.3L711.5 154.3L711.8 154.3L712.2 154.3L712.5 154.3L712.8 151.1L713.1 151.1L713.4 156.6L713.7 157.5L714.1 159.4L714.4 161.4L714.7 159.9L715.0 152.5L715.3 152.5L715.6 171.6L715.9 172.0L716.3 172.0L716.6 152.8L716.9 165.1L717.2 169.6L717.5 169.5L717.8 168.6L718.2 152.8L718.5 152.8L718.8 152.8L719.1 173.8L719.4 182.2L719.7 182.2L720.0 153.1L720.4 172.6L720.7 180.1L721.0 161.6L721.3 161.6L721.6 155.8L721.9 156.1L722.3 152.5L722.6 152.5L722.9 152.5L723.2 152.5L723.5 152.5L723.8 152.5L724.1 173.0L724.5 172.0L724.8 168.2L725.1 172.5L725.4 170.2L725.7 168.8L726.0 152.7L726.4 166.1L726.7 158.0L727.0 160.8L727.3 158.7L727.6 153.7L727.9 153.7L728.3 153.8L728.6 153.8L728.9 153.8L729.2 154.4L729.5 154.4L729.8 153.8L730.1 153.8L730.5 154.4L730.8 154.4L731.1 154.4L731.4 154.4L731.7 152.2L732.0 152.2L732.4 152.2L732.7 152.2L733.0 152.2L733.3 152.2L733.6 152.2L733.9 152.8L734.2 152.6L734.6 152.6L734.9 153.9L735.2 152.3L735.5 153.4L735.8 172.9L736.1 169.3L736.5 172.1L736.8 167.6L737.1 167.9L737.4 168.6L737.7 167.8L738.0 172.5L738.4 165.7L738.7 167.8L739.0 172.2L739.3 167.5L739.6 171.0L739.9 152.5L740.2 152.5L740.6 151.7L740.9 151.7L741.2 161.7L741.5 169.1L741.8 168.2L742.1 169.1L742.5 153.2L742.8 153.2L743.1 152.7L743.4 152.7L743.7 171.3L744.0 177.9L744.3 169.4L744.7 152.7L745.0 152.7L745.3 154.9L745.6 154.9L745.9 151.0L746.2 151.0L746.6 151.0L746.9 151.0L747.2 151.1L747.5 151.1L747.8 151.7L748.1 151.7L748.5 151.8L748.8 151.8L749.1 161.7L749.4 163.2L749.7 153.6L750.0 152.7L750.3 170.4L750.7 169.4L751.0 152.7L751.3 152.7L751.6 152.7L751.9 152.7L752.2 175.2L752.6 174.2L752.9 152.9L753.2 152.0L753.5 152.4L753.8 152.4L754.1 152.4L754.4 154.6L754.8 154.6L755.1 154.6L755.4 154.6L755.7 154.6L756.0 154.6L756.3 155.2L756.7 155.2L757.0 155.2L757.3 155.2L757.6 155.6L757.9 152.4L758.2 152.4L758.6 152.4L758.9 152.4L759.2 152.2L759.5 152.2L759.8 152.2L760.1 176.0L760.4 174.7L760.8 175.9L761.1 176.5L761.4 178.8L761.7 174.9L762.0 175.1L762.3 175.6L762.7 173.8L763.0 175.9L763.3 152.6L763.6 152.6" fill="none" stroke="#0c0c86" stroke-width="2.0" stroke-linejoin="round"/>
<path clip-path="url(#cb)" d="M448.0 147.4L448.3 149.5L448.6 149.5L448.9 144.6L449.3 144.6L449.6 144.6L449.9 145.0L450.2 145.0L450.5 145.0L450.8 149.4L451.2 149.4L451.5 151.3L451.8 109.3L452.1 113.7L452.4 118.4L452.7 113.1L453.0 117.5L453.4 114.5L453.7 113.2L454.0 114.3L454.3 112.8L454.6 114.1L454.9 149.7L455.3 145.8L455.6 145.8L455.9 147.0L456.2 147.0L456.5 147.0L456.8 147.0L457.2 148.6L457.5 148.6L457.8 104.1L458.1 105.4L458.4 101.2L458.7 147.0L459.0 147.0L459.4 115.8L459.7 111.9L460.0 112.7L460.3 113.1L460.6 146.9L460.9 146.9L461.3 146.9L461.6 108.3L461.9 110.7L462.2 106.6L462.5 148.4L462.8 148.4L463.1 114.2L463.5 117.6L463.8 117.0L464.1 114.9L464.4 114.1L464.7 114.5L465.0 89.5L465.4 89.5L465.7 149.5L466.0 147.4L466.3 147.4L466.6 147.4L466.9 147.4L467.3 147.4L467.6 145.6L467.9 145.0L468.2 145.0L468.5 145.0L468.8 108.0L469.1 105.9L469.5 105.8L469.8 103.1L470.1 145.0L470.4 145.0L470.7 145.0L471.0 148.0L471.4 148.0L471.7 148.0L472.0 148.0L472.3 148.0L472.6 148.0L472.9 148.0L473.2 148.0L473.6 148.0L473.9 148.0L474.2 148.0L474.5 146.1L474.8 146.1L475.1 146.1L475.5 146.1L475.8 146.7L476.1 146.7L476.4 146.7L476.7 116.6L477.0 115.7L477.4 112.9L477.7 113.6L478.0 116.1L478.3 142.6L478.6 142.6L478.9 142.6L479.2 145.9L479.6 145.9L479.9 145.9L480.2 115.6L480.5 115.0L480.8 143.6L481.1 143.6L481.5 143.6L481.8 101.0L482.1 101.0L482.4 143.6L482.7 143.6L483.0 143.6L483.3 143.6L483.7 143.6L484.0 148.0L484.3 148.0L484.6 148.0L484.9 148.7L485.2 148.7L485.6 148.7L485.9 148.7L486.2 148.7L486.5 148.7L486.8 148.7L487.1 148.7L487.4 148.7L487.8 146.0L488.1 146.0L488.4 146.0L488.7 109.0L489.0 108.4L489.3 112.6L489.7 110.9L490.0 110.4L490.3 111.9L490.6 106.3L490.9 148.4L491.2 148.4L491.6 148.3L491.9 147.6L492.2 147.6L492.5 102.5L492.8 102.5L493.1 147.6L493.4 147.7L493.8 147.7L494.1 147.7L494.4 147.7L494.7 147.7L495.0 147.7L495.3 110.7L495.7 112.2L496.0 114.6L496.3 146.3L496.6 146.3L496.9 144.3L497.2 147.6L497.5 147.6L497.9 110.2L498.2 112.5L498.5 110.7L498.8 114.7L499.1 113.1L499.4 112.9L499.8 112.8L500.1 115.6L500.4 110.0L500.7 111.6L501.0 117.5L501.3 146.5L501.7 146.5L502.0 146.5L502.3 146.5L502.6 146.5L502.9 146.5L503.2 144.3L503.5 144.3L503.9 144.3L504.2 144.3L504.5 146.3L504.8 146.3L505.1 108.0L505.4 104.6L505.8 102.9L506.1 106.3L506.4 150.9L506.7 150.9L507.0 150.9L507.3 150.9L507.6 147.9L508.0 149.4L508.3 149.4L508.6 149.4L508.9 149.4L509.2 149.4L509.5 149.4L509.9 142.5L510.2 142.5L510.5 142.5L510.8 142.5L511.1 149.5L511.4 149.5L511.8 149.5L512.1 149.5L512.4 143.7L512.7 143.7L513.0 143.7L513.3 143.7L513.6 146.8L514.0 146.8L514.3 145.7L514.6 146.3L514.9 105.1L515.2 106.1L515.5 105.2L515.9 109.9L516.2 105.8L516.5 105.8L516.8 108.8L517.1 107.7L517.4 102.0L517.7 105.5L518.1 104.5L518.4 105.4L518.7 105.1L519.0 104.1L519.3 106.5L519.6 102.2L520.0 104.1L520.3 103.9L520.6 104.6L520.9 105.0L521.2 104.6L521.5 104.2L521.9 105.5L522.2 106.6L522.5 104.8L522.8 101.6L523.1 108.4L523.4 107.0L523.7 101.6L524.1 104.1L524.4 105.6L524.7 101.9L525.0 107.0L525.3 107.0L525.6 108.1L526.0 104.9L526.3 103.4L526.6 104.8L526.9 104.0L527.2 103.5L527.5 153.8L527.8 153.8L528.2 153.8L528.5 153.8L528.8 153.8L529.1 147.7L529.4 147.7L529.7 147.5L530.1 147.5L530.4 147.5L530.7 147.5L531.0 113.0L531.3 109.1L531.6 104.8L531.9 110.6L532.3 108.7L532.6 109.8L532.9 108.1L533.2 109.0L533.5 107.4L533.8 108.7L534.2 107.1L534.5 109.7L534.8 107.3L535.1 106.5L535.4 105.2L535.7 110.7L536.1 149.2L536.4 150.7L536.7 150.7L537.0 150.7L537.3 143.2L537.6 147.7L537.9 147.7L538.3 141.5L538.6 141.5L538.9 141.5L539.2 141.5L539.5 141.5L539.8 141.5L540.2 109.5L540.5 117.3L540.8 111.7L541.1 110.3L541.4 106.1L541.7 112.7L542.0 108.2L542.4 108.9L542.7 107.1L543.0 111.9L543.3 111.7L543.6 109.5L543.9 112.4L544.3 110.7L544.6 109.4L544.9 112.7L545.2 113.2L545.5 114.6L545.8 110.9L546.2 111.7L546.5 108.2L546.8 110.9L547.1 106.5L547.4 107.6L547.7 147.5L548.0 147.5L548.4 147.5L548.7 147.5L549.0 146.7L549.3 146.6L549.6 148.6L549.9 148.6L550.3 148.6L550.6 148.6L550.9 148.6L551.2 148.6L551.5 146.2L551.8 146.2L552.1 146.2L552.5 146.9L552.8 146.9L553.1 146.9L553.4 146.9L553.7 146.9L554.0 146.9L554.4 142.9L554.7 142.9L555.0 142.9L555.3 148.6L555.6 148.6L555.9 148.6L556.3 148.6L556.6 148.6L556.9 148.0L557.2 112.8L557.5 112.6L557.8 112.0L558.1 111.2L558.5 113.4L558.8 111.7L559.1 145.4L559.4 145.4L559.7 145.4L560.0 145.4L560.4 145.4L560.7 145.4L561.0 145.6L561.3 145.6L561.6 145.0L561.9 145.0L562.2 145.0L562.6 145.0L562.9 146.9L563.2 146.9L563.5 146.9L563.8 146.9L564.1 146.9L564.5 146.9L564.8 146.9L565.1 146.9L565.4 146.9L565.7 146.9L566.0 146.9L566.4 146.9L566.7 146.9L567.0 146.9L567.3 148.7L567.6 148.7L567.9 149.6L568.2 149.6L568.6 149.6L568.9 149.6L569.2 149.6L569.5 148.9L569.8 146.3L570.1 146.3L570.5 149.9L570.8 146.7L571.1 111.5L571.4 111.1L571.7 114.6L572.0 115.8L572.3 109.1L572.7 115.4L573.0 111.8L573.3 111.4L573.6 113.2L573.9 109.9L574.2 112.0L574.6 113.1L574.9 108.9L575.2 100.6L575.5 151.5L575.8 151.5L576.1 151.5L576.4 149.9L576.8 149.9L577.1 149.9L577.4 149.9L577.7 149.9L578.0 149.9L578.3 149.9L578.7 149.9L579.0 149.9L579.3 150.7L579.6 148.6L579.9 148.7L580.2 148.7L580.6 148.7L580.9 105.2L581.2 105.2L581.5 104.0L581.8 102.9L582.1 105.6L582.4 111.5L582.8 109.1L583.1 113.6L583.4 110.4L583.7 113.9L584.0 113.4L584.3 114.1L584.7 112.8L585.0 108.9L585.3 147.4L585.6 148.9L585.9 147.3L586.2 151.3L586.5 151.3L586.9 151.3L587.2 143.6L587.5 143.6L587.8 148.6L588.1 148.6L588.4 149.3L588.8 145.3L589.1 145.3L589.4 149.6L589.7 149.6L590.0 149.6L590.3 149.6L590.7 149.6L591.0 149.6L591.3 149.6L591.6 146.8L591.9 104.1L592.2 105.7L592.5 105.4L592.9 102.4L593.2 98.2L593.5 104.6L593.8 103.9L594.1 105.5L594.4 150.2L594.8 150.2L595.1 150.2L595.4 148.0L595.7 147.6L596.0 147.6L596.3 147.6L596.6 146.7L597.0 146.7L597.3 114.6L597.6 111.7L597.9 113.2L598.2 118.7L598.5 114.4L598.9 147.3L599.2 147.3L599.5 147.3L599.8 147.3L600.1 145.8L600.4 145.8L600.8 145.8L601.1 145.8L601.4 145.8L601.7 145.8L602.0 145.8L602.3 146.7L602.6 146.7L603.0 146.7L603.3 146.7L603.6 146.7L603.9 146.7L604.2 146.7L604.5 145.1L604.9 148.2L605.2 150.7L605.5 146.5L605.8 146.3L606.1 142.0L606.4 141.9L606.7 141.7L607.1 138.9L607.4 150.3L607.7 151.4L608.0 149.4L608.3 147.9L608.6 146.5L609.0 142.9L609.3 143.4L609.6 140.0L609.9 136.9L610.2 138.8L610.5 135.6L610.8 132.9L611.2 132.2L611.5 135.2L611.8 134.9L612.1 138.4L612.4 134.7L612.7 135.3L613.1 131.7L613.4 133.4L613.7 114.5L614.0 114.1L614.3 113.8L614.6 100.3L615.0 101.0L615.3 114.3L615.6 114.5L615.9 114.4L616.2 113.9L616.5 113.6L616.8 113.6L617.2 113.6L617.5 113.9L617.8 113.5L618.1 113.5L618.4 113.7L618.7 113.9L619.1 113.9L619.4 112.6L619.7 113.8L620.0 113.4L620.3 113.4L620.6 112.5L620.9 112.0L621.3 111.5L621.6 112.4L621.9 112.6L622.2 112.9L622.5 113.3L622.8 113.3L623.2 113.4L623.5 113.4L623.8 113.2L624.1 113.3L624.4 113.4L624.7 113.3L625.1 114.5L625.4 114.0L625.7 114.5L626.0 114.9L626.3 114.1L626.6 113.9L626.9 113.5L627.3 114.9L627.6 115.0L627.9 112.6L628.2 112.8L628.5 113.0L628.8 113.0L629.2 112.9L629.5 115.1L629.8 113.7L630.1 113.7L630.4 113.6L630.7 113.5L631.0 112.7L631.4 113.0L631.7 112.9L632.0 112.9L632.3 113.2L632.6 113.4L632.9 113.6L633.3 114.0L633.6 114.2L633.9 114.8L634.2 101.0L634.5 102.6L634.8 95.7L635.2 114.6L635.5 114.7L635.8 114.6L636.1 114.7L636.4 114.4L636.7 113.6L637.0 113.4L637.4 113.5L637.7 113.7L638.0 113.6L638.3 114.1L638.6 112.7L638.9 106.0L639.3 107.4L639.6 109.3L639.9 103.9L640.2 106.3L640.5 114.6L640.8 115.6L641.1 115.9L641.5 115.5L641.8 115.4L642.1 113.6L642.4 114.4L642.7 114.3L643.0 114.2L643.4 114.6L643.7 115.0L644.0 114.6L644.3 114.3L644.6 113.3L644.9 112.9L645.2 113.4L645.6 113.0L645.9 113.0L646.2 113.5L646.5 113.0L646.8 113.0L647.1 113.2L647.5 113.0L647.8 113.5L648.1 113.9L648.4 113.8L648.7 113.8L649.0 113.4L649.4 114.0L649.7 114.3L650.0 113.8L650.3 113.8L650.6 113.3L650.9 113.3L651.2 113.1L651.6 113.0L651.9 112.6L652.2 112.4L652.5 112.0L652.8 111.5L653.1 112.3L653.5 112.9L653.8 112.7L654.1 113.0L654.4 112.7L654.7 111.4L655.0 111.4L655.3 111.7L655.7 111.8L656.0 112.4L656.3 111.9L656.6 112.9L656.9 113.3L657.2 113.6L657.6 113.6L657.9 113.8L658.2 114.1L658.5 114.0L658.8 114.7L659.1 114.6L659.5 114.6L659.8 114.8L660.1 114.6L660.4 114.3L660.7 113.9L661.0 113.7L661.3 113.4L661.7 113.5L662.0 113.7L662.3 113.5L662.6 113.5L662.9 113.5L663.2 113.4L663.6 113.2L663.9 113.0L664.2 112.7L664.5 114.1L664.8 114.5L665.1 114.3L665.4 113.7L665.8 113.6L666.1 113.9L666.4 114.3L666.7 114.4L667.0 114.4L667.3 114.5L667.7 113.9L668.0 113.8L668.3 113.8L668.6 113.7L668.9 113.7L669.2 113.6L669.6 113.3L669.9 114.8L670.2 115.0L670.5 115.1L670.8 115.1L671.1 115.6L671.4 115.9L671.8 115.4L672.1 115.2L672.4 115.2L672.7 114.7L673.0 114.7L673.3 115.0L673.7 115.7L674.0 115.0L674.3 115.5L674.6 115.0L674.9 115.0L675.2 115.1L675.5 116.2L675.9 116.1L676.2 114.8L676.5 113.8L676.8 113.3L677.1 113.3L677.4 113.3L677.8 102.6L678.1 103.7L678.4 111.8L678.7 111.7L679.0 111.3L679.3 111.2L679.7 105.1L680.0 112.5L680.3 111.3L680.6 109.5L680.9 108.0L681.2 106.6L681.5 129.3L681.9 129.3L682.2 102.6L682.5 100.8L682.8 99.6L683.1 97.4L683.4 96.6L683.8 96.2L684.1 96.0L684.4 96.0L684.7 95.8L685.0 95.4L685.3 95.1L685.6 94.6L686.0 95.7L686.3 95.5L686.6 92.9L686.9 92.5L687.2 92.9L687.5 92.9L687.9 128.6L688.2 128.6L688.5 95.0L688.8 94.6L689.1 94.9L689.4 94.8L689.7 94.4L690.1 98.5L690.4 97.3L690.7 97.4L691.0 94.6L691.3 94.3L691.6 94.0L692.0 93.6L692.3 90.8L692.6 90.5L692.9 90.6L693.2 90.8L693.5 91.6L693.9 91.5L694.2 91.4L694.5 91.8L694.8 132.4L695.1 132.4L695.4 91.3L695.7 90.8L696.1 91.0L696.4 90.8L696.7 90.4L697.0 90.6L697.3 90.3L697.6 90.0L698.0 91.5L698.3 91.5L698.6 91.0L698.9 90.9L699.2 90.1L699.5 90.4L699.8 91.9L700.2 87.9L700.5 87.9L700.8 88.0L701.1 87.6L701.4 87.4L701.7 87.5L702.1 87.0L702.4 87.1L702.7 88.0L703.0 122.7L703.3 119.9L703.6 89.2L704.0 82.6L704.3 75.7L704.6 69.3L704.9 63.2L705.2 56.7L705.5 56.8L705.8 57.1L706.2 57.7L706.5 58.4L706.8 58.0L707.1 61.6L707.4 61.6L707.7 61.5L708.1 61.7L708.4 61.8L708.7 61.9L709.0 61.7L709.3 61.8L709.6 61.8L709.9 62.2L710.3 62.3L710.6 62.1L710.9 62.1L711.2 62.2L711.5 62.2L711.8 59.8L712.2 59.4L712.5 59.2L712.8 58.3L713.1 57.9L713.4 58.0L713.7 58.5L714.1 59.6L714.4 58.8L714.7 58.8L715.0 58.6L715.3 58.8L715.6 58.9L715.9 59.1L716.3 57.1L716.6 57.3L716.9 56.9L717.2 57.3L717.5 57.3L717.8 57.4L718.2 57.4L718.5 57.1L718.8 57.2L719.1 57.3L719.4 57.0L719.7 57.4L720.0 62.2L720.4 61.9L720.7 61.9L721.0 59.7L721.3 69.3L721.6 79.5L721.9 89.1L722.3 102.1L722.6 111.5L722.9 111.6L723.2 111.3L723.5 111.2L723.8 111.0L724.1 107.0L724.5 107.0L724.8 110.3L725.1 110.8L725.4 110.3L725.7 110.2L726.0 110.3L726.4 110.0L726.7 109.6L727.0 110.0L727.3 109.7L727.6 110.1L727.9 110.5L728.3 110.2L728.6 109.5L728.9 109.7L729.2 109.4L729.5 109.4L729.8 107.8L730.1 107.7L730.5 107.6L730.8 104.2L731.1 101.3L731.4 98.8L731.7 98.7L732.0 94.6L732.4 94.4L732.7 94.1L733.0 96.3L733.3 96.2L733.6 94.6L733.9 96.9L734.2 97.9L734.6 95.9L734.9 92.4L735.2 92.1L735.5 92.0L735.8 91.9L736.1 91.8L736.5 94.1L736.8 94.4L737.1 111.6L737.4 108.5L737.7 106.8L738.0 109.3L738.4 107.8L738.7 116.3L739.0 110.0L739.3 94.1L739.6 94.4L739.9 94.3L740.2 94.5L740.6 93.4L740.9 90.6L741.2 89.9L741.5 96.9L741.8 95.3L742.1 89.5L742.5 86.5L742.8 84.8L743.1 83.5L743.4 82.5L743.7 95.7L744.0 96.6L744.3 94.8L744.7 93.8L745.0 94.1L745.3 80.9L745.6 81.0L745.9 80.8L746.2 77.9L746.6 87.2L746.9 86.4L747.2 88.5L747.5 106.2L747.8 81.2L748.1 79.3L748.5 84.3L748.8 85.2L749.1 80.3L749.4 82.6L749.7 73.3L750.0 73.7L750.3 75.1L750.7 100.0L751.0 101.4L751.3 100.6L751.6 105.5L751.9 110.1L752.2 105.7L752.6 104.5L752.9 107.5L753.2 99.9L753.5 105.9L753.8 103.7L754.1 106.7L754.4 109.6L754.8 107.8L755.1 102.6L755.4 107.3L755.7 82.3L756.0 77.7L756.3 74.1L756.7 79.6L757.0 66.3L757.3 67.1L757.6 68.5L757.9 62.6L758.2 67.5L758.6 81.3L758.9 82.7L759.2 82.6L759.5 80.4L759.8 78.0L760.1 78.0L760.4 84.2L760.8 82.9L761.1 80.3L761.4 85.7L761.7 80.9L762.0 80.0L762.3 76.2L762.7 80.3L763.0 88.0L763.3 85.9L763.6 88.0" fill="none" stroke="#187818" stroke-width="2.0" stroke-linejoin="round"/>
<path clip-path="url(#cb)" d="M448.0 132.9L448.3 136.3L448.6 136.4L448.9 136.4L449.3 136.5L449.6 121.3L449.9 144.8L450.2 140.1L450.5 141.6L450.8 141.7L451.2 141.8L451.5 126.4L451.8 125.3L452.1 133.7L452.4 130.8L452.7 123.6L453.0 127.7L453.4 125.4L453.7 122.0L454.0 116.7L454.3 117.3L454.6 134.3L454.9 133.7L455.3 140.0L455.6 117.9L455.9 117.4L456.2 121.2L456.5 121.7L456.8 125.7L457.2 121.2L457.5 140.4L457.8 141.5L458.1 139.5L458.4 139.6L458.7 150.9L459.0 151.0L459.4 151.1L459.7 141.4L460.0 141.5L460.3 141.6L460.6 141.6L460.9 141.7L461.3 123.9L461.6 124.5L461.9 135.4L462.2 155.4L462.5 158.2L462.8 140.2L463.1 142.0L463.5 143.7L463.8 145.5L464.1 145.5L464.4 146.7L464.7 142.2L465.0 142.2L465.4 142.2L465.7 142.2L466.0 144.7L466.3 146.4L466.6 146.4L466.9 146.4L467.3 152.4L467.6 152.4L467.9 152.4L468.2 152.4L468.5 146.8L468.8 147.1L469.1 147.1L469.5 147.1L469.8 147.1L470.1 147.1L470.4 147.1L470.7 147.1L471.0 143.1L471.4 146.7L471.7 146.7L472.0 146.7L472.3 142.0L472.6 142.0L472.9 149.3L473.2 150.4L473.6 150.4L473.9 150.4L474.2 150.4L474.5 146.3L474.8 145.4L475.1 141.9L475.5 141.9L475.8 148.4L476.1 148.4L476.4 148.4L476.7 148.4L477.0 148.4L477.4 142.7L477.7 142.7L478.0 143.7L478.3 143.7L478.6 143.7L478.9 143.7L479.2 143.7L479.6 143.7L479.9 143.7L480.2 144.5L480.5 141.6L480.8 141.6L481.1 141.6L481.5 141.6L481.8 147.6L482.1 146.6L482.4 144.8L482.7 144.8L483.0 145.9L483.3 149.6L483.7 149.0L484.0 149.0L484.3 121.8L484.6 123.2L484.9 141.8L485.2 141.8L485.6 141.8L485.9 141.8L486.2 141.8L486.5 141.8L486.8 141.8L487.1 141.8L487.4 141.8L487.8 141.8L488.1 141.8L488.4 141.0L488.7 131.8L489.0 135.9L489.3 132.7L489.7 135.8L490.0 133.2L490.3 130.2L490.6 141.8L490.9 146.4L491.2 146.4L491.6 147.0L491.9 147.0L492.2 147.0L492.5 147.6L492.8 143.6L493.1 150.0L493.4 150.9L493.8 150.9L494.1 150.9L494.4 150.9L494.7 150.9L495.0 150.9L495.3 150.9L495.7 150.9L496.0 150.9L496.3 150.9L496.6 150.9L496.9 150.9L497.2 150.9L497.5 150.9L497.9 150.9L498.2 150.9L498.5 142.8L498.8 141.5L499.1 149.8L499.4 149.8L499.8 149.8L500.1 149.8L500.4 149.8L500.7 149.8L501.0 149.8L501.3 147.1L501.7 147.1L502.0 150.0L502.3 150.0L502.6 150.0L502.9 150.0L503.2 115.4L503.5 149.9L503.9 149.9L504.2 144.8L504.5 146.2L504.8 146.2L505.1 146.2L505.4 146.2L505.8 146.2L506.1 150.9L506.4 150.9L506.7 150.9L507.0 148.9L507.3 138.8L507.6 146.5L508.0 146.5L508.3 146.5L508.6 145.9L508.9 146.9L509.2 146.0L509.5 146.0L509.9 146.0L510.2 146.6L510.5 146.6L510.8 146.6L511.1 146.6L511.4 133.2L511.8 122.3L512.1 122.0L512.4 120.2L512.7 126.0L513.0 129.0L513.3 126.0L513.6 120.3L514.0 116.2L514.3 114.9L514.6 114.9L514.9 123.6L515.2 123.1L515.5 122.4L515.9 123.8L516.2 121.8L516.5 122.2L516.8 120.9L517.1 122.4L517.4 115.3L517.7 114.2L518.1 127.2L518.4 114.2L518.7 118.7L519.0 117.9L519.3 117.9L519.6 118.1L520.0 117.7L520.3 117.8L520.6 117.3L520.9 130.7L521.2 145.7L521.5 146.6L521.9 146.6L522.2 146.6L522.5 146.6L522.8 146.6L523.1 146.6L523.4 146.6L523.7 146.6L524.1 117.8L524.4 146.6L524.7 146.6L525.0 146.6L525.3 144.7L525.6 144.7L526.0 147.9L526.3 147.9L526.6 147.9L526.9 143.7L527.2 122.0L527.5 143.7L527.8 143.7L528.2 150.0L528.5 150.0L528.8 150.0L529.1 150.0L529.4 146.4L529.7 146.4L530.1 152.0L530.4 148.5L530.7 149.2L531.0 147.6L531.3 147.6L531.6 147.6L531.9 147.6L532.3 147.6L532.6 148.6L532.9 148.6L533.2 127.0L533.5 124.5L533.8 122.8L534.2 124.1L534.5 125.7L534.8 122.6L535.1 127.3L535.4 127.1L535.7 123.8L536.1 124.2L536.4 125.0L536.7 123.5L537.0 125.2L537.3 151.4L537.6 151.4L537.9 148.3L538.3 148.3L538.6 148.4L538.9 148.4L539.2 148.4L539.5 148.4L539.8 146.2L540.2 146.2L540.5 146.2L540.8 146.2L541.1 146.2L541.4 146.2L541.7 146.2L542.0 146.2L542.4 142.6L542.7 142.6L543.0 142.6L543.3 142.6L543.6 142.6L543.9 142.6L544.3 142.6L544.6 142.6L544.9 142.6L545.2 142.7L545.5 152.9L545.8 152.9L546.2 147.3L546.5 147.3L546.8 147.3L547.1 147.3L547.4 147.3L547.7 147.3L548.0 147.3L548.4 146.8L548.7 146.8L549.0 146.8L549.3 151.3L549.6 151.3L549.9 151.3L550.3 151.3L550.6 137.8L550.9 141.4L551.2 141.4L551.5 141.4L551.8 141.4L552.1 141.4L552.5 146.0L552.8 146.0L553.1 146.0L553.4 146.4L553.7 146.4L554.0 146.4L554.4 143.9L554.7 147.1L555.0 147.1L555.3 147.1L555.6 149.4L555.9 149.4L556.3 147.0L556.6 147.0L556.9 148.5L557.2 148.5L557.5 148.6L557.8 148.6L558.1 148.6L558.5 148.6L558.8 148.6L559.1 143.6L559.4 145.2L559.7 145.2L560.0 147.4L560.4 147.4L560.7 147.4L561.0 147.4L561.3 147.4L561.6 147.4L561.9 147.4L562.2 147.4L562.6 147.4L562.9 147.4L563.2 147.4L563.5 114.8L563.8 109.6L564.1 101.3L564.5 93.9L564.8 90.7L565.1 90.0L565.4 86.7L565.7 82.9L566.0 113.3L566.4 104.4L566.7 115.2L567.0 117.9L567.3 94.0L567.6 91.6L567.9 112.3L568.2 112.3L568.6 95.6L568.9 97.2L569.2 104.2L569.5 98.5L569.8 90.4L570.1 95.6L570.5 92.5L570.8 95.3L571.1 91.7L571.4 90.1L571.7 101.0L572.0 101.8L572.3 100.2L572.7 100.7L573.0 104.5L573.3 104.3L573.6 94.7L573.9 92.0L574.2 94.9L574.6 117.2L574.9 115.0L575.2 118.0L575.5 112.6L575.8 117.2L576.1 117.2L576.4 102.5L576.8 100.9L577.1 97.6L577.4 97.0L577.7 107.5L578.0 102.5L578.3 102.5L578.7 104.4L579.0 101.6L579.3 101.1L579.6 104.3L579.9 104.3L580.2 104.3L580.6 85.8L580.9 85.8L581.2 104.3L581.5 100.3L581.8 102.9L582.1 106.5L582.4 104.1L582.8 98.9L583.1 100.4L583.4 100.4L583.7 92.5L584.0 93.6L584.3 91.9L584.7 106.1L585.0 100.2L585.3 95.6L585.6 100.2L585.9 99.3L586.2 96.8L586.5 96.2L586.9 98.0L587.2 98.3L587.5 108.9L587.8 112.3L588.1 124.3L588.4 127.0L588.8 129.9L589.1 128.5L589.4 128.7L589.7 138.0L590.0 137.5L590.3 137.1L590.7 136.6L591.0 136.2L591.3 135.8L591.6 131.9L591.9 131.9L592.2 131.8L592.5 131.8L592.9 119.8L593.2 110.0L593.5 99.8L593.8 89.7L594.1 89.8L594.4 90.1L594.8 90.2L595.1 89.9L595.4 90.6L595.7 90.6L596.0 72.9L596.3 72.9L596.6 91.1L597.0 91.1L597.3 91.2L597.6 90.0L597.9 89.6L598.2 89.5L598.5 89.0L598.9 89.5L599.2 90.1L599.5 89.9L599.8 90.1L600.1 90.6L600.4 90.4L600.8 89.8L601.1 90.2L601.4 90.1L601.7 90.2L602.0 92.4L602.3 92.2L602.6 92.2L603.0 90.5L603.3 90.5L603.6 90.2L603.9 90.6L604.2 90.3L604.5 90.0L604.9 90.3L605.2 90.6L605.5 90.8L605.8 90.9L606.1 90.6L606.4 90.7L606.7 90.0L607.1 89.6L607.4 89.7L607.7 89.4L608.0 89.4L608.3 88.4L608.6 89.0L609.0 89.3L609.3 87.7L609.6 87.9L609.9 87.5L610.2 97.8L610.5 99.0L610.8 90.8L611.2 91.5L611.5 91.6L611.8 91.1L612.1 91.4L612.4 89.6L612.7 91.1L613.1 90.9L613.4 90.7L613.7 91.2L614.0 91.3L614.3 91.8L614.6 91.9L615.0 92.1L615.3 92.2L615.6 93.1L615.9 93.3L616.2 93.1L616.5 93.2L616.8 93.6L617.2 93.3L617.5 93.5L617.8 93.0L618.1 92.8L618.4 93.3L618.7 92.7L619.1 92.5L619.4 92.3L619.7 92.0L620.0 92.3L620.3 91.7L620.6 91.7L620.9 91.1L621.3 90.4L621.6 102.5L621.9 102.5L622.2 90.1L622.5 89.9L622.8 89.8L623.2 90.1L623.5 90.1L623.8 89.9L624.1 89.8L624.4 89.6L624.7 89.8L625.1 89.2L625.4 88.9L625.7 88.4L626.0 88.2L626.3 88.5L626.6 88.4L626.9 88.9L627.3 88.9L627.6 89.0L627.9 89.2L628.2 89.9L628.5 90.0L628.8 89.9L629.2 89.9L629.5 90.6L629.8 90.7L630.1 90.8L630.4 90.7L630.7 90.1L631.0 90.3L631.4 93.0L631.7 92.1L632.0 92.5L632.3 92.1L632.6 92.7L632.9 92.9L633.3 92.1L633.6 92.4L633.9 92.6L634.2 72.1L634.5 72.1L634.8 91.9L635.2 91.2L635.5 90.9L635.8 91.4L636.1 91.4L636.4 90.6L636.7 90.1L637.0 89.7L637.4 90.0L637.7 90.2L638.0 89.9L638.3 89.1L638.6 88.8L638.9 89.5L639.3 88.7L639.6 88.8L639.9 88.7L640.2 89.0L640.5 88.5L640.8 88.6L641.1 88.6L641.5 88.7L641.8 90.5L642.1 90.5L642.4 90.1L642.7 89.8L643.0 89.7L643.4 90.3L643.7 90.5L644.0 90.6L644.3 90.8L644.6 90.8L644.9 90.6L645.2 90.7L645.6 90.3L645.9 89.9L646.2 89.5L646.5 89.3L646.8 89.0L647.1 88.6L647.5 88.4L647.8 88.4L648.1 88.1L648.4 87.3L648.7 88.4L649.0 88.0L649.4 88.2L649.7 88.1L650.0 87.9L650.3 88.0L650.6 88.0L650.9 88.0L651.2 88.0L651.6 88.4L651.9 88.8L652.2 88.8L652.5 88.5L652.8 88.9L653.1 88.7L653.5 88.9L653.8 89.1L654.1 88.7L654.4 88.1L654.7 87.8L655.0 87.8L655.3 88.1L655.7 88.8L656.0 88.6L656.3 88.8L656.6 89.1L656.9 89.4L657.2 91.6L657.6 91.6L657.9 92.0L658.2 91.8L658.5 91.1L658.8 88.3L659.1 88.7L659.5 88.8L659.8 88.7L660.1 87.7L660.4 87.9L660.7 88.1L661.0 77.8L661.3 77.8L661.7 88.6L662.0 89.4L662.3 89.3L662.6 90.0L662.9 88.7L663.2 88.3L663.6 88.9L663.9 89.0L664.2 88.5L664.5 89.3L664.8 89.4L665.1 89.3L665.4 89.5L665.8 89.8L666.1 89.2L666.4 87.3L666.7 87.5L667.0 87.5L667.3 87.0L667.7 87.8L668.0 88.0L668.3 88.0L668.6 90.6L668.9 90.7L669.2 90.5L669.6 87.4L669.9 87.1L670.2 87.1L670.5 86.9L670.8 73.5L671.1 73.5L671.4 87.3L671.8 87.9L672.1 87.6L672.4 87.3L672.7 87.6L673.0 86.7L673.3 86.8L673.7 86.5L674.0 86.5L674.3 86.6L674.6 85.8L674.9 85.1L675.2 84.9L675.5 84.9L675.9 102.5L676.2 102.5L676.5 86.6L676.8 87.8L677.1 88.4L677.4 87.9L677.8 75.9L678.1 63.8L678.4 52.9L678.7 52.6L679.0 51.1L679.3 50.9L679.7 50.8L680.0 50.6L680.3 49.1L680.6 50.5L680.9 50.5L681.2 51.5L681.5 50.9L681.9 51.1L682.2 51.3L682.5 51.6L682.8 52.3L683.1 51.8L683.4 52.1L683.8 51.4L684.1 51.3L684.4 51.2L684.7 49.8L685.0 50.2L685.3 50.0L685.6 52.3L686.0 52.1L686.3 52.7L686.6 52.9L686.9 53.1L687.2 53.5L687.5 53.4L687.9 53.5L688.2 53.0L688.5 52.9L688.8 52.7L689.1 53.0L689.4 53.1L689.7 53.6L690.1 53.4L690.4 53.4L690.7 53.4L691.0 54.0L691.3 53.7L691.6 53.7L692.0 53.4L692.3 53.8L692.6 53.5L692.9 53.2L693.2 53.3L693.5 54.0L693.9 54.4L694.2 53.1L694.5 52.6L694.8 53.1L695.1 53.0L695.4 52.4L695.7 55.2L696.1 55.2L696.4 54.8L696.7 55.3L697.0 55.5L697.3 56.0L697.6 55.1L698.0 55.3L698.3 55.6L698.6 55.9L698.9 55.5L699.2 55.6L699.5 54.3L699.8 53.9L700.2 53.6L700.5 53.6L700.8 55.7L701.1 56.1L701.4 55.7L701.7 55.8L702.1 56.1L702.4 55.3L702.7 54.3L703.0 54.0L703.3 54.0L703.6 54.4L704.0 54.3L704.3 54.1L704.6 54.9L704.9 55.1L705.2 54.7L705.5 55.7L705.8 55.5L706.2 55.7L706.5 58.1L706.8 57.6L707.1 57.5L707.4 55.3L707.7 55.3L708.1 55.5L708.4 55.6L708.7 55.6L709.0 55.0L709.3 57.6L709.6 57.4L709.9 57.4L710.3 57.5L710.6 57.4L710.9 55.7L711.2 55.2L711.5 56.5L711.8 56.7L712.2 57.4L712.5 57.2L712.8 57.8L713.1 57.2L713.4 57.3L713.7 57.4L714.1 57.2L714.4 56.7L714.7 56.4L715.0 56.5L715.3 54.7L715.6 54.1L715.9 56.4L716.3 56.9L716.6 56.6L716.9 56.4L717.2 56.2L717.5 56.2L717.8 56.2L718.2 56.3L718.5 56.5L718.8 56.1L719.1 55.3L719.4 55.4L719.7 55.3L720.0 55.3L720.4 55.5L720.7 56.0L721.0 56.0L721.3 55.5L721.6 55.2L721.9 55.0L722.3 54.3L722.6 54.6L722.9 54.6L723.2 55.4L723.5 55.5L723.8 56.1L724.1 56.0L724.5 55.4L724.8 54.7L725.1 54.9L725.4 54.6L725.7 55.7L726.0 55.2L726.4 55.2L726.7 55.3L727.0 54.7L727.3 54.8L727.6 55.2L727.9 55.4L728.3 54.9L728.6 54.8L728.9 55.3L729.2 52.6L729.5 52.4L729.8 54.9L730.1 55.0L730.5 55.5L730.8 55.2L731.1 53.3L731.4 53.4L731.7 54.9L732.0 55.1L732.4 55.7L732.7 55.7L733.0 55.2L733.3 55.8L733.6 54.0L733.9 54.1L734.2 55.3L734.6 56.0L734.9 56.4L735.2 55.7L735.5 55.9L735.8 55.6L736.1 55.7L736.5 55.8L736.8 54.8L737.1 54.5L737.4 55.5L737.7 57.1L738.0 57.3L738.4 55.5L738.7 55.5L739.0 57.6L739.3 58.1L739.6 54.7L739.9 56.1L740.2 56.5L740.6 56.9L740.9 57.6L741.2 57.7L741.5 57.5L741.8 57.4L742.1 57.6L742.5 57.7L742.8 57.9L743.1 58.5L743.4 58.5L743.7 58.3L744.0 58.9L744.3 58.4L744.7 74.3L745.0 76.8L745.3 58.1L745.6 58.0L745.9 59.3L746.2 58.9L746.6 58.0L746.9 57.6L747.2 57.9L747.5 57.3L747.8 58.3L748.1 58.5L748.5 58.6L748.8 58.8L749.1 57.4L749.4 59.2L749.7 59.4L750.0 59.5L750.3 67.5L750.7 59.6L751.0 58.9L751.3 59.3L751.6 58.9L751.9 58.5L752.2 56.3L752.6 56.1L752.9 56.2L753.2 56.3L753.5 56.7L753.8 57.7L754.1 56.7L754.4 56.9L754.8 54.7L755.1 54.9L755.4 56.1L755.7 54.7L756.0 55.4L756.3 55.7L756.7 56.1L757.0 58.8L757.3 59.1L757.6 59.4L757.9 59.7L758.2 59.4L758.6 59.5L758.9 59.7L759.2 58.0L759.5 59.4L759.8 59.1L760.1 59.6L760.4 59.9L760.8 58.0L761.1 57.9L761.4 57.9L761.7 58.2L762.0 58.4L762.3 58.7L762.7 58.8L763.0 60.3L763.3 60.2L763.6 61.2" fill="none" stroke="#1010e8" stroke-width="2.0" stroke-linejoin="round"/>

<path d="M448,247.50h5M763.6,247.50h-5M448,233.00h3M763.6,233.00h-3M448,218.50h5M763.6,218.50h-5M448,204.00h3M763.6,204.00h-3M448,189.50h5M763.6,189.50h-5M448,175.00h3M763.6,175.00h-3M448,160.50h5M763.6,160.50h-5M448,146.00h3M763.6,146.00h-3M448,131.50h5M763.6,131.50h-5M448,117.00h3M763.6,117.00h-3M448,102.50h5M763.6,102.50h-5M448,88.00h3M763.6,88.00h-3M448,73.50h5M763.6,73.50h-5M448,59.00h3M763.6,59.00h-3M448,44.50h5M763.6,44.50h-5M448,30.00h3M763.6,30.00h-3M448,15.50h5M763.6,15.50h-5M448.00,247.5v-5M448.00,15.5v5M479.56,247.5v-3M479.56,15.5v3M511.12,247.5v-5M511.12,15.5v5M542.68,247.5v-3M542.68,15.5v3M574.24,247.5v-5M574.24,15.5v5M605.80,247.5v-3M605.80,15.5v3M637.36,247.5v-5M637.36,15.5v5M668.92,247.5v-3M668.92,15.5v3M700.48,247.5v-5M700.48,15.5v5M732.04,247.5v-3M732.04,15.5v3M763.60,247.5v-5M763.60,15.5v5" stroke="#000" stroke-width="1.5" fill="none"/>
<rect x="448" y="15.5" width="315.6" height="232.0" fill="none" stroke="#000" stroke-width="1.6"/>
<text x="441.20" y="252.50" class="tl" text-anchor="end">–8</text>
<text x="441.20" y="223.50" class="tl" text-anchor="end">–6</text>
<text x="441.20" y="194.50" class="tl" text-anchor="end">–4</text>
<text x="441.20" y="165.50" class="tl" text-anchor="end">–2</text>
<text x="441.20" y="136.50" class="tl" text-anchor="end">0</text>
<text x="441.20" y="107.50" class="tl" text-anchor="end">2</text>
<text x="441.20" y="78.50" class="tl" text-anchor="end">4</text>
<text x="441.20" y="49.50" class="tl" text-anchor="end">6</text>
<text x="441.20" y="20.50" class="tl" text-anchor="end">8</text>
<text x="448.00" y="265.20" class="tl" text-anchor="middle">0</text>
<text x="511.12" y="265.20" class="tl" text-anchor="middle">2</text>
<text x="574.24" y="265.20" class="tl" text-anchor="middle">4</text>
<text x="637.36" y="265.20" class="tl" text-anchor="middle">6</text>
<text x="700.48" y="265.20" class="tl" text-anchor="middle">8</text>
<path d="M759.32,265.20L760.72,265.20L760.72,255.18L759.67,255.18Q758.62,256.80 756.66,257.50L756.66,258.62Q758.34,258.20 759.32,257.29Z" fill="#000"/><text x="763.60" y="265.20" class="tl">0</text>
<text x="605.80" y="286.8" class="at2" text-anchor="middle">Time (ps)</text>
<text transform="translate(412.2,131.2) rotate(-90)" class="at" text-anchor="middle">Position (Å)</text>
<text x="398.5" y="15.7" class="pl">b</text>
<line x1="456" y1="25.5" x2="482.5" y2="25.5" stroke="#1010e8" stroke-width="1.6"/>
<g transform="translate(488.0,29.7) scale(0.93,1)"><text class="lg">Traj_</text><path d="M25.28,0.00L26.28,0.00L26.28,-7.16L25.53,-7.16Q24.78,-6.00 23.38,-5.50L23.38,-4.70Q24.58,-5.00 25.28,-5.65Z" fill="#000"/></g>
<line x1="520.5" y1="25.5" x2="547.0" y2="25.5" stroke="#187818" stroke-width="1.6"/>
<text transform="translate(552.5,29.7) scale(0.93,1)" class="lg">Traj_2</text>
<line x1="456" y1="39.3" x2="482.5" y2="39.3" stroke="#8c8422" stroke-width="1.6"/>
<text transform="translate(488.0,43.5) scale(0.93,1)" class="lg">Traj_3</text>
<line x1="520.5" y1="39.3" x2="547.0" y2="39.3" stroke="#0c0c86" stroke-width="1.6"/>
<text transform="translate(552.5,43.5) scale(0.93,1)" class="lg">Traj_4</text>
<line x1="456" y1="52.8" x2="482.5" y2="52.8" stroke="#8c2ce8" stroke-width="1.6"/>
<text transform="translate(488.0,57.0) scale(0.93,1)" class="lg">Traj_5</text>
<line x1="520.5" y1="52.8" x2="547.0" y2="52.8" stroke="#f01818" stroke-width="1.6"/>
<text transform="translate(552.5,57.0) scale(0.93,1)" class="lg">Traj_6</text>
</svg>
</body></html>
